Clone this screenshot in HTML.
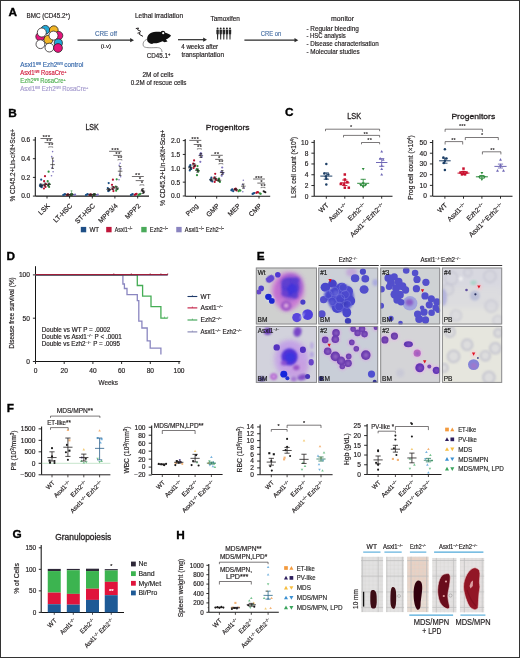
<!DOCTYPE html>
<html><head><meta charset="utf-8"><style>
html,body{margin:0;padding:0;background:#fff;}
#f{position:relative;width:520px;height:658px;overflow:hidden;background:#fff;}
svg{position:absolute;left:0;top:0;}
text{font-family:"Liberation Sans", Arial, sans-serif;}
</style></head><body><div id="f">
<svg width="520" height="658" viewBox="0 0 520 658">
<defs>
<filter id="bl1" x="-20%" y="-20%" width="140%" height="140%"><feGaussianBlur stdDeviation="0.8"/></filter>
<filter id="bl2" x="-20%" y="-20%" width="140%" height="140%"><feGaussianBlur stdDeviation="1.5"/></filter>
<filter id="bl3" x="-30%" y="-30%" width="160%" height="160%"><feGaussianBlur stdDeviation="2.5"/></filter>
<filter id="bl05" x="-30%" y="-30%" width="160%" height="160%"><feGaussianBlur stdDeviation="0.45"/></filter>
</defs>
<rect x="0" y="0" width="520" height="658" fill="#fff"/>
<text x="8.6" y="15.8" font-size="11.8" text-anchor="start" fill="#000" font-weight="bold" stroke="#000" stroke-width="0.35">A</text>
<text x="26.5" y="17.6" font-size="6.8" text-anchor="start" fill="#231f20" font-weight="normal" textLength="43.5" lengthAdjust="spacingAndGlyphs" stroke="#231f20" stroke-width="0.18">BMC (CD45.2<tspan baseline-shift="super" font-size="65%">+</tspan>)</text>
<circle cx="40.3" cy="36.6" r="4.5" fill="#e5157c" stroke="#231f20" stroke-width="0.75"/>
<circle cx="45.3" cy="29.8" r="4.4" fill="#20a9d8" stroke="#231f20" stroke-width="0.75"/>
<circle cx="41.8" cy="32.5" r="4.5" fill="#fff" stroke="#231f20" stroke-width="0.75"/>
<circle cx="53.8" cy="30.2" r="4.4" fill="#f2b627" stroke="#231f20" stroke-width="0.75"/>
<circle cx="58.6" cy="35.6" r="4.2" fill="#e5157c" stroke="#231f20" stroke-width="0.75"/>
<circle cx="48.4" cy="39.7" r="4.5" fill="#f2b627" stroke="#231f20" stroke-width="0.75"/>
<circle cx="53.5" cy="35.6" r="4.5" fill="#fff" stroke="#231f20" stroke-width="0.75"/>
<circle cx="40.4" cy="44.2" r="4.4" fill="#fff" stroke="#231f20" stroke-width="0.75"/>
<circle cx="49.4" cy="47.6" r="4.4" fill="#fff" stroke="#231f20" stroke-width="0.75"/>
<circle cx="58.3" cy="43" r="4.1" fill="#20a9d8" stroke="#231f20" stroke-width="0.75"/>
<circle cx="58" cy="48" r="4.4" fill="#e5157c" stroke="#231f20" stroke-width="0.75"/>
<text x="20.3" y="67.3" font-size="6.5" text-anchor="start" fill="#3b6cad" font-weight="normal" textLength="63.1" lengthAdjust="spacingAndGlyphs" stroke="#3b6cad" stroke-width="0.18">Asxl1<tspan baseline-shift="super" font-size="65%">fl/fl</tspan> Ezh2<tspan baseline-shift="super" font-size="65%">fl/fl</tspan> control</text>
<text x="20.3" y="75.14999999999999" font-size="6.5" text-anchor="start" fill="#d1203f" font-weight="normal" textLength="46.1" lengthAdjust="spacingAndGlyphs" stroke="#d1203f" stroke-width="0.18">Asxl1<tspan baseline-shift="super" font-size="65%">fl/fl</tspan> RosaCre<tspan baseline-shift="super" font-size="65%">+</tspan></text>
<text x="20.3" y="83.0" font-size="6.5" text-anchor="start" fill="#52b155" font-weight="normal" textLength="45.4" lengthAdjust="spacingAndGlyphs" stroke="#52b155" stroke-width="0.18">Ezh2<tspan baseline-shift="super" font-size="65%">fl/fl</tspan> RosaCre<tspan baseline-shift="super" font-size="65%">+</tspan></text>
<text x="20.3" y="90.85" font-size="6.5" text-anchor="start" fill="#a69ccf" font-weight="normal" textLength="68.1" lengthAdjust="spacingAndGlyphs" stroke="#a69ccf" stroke-width="0.18">Asxl1<tspan baseline-shift="super" font-size="65%">fl/fl</tspan> Ezh2<tspan baseline-shift="super" font-size="65%">fl/fl</tspan> RosaCre<tspan baseline-shift="super" font-size="65%">+</tspan></text>
<line x1="77.5" y1="40.2" x2="131" y2="40.2" stroke="#2a2a2a" stroke-width="1.2"/>
<path d="M130.2 38.1 L134 40.2 L130.2 42.300000000000004 Z" fill="#2a2a2a"/>
<text x="106" y="35.9" font-size="6.9" text-anchor="middle" fill="#4f75a8" font-weight="normal" textLength="22" lengthAdjust="spacingAndGlyphs" stroke="#4f75a8" stroke-width="0.18">CRE off</text>
<text x="106" y="48.2" font-size="6.2" text-anchor="middle" fill="#231f20" font-weight="normal" stroke="#231f20" stroke-width="0.18">(i.v)</text>
<text x="159" y="18.1" font-size="6.8" text-anchor="middle" fill="#231f20" font-weight="normal" textLength="48" lengthAdjust="spacingAndGlyphs" stroke="#231f20" stroke-width="0.18">Lethal irradiation</text>
<path d="M135.8 28.6 L138.5 28 L137.6 29.8 L141 31.5" fill="none" stroke="#231f20" stroke-width="1.0"/>
<path d="M137.5 33.2 L140 32.6 L139.4 34.4 L143 36.4" fill="none" stroke="#231f20" stroke-width="1.0"/>
<path d="M147.2 40.5 C146.5 35.5 150 32 156 31.8 C159.5 31.7 162 32 164.5 32.6 C167 33.4 169.5 34.2 171 35.4 C170.2 37 168 38.5 166 39.6 L167.5 41.6 L164.5 42.2 L162.5 41.2 C160 42.6 156.5 43.4 153.5 43.2 L152 44 L150 43.4 C148.6 42.6 147.6 41.8 147.2 40.5 Z" fill="#111" stroke="none" stroke-width="0.8"/>
<circle cx="162.9" cy="33.1" r="2.3" fill="#111"/>
<circle cx="163.2" cy="33.2" r="1.1" fill="#fff"/>
<path d="M147.3 39 C143.8 40.5 142.2 43.5 143.6 46.3 C145 48 150 47.8 156 47.6 C160 47.5 161.8 48.5 162 52" fill="none" stroke="#666" stroke-width="0.7"/>
<text x="158.6" y="58.2" font-size="6.8" text-anchor="middle" fill="#231f20" font-weight="normal" textLength="23.5" lengthAdjust="spacingAndGlyphs" stroke="#231f20" stroke-width="0.18">CD45.1<tspan baseline-shift="super" font-size="65%">+</tspan></text>
<text x="158" y="77.4" font-size="6.8" text-anchor="middle" fill="#231f20" font-weight="normal" textLength="31" lengthAdjust="spacingAndGlyphs" stroke="#231f20" stroke-width="0.18">2M of cells</text>
<text x="158.6" y="85.1" font-size="6.8" text-anchor="middle" fill="#231f20" font-weight="normal" textLength="55.7" lengthAdjust="spacingAndGlyphs" stroke="#231f20" stroke-width="0.18">0.2M of rescue cells</text>
<line x1="178" y1="39.7" x2="204" y2="39.7" stroke="#2a2a2a" stroke-width="1.2"/>
<path d="M203.2 37.6 L207 39.7 L203.2 41.800000000000004 Z" fill="#2a2a2a"/>
<text x="181.2" y="49.4" font-size="6.8" text-anchor="start" fill="#231f20" font-weight="normal" textLength="37" lengthAdjust="spacingAndGlyphs" stroke="#231f20" stroke-width="0.18">4 weeks after</text>
<text x="181.5" y="56.9" font-size="6.8" text-anchor="start" fill="#231f20" font-weight="normal" textLength="42.5" lengthAdjust="spacingAndGlyphs" stroke="#231f20" stroke-width="0.18">transplantation</text>
<text x="225.2" y="21.3" font-size="6.6" text-anchor="middle" fill="#231f20" font-weight="normal" textLength="29.5" lengthAdjust="spacingAndGlyphs" stroke="#231f20" stroke-width="0.18">Tamoxifen</text>
<circle cx="217.6" cy="28.5" r="0.95" fill="#222"/>
<path d="M216.35 29.7 L218.85 29.7 L218.75 34.2 L218.20 34.2 L218.10 39.6 L217.10 39.6 L217.00 34.2 L216.45 34.2 Z" fill="#262626"/>
<circle cx="220.7" cy="28.5" r="0.95" fill="#222"/>
<path d="M219.45 29.7 L221.95 29.7 L221.85 34.2 L221.30 34.2 L221.20 39.6 L220.20 39.6 L220.10 34.2 L219.55 34.2 Z" fill="#262626"/>
<circle cx="223.79999999999998" cy="28.5" r="0.95" fill="#222"/>
<path d="M222.55 29.7 L225.05 29.7 L224.95 34.2 L224.40 34.2 L224.30 39.6 L223.30 39.6 L223.20 34.2 L222.65 34.2 Z" fill="#262626"/>
<circle cx="226.9" cy="28.5" r="0.95" fill="#222"/>
<path d="M225.65 29.7 L228.15 29.7 L228.05 34.2 L227.50 34.2 L227.40 39.6 L226.40 39.6 L226.30 34.2 L225.75 34.2 Z" fill="#262626"/>
<circle cx="230.0" cy="28.5" r="0.95" fill="#222"/>
<path d="M228.75 29.7 L231.25 29.7 L231.15 34.2 L230.60 34.2 L230.50 39.6 L229.50 39.6 L229.40 34.2 L228.85 34.2 Z" fill="#262626"/>
<line x1="244.4" y1="40.2" x2="295.3" y2="40.2" stroke="#2a2a2a" stroke-width="1.2"/>
<path d="M294.5 38.1 L298.3 40.2 L294.5 42.300000000000004 Z" fill="#2a2a2a"/>
<text x="271" y="36.1" font-size="6.9" text-anchor="middle" fill="#4f75a8" font-weight="normal" textLength="20.6" lengthAdjust="spacingAndGlyphs" stroke="#4f75a8" stroke-width="0.18">CRE on</text>
<text x="342.5" y="21.2" font-size="6.9" text-anchor="middle" fill="#231f20" font-weight="normal" textLength="23" lengthAdjust="spacingAndGlyphs" stroke="#231f20" stroke-width="0.18">monitor</text>
<text x="306.4" y="30.6" font-size="6.9" text-anchor="start" fill="#231f20" font-weight="normal" textLength="52.4" lengthAdjust="spacingAndGlyphs" stroke="#231f20" stroke-width="0.18">- Regular bleeding</text>
<text x="306.4" y="38.35" font-size="6.9" text-anchor="start" fill="#231f20" font-weight="normal" textLength="39.4" lengthAdjust="spacingAndGlyphs" stroke="#231f20" stroke-width="0.18">- HSC analysis</text>
<text x="306.4" y="46.1" font-size="6.9" text-anchor="start" fill="#231f20" font-weight="normal" textLength="72.3" lengthAdjust="spacingAndGlyphs" stroke="#231f20" stroke-width="0.18">- Disease characterisation</text>
<text x="306.4" y="53.85" font-size="6.9" text-anchor="start" fill="#231f20" font-weight="normal" textLength="53.3" lengthAdjust="spacingAndGlyphs" stroke="#231f20" stroke-width="0.18">- Molecular studies</text>
<text x="8.31" y="116.9" font-size="11.8" text-anchor="start" fill="#000" font-weight="bold" stroke="#000" stroke-width="0.35">B</text>
<text x="92.1" y="129.8" font-size="8.4" text-anchor="middle" fill="#231f20" font-weight="normal" stroke="#231f20" stroke-width="0.3" textLength="13.4" lengthAdjust="spacingAndGlyphs">LSK</text>
<text x="227.7" y="129.7" font-size="8.1" text-anchor="middle" fill="#231f20" font-weight="normal" stroke="#231f20" stroke-width="0.3" textLength="43.8" lengthAdjust="spacingAndGlyphs">Progenitors</text>
<text x="15.3" y="165.2" font-size="7.5" text-anchor="middle" fill="#231f20" font-weight="normal" transform="rotate(-90 15.3 165.2)" textLength="72.5" lengthAdjust="spacingAndGlyphs" stroke="#231f20" stroke-width="0.18">% CD45.2+Lin-cKit+Sca+</text>
<text x="165.4" y="167.9" font-size="7.5" text-anchor="middle" fill="#231f20" font-weight="normal" transform="rotate(-90 165.4 167.9)" textLength="76" lengthAdjust="spacingAndGlyphs" stroke="#231f20" stroke-width="0.18">% CD45.2+Lin-cKit+Sca+</text>
<line x1="35.3" y1="137" x2="35.3" y2="196.1" stroke="#141414" stroke-width="1.05"/>
<line x1="32.9" y1="140.0" x2="35.3" y2="140.0" stroke="#141414" stroke-width="0.9"/>
<text x="30.299999999999997" y="142.376" font-size="6.6" text-anchor="end" fill="#231f20" font-weight="normal" stroke="#231f20" stroke-width="0.18">0.6</text>
<line x1="32.9" y1="158.7" x2="35.3" y2="158.7" stroke="#141414" stroke-width="0.9"/>
<text x="30.299999999999997" y="161.076" font-size="6.6" text-anchor="end" fill="#231f20" font-weight="normal" stroke="#231f20" stroke-width="0.18">0.4</text>
<line x1="32.9" y1="177.4" x2="35.3" y2="177.4" stroke="#141414" stroke-width="0.9"/>
<text x="30.299999999999997" y="179.776" font-size="6.6" text-anchor="end" fill="#231f20" font-weight="normal" stroke="#231f20" stroke-width="0.18">0.2</text>
<line x1="32.9" y1="196.1" x2="35.3" y2="196.1" stroke="#141414" stroke-width="0.9"/>
<text x="30.299999999999997" y="198.476" font-size="6.6" text-anchor="end" fill="#231f20" font-weight="normal" stroke="#231f20" stroke-width="0.18">0.0</text>
<line x1="35.3" y1="196.1" x2="149" y2="196.1" stroke="#141414" stroke-width="1.05"/>
<line x1="47" y1="196.1" x2="47" y2="198.5" stroke="#141414" stroke-width="0.9"/>
<text x="50.2" y="206.29999999999998" font-size="6.8" text-anchor="end" fill="#231f20" font-weight="normal" transform="rotate(-45 50.2 206.29999999999998)" stroke="#231f20" stroke-width="0.18">LSK</text>
<line x1="69.6" y1="196.1" x2="69.6" y2="198.5" stroke="#141414" stroke-width="0.9"/>
<text x="72.8" y="206.29999999999998" font-size="6.8" text-anchor="end" fill="#231f20" font-weight="normal" transform="rotate(-45 72.8 206.29999999999998)" stroke="#231f20" stroke-width="0.18">LT-HSC</text>
<line x1="92.3" y1="196.1" x2="92.3" y2="198.5" stroke="#141414" stroke-width="0.9"/>
<text x="95.5" y="206.29999999999998" font-size="6.8" text-anchor="end" fill="#231f20" font-weight="normal" transform="rotate(-45 95.5 206.29999999999998)" stroke="#231f20" stroke-width="0.18">ST-HSC</text>
<line x1="114.9" y1="196.1" x2="114.9" y2="198.5" stroke="#141414" stroke-width="0.9"/>
<text x="118.10000000000001" y="206.29999999999998" font-size="6.8" text-anchor="end" fill="#231f20" font-weight="normal" transform="rotate(-45 118.10000000000001 206.29999999999998)" stroke="#231f20" stroke-width="0.18">MPP3/4</text>
<line x1="137.7" y1="196.1" x2="137.7" y2="198.5" stroke="#141414" stroke-width="0.9"/>
<text x="140.89999999999998" y="206.29999999999998" font-size="6.8" text-anchor="end" fill="#231f20" font-weight="normal" transform="rotate(-45 140.89999999999998 206.29999999999998)" stroke="#231f20" stroke-width="0.18">MPP2</text>
<circle cx="41.2" cy="179.7" r="1.1" fill="#1a4f86"/>
<circle cx="40.3" cy="184.5" r="1.1" fill="#1a4f86"/>
<circle cx="42.1" cy="185.5" r="1.1" fill="#1a4f86"/>
<circle cx="40.7" cy="186.5" r="1.1" fill="#1a4f86"/>
<circle cx="41.7" cy="187.2" r="1.1" fill="#1a4f86"/>
<circle cx="40.1" cy="186" r="1.1" fill="#1a4f86"/>
<line x1="38.900000000000006" y1="185.3" x2="43.5" y2="185.3" stroke="#231f20" stroke-width="0.65"/>
<line x1="41.2" y1="184" x2="41.2" y2="186.6" stroke="#231f20" stroke-width="0.65"/>
<line x1="39.900000000000006" y1="184" x2="42.5" y2="184" stroke="#231f20" stroke-width="0.65"/>
<line x1="39.900000000000006" y1="186.6" x2="42.5" y2="186.6" stroke="#231f20" stroke-width="0.65"/>
<circle cx="45" cy="176.2" r="1.1" fill="#b8102e"/>
<circle cx="44.1" cy="181.2" r="1.1" fill="#b8102e"/>
<circle cx="45.9" cy="184" r="1.1" fill="#b8102e"/>
<circle cx="44.5" cy="185.5" r="1.1" fill="#b8102e"/>
<circle cx="45.5" cy="187" r="1.1" fill="#b8102e"/>
<circle cx="43.9" cy="188.5" r="1.1" fill="#b8102e"/>
<line x1="42.7" y1="184.5" x2="47.3" y2="184.5" stroke="#231f20" stroke-width="0.65"/>
<line x1="45" y1="183" x2="45" y2="186" stroke="#231f20" stroke-width="0.65"/>
<line x1="43.7" y1="183" x2="46.3" y2="183" stroke="#231f20" stroke-width="0.65"/>
<line x1="43.7" y1="186" x2="46.3" y2="186" stroke="#231f20" stroke-width="0.65"/>
<circle cx="48.6" cy="171.7" r="1.1" fill="#2f8f3c"/>
<circle cx="47.7" cy="181.2" r="1.1" fill="#2f8f3c"/>
<circle cx="49.5" cy="184" r="1.1" fill="#2f8f3c"/>
<circle cx="48.1" cy="185.5" r="1.1" fill="#2f8f3c"/>
<circle cx="49.1" cy="187" r="1.1" fill="#2f8f3c"/>
<line x1="46.300000000000004" y1="184.5" x2="50.9" y2="184.5" stroke="#231f20" stroke-width="0.65"/>
<line x1="48.6" y1="183" x2="48.6" y2="186" stroke="#231f20" stroke-width="0.65"/>
<line x1="47.300000000000004" y1="183" x2="49.9" y2="183" stroke="#231f20" stroke-width="0.65"/>
<line x1="47.300000000000004" y1="186" x2="49.9" y2="186" stroke="#231f20" stroke-width="0.65"/>
<circle cx="52.6" cy="151.6" r="0.8" fill="#7f74bd"/>
<circle cx="51.7" cy="156.6" r="0.8" fill="#7f74bd"/>
<circle cx="53.5" cy="161.1" r="0.8" fill="#7f74bd"/>
<circle cx="52.1" cy="167.6" r="0.8" fill="#7f74bd"/>
<circle cx="53.1" cy="171.7" r="0.8" fill="#7f74bd"/>
<circle cx="51.5" cy="175.7" r="0.8" fill="#7f74bd"/>
<line x1="50.300000000000004" y1="164.6" x2="54.9" y2="164.6" stroke="#231f20" stroke-width="0.65"/>
<line x1="52.6" y1="158" x2="52.6" y2="168.5" stroke="#231f20" stroke-width="0.65"/>
<line x1="51.300000000000004" y1="158" x2="53.9" y2="158" stroke="#231f20" stroke-width="0.65"/>
<line x1="51.300000000000004" y1="168.5" x2="53.9" y2="168.5" stroke="#231f20" stroke-width="0.65"/>
<circle cx="64.1" cy="194.6" r="1.1" fill="#1a4f86"/>
<circle cx="63.2" cy="195" r="1.1" fill="#1a4f86"/>
<circle cx="65.0" cy="194.2" r="1.1" fill="#1a4f86"/>
<circle cx="67.8" cy="194.4" r="1.1" fill="#b8102e"/>
<circle cx="66.9" cy="195" r="1.1" fill="#b8102e"/>
<circle cx="68.7" cy="194.8" r="1.1" fill="#b8102e"/>
<circle cx="71.4" cy="194.6" r="1.1" fill="#2f8f3c"/>
<circle cx="70.5" cy="195.1" r="1.1" fill="#2f8f3c"/>
<circle cx="72.3" cy="194.3" r="1.1" fill="#2f8f3c"/>
<circle cx="75.1" cy="194.5" r="1.1" fill="#7f74bd"/>
<circle cx="74.2" cy="195" r="1.1" fill="#7f74bd"/>
<line x1="65.5" y1="194.7" x2="70.1" y2="194.7" stroke="#231f20" stroke-width="0.65"/>
<line x1="67.8" y1="194" x2="67.8" y2="195.3" stroke="#231f20" stroke-width="0.65"/>
<line x1="66.5" y1="194" x2="69.1" y2="194" stroke="#231f20" stroke-width="0.65"/>
<line x1="66.5" y1="195.3" x2="69.1" y2="195.3" stroke="#231f20" stroke-width="0.65"/>
<line x1="69.1" y1="194.5" x2="73.69999999999999" y2="194.5" stroke="#231f20" stroke-width="0.65"/>
<line x1="71.39999999999999" y1="193.5" x2="71.39999999999999" y2="195.4" stroke="#231f20" stroke-width="0.65"/>
<line x1="70.1" y1="193.5" x2="72.69999999999999" y2="193.5" stroke="#231f20" stroke-width="0.65"/>
<line x1="70.1" y1="195.4" x2="72.69999999999999" y2="195.4" stroke="#231f20" stroke-width="0.65"/>
<circle cx="86.8" cy="194.6" r="1.1" fill="#1a4f86"/>
<circle cx="85.9" cy="195" r="1.1" fill="#1a4f86"/>
<circle cx="87.7" cy="194.2" r="1.1" fill="#1a4f86"/>
<circle cx="90.5" cy="194.4" r="1.1" fill="#b8102e"/>
<circle cx="89.6" cy="195" r="1.1" fill="#b8102e"/>
<circle cx="91.4" cy="194.8" r="1.1" fill="#b8102e"/>
<circle cx="94.1" cy="194.6" r="1.1" fill="#2f8f3c"/>
<circle cx="93.2" cy="195.1" r="1.1" fill="#2f8f3c"/>
<circle cx="95.0" cy="194.3" r="1.1" fill="#2f8f3c"/>
<circle cx="97.8" cy="194.5" r="1.1" fill="#7f74bd"/>
<circle cx="96.9" cy="195" r="1.1" fill="#7f74bd"/>
<line x1="88.2" y1="194.7" x2="92.8" y2="194.7" stroke="#231f20" stroke-width="0.65"/>
<line x1="90.5" y1="194" x2="90.5" y2="195.3" stroke="#231f20" stroke-width="0.65"/>
<line x1="89.2" y1="194" x2="91.8" y2="194" stroke="#231f20" stroke-width="0.65"/>
<line x1="89.2" y1="195.3" x2="91.8" y2="195.3" stroke="#231f20" stroke-width="0.65"/>
<line x1="91.8" y1="194.5" x2="96.39999999999999" y2="194.5" stroke="#231f20" stroke-width="0.65"/>
<line x1="94.1" y1="193.5" x2="94.1" y2="195.4" stroke="#231f20" stroke-width="0.65"/>
<line x1="92.8" y1="193.5" x2="95.39999999999999" y2="193.5" stroke="#231f20" stroke-width="0.65"/>
<line x1="92.8" y1="195.4" x2="95.39999999999999" y2="195.4" stroke="#231f20" stroke-width="0.65"/>
<line x1="71.5" y1="190.8" x2="71.5" y2="195" stroke="#2f8f3c" stroke-width="0.5"/>
<line x1="70.5" y1="190.8" x2="72.5" y2="190.8" stroke="#2f8f3c" stroke-width="0.5"/>
<circle cx="108.7" cy="183.1" r="1.1" fill="#1a4f86"/>
<circle cx="107.8" cy="188.1" r="1.1" fill="#1a4f86"/>
<circle cx="109.6" cy="189.8" r="1.1" fill="#1a4f86"/>
<circle cx="108.2" cy="191.1" r="1.1" fill="#1a4f86"/>
<circle cx="109.2" cy="190.5" r="1.1" fill="#1a4f86"/>
<line x1="106.4" y1="189.5" x2="111.0" y2="189.5" stroke="#231f20" stroke-width="0.65"/>
<line x1="108.7" y1="188.5" x2="108.7" y2="190.6" stroke="#231f20" stroke-width="0.65"/>
<line x1="107.4" y1="188.5" x2="110.0" y2="188.5" stroke="#231f20" stroke-width="0.65"/>
<line x1="107.4" y1="190.6" x2="110.0" y2="190.6" stroke="#231f20" stroke-width="0.65"/>
<circle cx="112.9" cy="179.7" r="1.1" fill="#b8102e"/>
<circle cx="112.0" cy="184.8" r="1.1" fill="#b8102e"/>
<circle cx="113.8" cy="187.3" r="1.1" fill="#b8102e"/>
<circle cx="112.4" cy="189" r="1.1" fill="#b8102e"/>
<circle cx="113.4" cy="191.1" r="1.1" fill="#b8102e"/>
<line x1="110.60000000000001" y1="188" x2="115.2" y2="188" stroke="#231f20" stroke-width="0.65"/>
<line x1="112.9" y1="186.5" x2="112.9" y2="189.5" stroke="#231f20" stroke-width="0.65"/>
<line x1="111.60000000000001" y1="186.5" x2="114.2" y2="186.5" stroke="#231f20" stroke-width="0.65"/>
<line x1="111.60000000000001" y1="189.5" x2="114.2" y2="189.5" stroke="#231f20" stroke-width="0.65"/>
<circle cx="116.7" cy="179.3" r="1.1" fill="#2f8f3c"/>
<circle cx="115.8" cy="186.5" r="1.1" fill="#2f8f3c"/>
<circle cx="117.6" cy="189" r="1.1" fill="#2f8f3c"/>
<circle cx="116.2" cy="190.7" r="1.1" fill="#2f8f3c"/>
<line x1="114.4" y1="188" x2="119.0" y2="188" stroke="#231f20" stroke-width="0.65"/>
<line x1="116.7" y1="186.8" x2="116.7" y2="189.3" stroke="#231f20" stroke-width="0.65"/>
<line x1="115.4" y1="186.8" x2="118.0" y2="186.8" stroke="#231f20" stroke-width="0.65"/>
<line x1="115.4" y1="189.3" x2="118.0" y2="189.3" stroke="#231f20" stroke-width="0.65"/>
<circle cx="120.1" cy="163.2" r="0.8" fill="#7f74bd"/>
<circle cx="119.2" cy="165.3" r="0.8" fill="#7f74bd"/>
<circle cx="121.0" cy="168.7" r="0.8" fill="#7f74bd"/>
<circle cx="119.6" cy="174.2" r="0.8" fill="#7f74bd"/>
<circle cx="120.6" cy="176.7" r="0.8" fill="#7f74bd"/>
<circle cx="119.0" cy="179.7" r="0.8" fill="#7f74bd"/>
<line x1="117.8" y1="171.2" x2="122.39999999999999" y2="171.2" stroke="#231f20" stroke-width="0.65"/>
<line x1="120.1" y1="166.5" x2="120.1" y2="175.5" stroke="#231f20" stroke-width="0.65"/>
<line x1="118.8" y1="166.5" x2="121.39999999999999" y2="166.5" stroke="#231f20" stroke-width="0.65"/>
<line x1="118.8" y1="175.5" x2="121.39999999999999" y2="175.5" stroke="#231f20" stroke-width="0.65"/>
<circle cx="131.8" cy="194.6" r="1.1" fill="#1a4f86"/>
<circle cx="130.9" cy="195" r="1.1" fill="#1a4f86"/>
<circle cx="132.7" cy="194.2" r="1.1" fill="#1a4f86"/>
<circle cx="135.7" cy="194.2" r="1.1" fill="#b8102e"/>
<circle cx="134.8" cy="194.8" r="1.1" fill="#b8102e"/>
<circle cx="136.6" cy="193.9" r="1.1" fill="#b8102e"/>
<circle cx="139.5" cy="194.3" r="1.1" fill="#2f8f3c"/>
<circle cx="138.6" cy="194.9" r="1.1" fill="#2f8f3c"/>
<circle cx="140.4" cy="193.8" r="1.1" fill="#2f8f3c"/>
<circle cx="142.9" cy="191.1" r="1.0" fill="#231f20"/>
<circle cx="142.0" cy="190" r="1.0" fill="#231f20"/>
<circle cx="143.8" cy="192.3" r="1.0" fill="#231f20"/>
<line x1="140.6" y1="191.1" x2="145.20000000000002" y2="191.1" stroke="#231f20" stroke-width="0.65"/>
<line x1="142.9" y1="188.6" x2="142.9" y2="193.5" stroke="#231f20" stroke-width="0.65"/>
<line x1="141.6" y1="188.6" x2="144.20000000000002" y2="188.6" stroke="#231f20" stroke-width="0.65"/>
<line x1="141.6" y1="193.5" x2="144.20000000000002" y2="193.5" stroke="#231f20" stroke-width="0.65"/>
<circle cx="190.3" cy="165.1" r="1.1" fill="#1a4f86"/>
<circle cx="189.4" cy="166.6" r="1.1" fill="#1a4f86"/>
<circle cx="191.2" cy="169" r="1.1" fill="#1a4f86"/>
<circle cx="189.8" cy="170.4" r="1.1" fill="#1a4f86"/>
<circle cx="190.8" cy="167.8" r="1.1" fill="#1a4f86"/>
<line x1="188.0" y1="167.8" x2="192.60000000000002" y2="167.8" stroke="#231f20" stroke-width="0.65"/>
<line x1="190.3" y1="166.2" x2="190.3" y2="169.4" stroke="#231f20" stroke-width="0.65"/>
<line x1="189.0" y1="166.2" x2="191.60000000000002" y2="166.2" stroke="#231f20" stroke-width="0.65"/>
<line x1="189.0" y1="169.4" x2="191.60000000000002" y2="169.4" stroke="#231f20" stroke-width="0.65"/>
<circle cx="194.1" cy="160.4" r="1.1" fill="#b8102e"/>
<circle cx="193.2" cy="163.7" r="1.1" fill="#b8102e"/>
<circle cx="195.0" cy="165.6" r="1.1" fill="#b8102e"/>
<circle cx="193.6" cy="168" r="1.1" fill="#b8102e"/>
<circle cx="194.6" cy="166.5" r="1.1" fill="#b8102e"/>
<line x1="191.79999999999998" y1="165" x2="196.4" y2="165" stroke="#231f20" stroke-width="0.65"/>
<line x1="194.1" y1="163.5" x2="194.1" y2="166.5" stroke="#231f20" stroke-width="0.65"/>
<line x1="192.79999999999998" y1="163.5" x2="195.4" y2="163.5" stroke="#231f20" stroke-width="0.65"/>
<line x1="192.79999999999998" y1="166.5" x2="195.4" y2="166.5" stroke="#231f20" stroke-width="0.65"/>
<circle cx="197.5" cy="166.1" r="1.1" fill="#2f8f3c"/>
<circle cx="196.6" cy="169.4" r="1.1" fill="#2f8f3c"/>
<circle cx="198.4" cy="171.4" r="1.1" fill="#2f8f3c"/>
<circle cx="197.0" cy="175.2" r="1.1" fill="#2f8f3c"/>
<circle cx="198.0" cy="170" r="1.1" fill="#2f8f3c"/>
<line x1="195.2" y1="170.5" x2="199.8" y2="170.5" stroke="#231f20" stroke-width="0.65"/>
<line x1="197.5" y1="168.8" x2="197.5" y2="172.2" stroke="#231f20" stroke-width="0.65"/>
<line x1="196.2" y1="168.8" x2="198.8" y2="168.8" stroke="#231f20" stroke-width="0.65"/>
<line x1="196.2" y1="172.2" x2="198.8" y2="172.2" stroke="#231f20" stroke-width="0.65"/>
<circle cx="200.8" cy="153.2" r="1.1" fill="#7f74bd"/>
<circle cx="199.9" cy="155.1" r="1.1" fill="#7f74bd"/>
<circle cx="201.7" cy="157" r="1.1" fill="#7f74bd"/>
<circle cx="200.3" cy="161.8" r="1.1" fill="#7f74bd"/>
<circle cx="201.3" cy="154" r="1.1" fill="#7f74bd"/>
<line x1="198.5" y1="155.6" x2="203.10000000000002" y2="155.6" stroke="#231f20" stroke-width="0.65"/>
<line x1="200.8" y1="153.5" x2="200.8" y2="157.5" stroke="#231f20" stroke-width="0.65"/>
<line x1="199.5" y1="153.5" x2="202.10000000000002" y2="153.5" stroke="#231f20" stroke-width="0.65"/>
<line x1="199.5" y1="157.5" x2="202.10000000000002" y2="157.5" stroke="#231f20" stroke-width="0.65"/>
<circle cx="211.4" cy="177.6" r="1.1" fill="#1a4f86"/>
<circle cx="210.5" cy="179.5" r="1.1" fill="#1a4f86"/>
<circle cx="212.3" cy="181.4" r="1.1" fill="#1a4f86"/>
<circle cx="210.9" cy="180.4" r="1.1" fill="#1a4f86"/>
<line x1="209.1" y1="179.8" x2="213.70000000000002" y2="179.8" stroke="#231f20" stroke-width="0.65"/>
<line x1="211.4" y1="178.8" x2="211.4" y2="180.8" stroke="#231f20" stroke-width="0.65"/>
<line x1="210.1" y1="178.8" x2="212.70000000000002" y2="178.8" stroke="#231f20" stroke-width="0.65"/>
<line x1="210.1" y1="180.8" x2="212.70000000000002" y2="180.8" stroke="#231f20" stroke-width="0.65"/>
<circle cx="215.2" cy="173.8" r="1.1" fill="#b8102e"/>
<circle cx="214.3" cy="177.6" r="1.1" fill="#b8102e"/>
<circle cx="216.1" cy="180" r="1.1" fill="#b8102e"/>
<circle cx="214.7" cy="181.9" r="1.1" fill="#b8102e"/>
<circle cx="215.7" cy="179" r="1.1" fill="#b8102e"/>
<line x1="212.89999999999998" y1="178.5" x2="217.5" y2="178.5" stroke="#231f20" stroke-width="0.65"/>
<line x1="215.2" y1="177" x2="215.2" y2="180" stroke="#231f20" stroke-width="0.65"/>
<line x1="213.89999999999998" y1="177" x2="216.5" y2="177" stroke="#231f20" stroke-width="0.65"/>
<line x1="213.89999999999998" y1="180" x2="216.5" y2="180" stroke="#231f20" stroke-width="0.65"/>
<circle cx="219" cy="178.5" r="1.1" fill="#2f8f3c"/>
<circle cx="218.1" cy="180.5" r="1.1" fill="#2f8f3c"/>
<circle cx="219.9" cy="181.9" r="1.1" fill="#2f8f3c"/>
<circle cx="218.5" cy="180" r="1.1" fill="#2f8f3c"/>
<line x1="216.7" y1="180.3" x2="221.3" y2="180.3" stroke="#231f20" stroke-width="0.65"/>
<line x1="219" y1="179.3" x2="219" y2="181.3" stroke="#231f20" stroke-width="0.65"/>
<line x1="217.7" y1="179.3" x2="220.3" y2="179.3" stroke="#231f20" stroke-width="0.65"/>
<line x1="217.7" y1="181.3" x2="220.3" y2="181.3" stroke="#231f20" stroke-width="0.65"/>
<circle cx="222.2" cy="167.5" r="1.1" fill="#7f74bd"/>
<circle cx="221.3" cy="171.8" r="1.1" fill="#7f74bd"/>
<circle cx="223.1" cy="173.3" r="1.1" fill="#7f74bd"/>
<circle cx="221.7" cy="175.7" r="1.1" fill="#7f74bd"/>
<circle cx="222.7" cy="172.5" r="1.1" fill="#7f74bd"/>
<line x1="219.89999999999998" y1="172.5" x2="224.5" y2="172.5" stroke="#231f20" stroke-width="0.65"/>
<line x1="222.2" y1="170.5" x2="222.2" y2="174.5" stroke="#231f20" stroke-width="0.65"/>
<line x1="220.89999999999998" y1="170.5" x2="223.5" y2="170.5" stroke="#231f20" stroke-width="0.65"/>
<line x1="220.89999999999998" y1="174.5" x2="223.5" y2="174.5" stroke="#231f20" stroke-width="0.65"/>
<circle cx="232.3" cy="189.4" r="1.1" fill="#1a4f86"/>
<circle cx="231.4" cy="190.3" r="1.1" fill="#1a4f86"/>
<circle cx="233.2" cy="191.2" r="1.1" fill="#1a4f86"/>
<circle cx="231.8" cy="189.8" r="1.1" fill="#1a4f86"/>
<circle cx="235.7" cy="188.5" r="1.1" fill="#b8102e"/>
<circle cx="234.8" cy="189.4" r="1.1" fill="#b8102e"/>
<circle cx="236.6" cy="190.4" r="1.1" fill="#b8102e"/>
<circle cx="235.2" cy="189" r="1.1" fill="#b8102e"/>
<circle cx="239.5" cy="190.2" r="1.1" fill="#2f8f3c"/>
<circle cx="238.6" cy="191.2" r="1.1" fill="#2f8f3c"/>
<circle cx="240.4" cy="190.6" r="1.1" fill="#2f8f3c"/>
<circle cx="243.3" cy="180.3" r="0.75" fill="#7f74bd"/>
<circle cx="242.4" cy="184.5" r="0.75" fill="#7f74bd"/>
<circle cx="244.2" cy="187.9" r="0.75" fill="#7f74bd"/>
<circle cx="242.8" cy="191.7" r="0.75" fill="#7f74bd"/>
<line x1="241.0" y1="186.2" x2="245.60000000000002" y2="186.2" stroke="#231f20" stroke-width="0.65"/>
<line x1="243.3" y1="184" x2="243.3" y2="188.2" stroke="#231f20" stroke-width="0.65"/>
<line x1="242.0" y1="184" x2="244.60000000000002" y2="184" stroke="#231f20" stroke-width="0.65"/>
<line x1="242.0" y1="188.2" x2="244.60000000000002" y2="188.2" stroke="#231f20" stroke-width="0.65"/>
<line x1="233.39999999999998" y1="189.4" x2="238.0" y2="189.4" stroke="#231f20" stroke-width="0.65"/>
<line x1="235.7" y1="188.7" x2="235.7" y2="190.1" stroke="#231f20" stroke-width="0.65"/>
<line x1="234.39999999999998" y1="188.7" x2="237.0" y2="188.7" stroke="#231f20" stroke-width="0.65"/>
<line x1="234.39999999999998" y1="190.1" x2="237.0" y2="190.1" stroke="#231f20" stroke-width="0.65"/>
<circle cx="253.5" cy="193.4" r="1.1" fill="#1a4f86"/>
<circle cx="252.6" cy="193.9" r="1.1" fill="#1a4f86"/>
<circle cx="254.4" cy="193" r="1.1" fill="#1a4f86"/>
<circle cx="257.3" cy="192.1" r="1.1" fill="#b8102e"/>
<circle cx="256.4" cy="192.8" r="1.1" fill="#b8102e"/>
<circle cx="258.2" cy="192.4" r="1.1" fill="#b8102e"/>
<circle cx="260.7" cy="193.8" r="1.1" fill="#2f8f3c"/>
<circle cx="259.8" cy="193.3" r="1.1" fill="#2f8f3c"/>
<circle cx="264.5" cy="191.7" r="1.0" fill="#231f20"/>
<circle cx="263.6" cy="191.3" r="1.0" fill="#231f20"/>
<circle cx="265.4" cy="192.2" r="1.0" fill="#231f20"/>
<text x="43.65" y="139.00" font-size="6.2" text-anchor="middle" fill="#231f20" font-weight="bold">*</text>
<text x="46.25" y="139.00" font-size="6.2" text-anchor="middle" fill="#231f20" font-weight="bold">*</text>
<text x="48.85" y="139.00" font-size="6.2" text-anchor="middle" fill="#231f20" font-weight="bold">*</text>
<line x1="40.5" y1="138.5" x2="52.6" y2="138.5" stroke="#231f20" stroke-width="0.65"/>
<text x="47.55" y="143.30" font-size="6.2" text-anchor="middle" fill="#231f20" font-weight="bold">*</text>
<text x="50.15" y="143.30" font-size="6.2" text-anchor="middle" fill="#231f20" font-weight="bold">*</text>
<line x1="44.5" y1="142.6" x2="52.6" y2="142.6" stroke="#231f20" stroke-width="0.65"/>
<text x="49.50" y="147.40" font-size="6.2" text-anchor="middle" fill="#231f20" font-weight="bold">*</text>
<text x="52.10" y="147.40" font-size="6.2" text-anchor="middle" fill="#231f20" font-weight="bold">*</text>
<path d="M48.7 147.70000000000002 L48.7 146.8 L52.7 146.8 L52.7 147.70000000000002" fill="none" stroke="#231f20" stroke-width="0.5"/>
<text x="112.55" y="151.80" font-size="6.2" text-anchor="middle" fill="#231f20" font-weight="bold">*</text>
<text x="115.15" y="151.80" font-size="6.2" text-anchor="middle" fill="#231f20" font-weight="bold">*</text>
<text x="117.75" y="151.80" font-size="6.2" text-anchor="middle" fill="#231f20" font-weight="bold">*</text>
<line x1="109.1" y1="151.29999999999998" x2="121.8" y2="151.29999999999998" stroke="#231f20" stroke-width="0.65"/>
<text x="116.55" y="156.10" font-size="6.2" text-anchor="middle" fill="#231f20" font-weight="bold">*</text>
<text x="119.15" y="156.10" font-size="6.2" text-anchor="middle" fill="#231f20" font-weight="bold">*</text>
<line x1="113.3" y1="155.39999999999998" x2="121.8" y2="155.39999999999998" stroke="#231f20" stroke-width="0.65"/>
<text x="118.70" y="160.20" font-size="6.2" text-anchor="middle" fill="#231f20" font-weight="bold">*</text>
<text x="121.30" y="160.20" font-size="6.2" text-anchor="middle" fill="#231f20" font-weight="bold">*</text>
<path d="M117.89999999999999 160.5 L117.89999999999999 159.6 L121.89999999999999 159.6 L121.89999999999999 160.5" fill="none" stroke="#231f20" stroke-width="0.5"/>
<text x="136.25" y="177.00" font-size="6.2" text-anchor="middle" fill="#231f20" font-weight="bold">*</text>
<text x="138.85" y="177.00" font-size="6.2" text-anchor="middle" fill="#231f20" font-weight="bold">*</text>
<line x1="131.9" y1="176.5" x2="143.8" y2="176.5" stroke="#231f20" stroke-width="0.65"/>
<text x="140.05" y="181.30" font-size="6.2" text-anchor="middle" fill="#231f20" font-weight="bold">*</text>
<line x1="135.7" y1="180.6" x2="143.8" y2="180.6" stroke="#231f20" stroke-width="0.65"/>
<text x="142.00" y="185.40" font-size="6.2" text-anchor="middle" fill="#231f20" font-weight="bold">*</text>
<path d="M139.9 185.70000000000002 L139.9 184.8 L143.9 184.8 L143.9 185.70000000000002" fill="none" stroke="#231f20" stroke-width="0.5"/>
<line x1="185.2" y1="139" x2="185.2" y2="196" stroke="#141414" stroke-width="1.05"/>
<line x1="182.79999999999998" y1="140.6" x2="185.2" y2="140.6" stroke="#141414" stroke-width="0.9"/>
<text x="180.2" y="142.976" font-size="6.6" text-anchor="end" fill="#231f20" font-weight="normal" stroke="#231f20" stroke-width="0.18">2.0</text>
<line x1="182.79999999999998" y1="154.45" x2="185.2" y2="154.45" stroke="#141414" stroke-width="0.9"/>
<text x="180.2" y="156.826" font-size="6.6" text-anchor="end" fill="#231f20" font-weight="normal" stroke="#231f20" stroke-width="0.18">1.5</text>
<line x1="182.79999999999998" y1="168.3" x2="185.2" y2="168.3" stroke="#141414" stroke-width="0.9"/>
<text x="180.2" y="170.67600000000002" font-size="6.6" text-anchor="end" fill="#231f20" font-weight="normal" stroke="#231f20" stroke-width="0.18">1.0</text>
<line x1="182.79999999999998" y1="182.15" x2="185.2" y2="182.15" stroke="#141414" stroke-width="0.9"/>
<text x="180.2" y="184.526" font-size="6.6" text-anchor="end" fill="#231f20" font-weight="normal" stroke="#231f20" stroke-width="0.18">0.5</text>
<line x1="182.79999999999998" y1="196.0" x2="185.2" y2="196.0" stroke="#141414" stroke-width="0.9"/>
<text x="180.2" y="198.376" font-size="6.6" text-anchor="end" fill="#231f20" font-weight="normal" stroke="#231f20" stroke-width="0.18">0.0</text>
<line x1="185.2" y1="196.2" x2="270.2" y2="196.2" stroke="#141414" stroke-width="1.05"/>
<line x1="195.5" y1="196.2" x2="195.5" y2="198.6" stroke="#141414" stroke-width="0.9"/>
<text x="198.7" y="206.39999999999998" font-size="6.8" text-anchor="end" fill="#231f20" font-weight="normal" transform="rotate(-45 198.7 206.39999999999998)" stroke="#231f20" stroke-width="0.18">Prog</text>
<line x1="216.7" y1="196.2" x2="216.7" y2="198.6" stroke="#141414" stroke-width="0.9"/>
<text x="219.89999999999998" y="206.39999999999998" font-size="6.8" text-anchor="end" fill="#231f20" font-weight="normal" transform="rotate(-45 219.89999999999998 206.39999999999998)" stroke="#231f20" stroke-width="0.18">GMP</text>
<line x1="237.8" y1="196.2" x2="237.8" y2="198.6" stroke="#141414" stroke-width="0.9"/>
<text x="241.0" y="206.39999999999998" font-size="6.8" text-anchor="end" fill="#231f20" font-weight="normal" transform="rotate(-45 241.0 206.39999999999998)" stroke="#231f20" stroke-width="0.18">MEP</text>
<line x1="259" y1="196.2" x2="259" y2="198.6" stroke="#141414" stroke-width="0.9"/>
<text x="262.2" y="206.39999999999998" font-size="6.8" text-anchor="end" fill="#231f20" font-weight="normal" transform="rotate(-45 262.2 206.39999999999998)" stroke="#231f20" stroke-width="0.18">CMP</text>
<text x="192.40" y="140.90" font-size="6.2" text-anchor="middle" fill="#231f20" font-weight="bold">*</text>
<text x="195.00" y="140.90" font-size="6.2" text-anchor="middle" fill="#231f20" font-weight="bold">*</text>
<text x="197.60" y="140.90" font-size="6.2" text-anchor="middle" fill="#231f20" font-weight="bold">*</text>
<line x1="189.3" y1="140.4" x2="201.3" y2="140.4" stroke="#231f20" stroke-width="0.65"/>
<text x="197.80" y="145.20" font-size="6.2" text-anchor="middle" fill="#231f20" font-weight="bold">*</text>
<line x1="193.7" y1="144.5" x2="201.3" y2="144.5" stroke="#231f20" stroke-width="0.65"/>
<text x="198.20" y="149.30" font-size="6.2" text-anchor="middle" fill="#231f20" font-weight="bold">*</text>
<text x="200.80" y="149.30" font-size="6.2" text-anchor="middle" fill="#231f20" font-weight="bold">*</text>
<path d="M197.4 149.60000000000002 L197.4 148.70000000000002 L201.4 148.70000000000002 L201.4 149.60000000000002" fill="none" stroke="#231f20" stroke-width="0.5"/>
<text x="215.25" y="155.80" font-size="6.2" text-anchor="middle" fill="#231f20" font-weight="bold">*</text>
<text x="217.85" y="155.80" font-size="6.2" text-anchor="middle" fill="#231f20" font-weight="bold">*</text>
<line x1="210.9" y1="155.29999999999998" x2="222.8" y2="155.29999999999998" stroke="#231f20" stroke-width="0.65"/>
<text x="219.30" y="160.10" font-size="6.2" text-anchor="middle" fill="#231f20" font-weight="bold">*</text>
<line x1="215.2" y1="159.39999999999998" x2="222.8" y2="159.39999999999998" stroke="#231f20" stroke-width="0.65"/>
<text x="219.70" y="164.20" font-size="6.2" text-anchor="middle" fill="#231f20" font-weight="bold">*</text>
<text x="222.30" y="164.20" font-size="6.2" text-anchor="middle" fill="#231f20" font-weight="bold">*</text>
<path d="M218.9 164.5 L218.9 163.6 L222.9 163.6 L222.9 164.5" fill="none" stroke="#231f20" stroke-width="0.5"/>
<text x="256.10" y="179.50" font-size="6.2" text-anchor="middle" fill="#231f20" font-weight="bold">*</text>
<text x="258.70" y="179.50" font-size="6.2" text-anchor="middle" fill="#231f20" font-weight="bold">*</text>
<text x="261.30" y="179.50" font-size="6.2" text-anchor="middle" fill="#231f20" font-weight="bold">*</text>
<line x1="253.1" y1="179.0" x2="264.9" y2="179.0" stroke="#231f20" stroke-width="0.65"/>
<text x="261.40" y="183.80" font-size="6.2" text-anchor="middle" fill="#231f20" font-weight="bold">*</text>
<line x1="257.3" y1="183.1" x2="264.9" y2="183.1" stroke="#231f20" stroke-width="0.65"/>
<text x="261.80" y="187.90" font-size="6.2" text-anchor="middle" fill="#231f20" font-weight="bold">*</text>
<text x="264.40" y="187.90" font-size="6.2" text-anchor="middle" fill="#231f20" font-weight="bold">*</text>
<path d="M261.0 188.20000000000002 L261.0 187.3 L265.0 187.3 L265.0 188.20000000000002" fill="none" stroke="#231f20" stroke-width="0.5"/>
<rect x="80.8" y="226.9" width="5.4" height="5.4" fill="#1f4f86"/>
<text x="89.39999999999999" y="232.2" font-size="6.9" text-anchor="start" fill="#231f20" font-weight="normal" textLength="9.7" lengthAdjust="spacingAndGlyphs" stroke="#231f20" stroke-width="0.18">WT</text>
<rect x="106.2" y="226.9" width="5.4" height="5.4" fill="#c0163a"/>
<text x="114.8" y="232.2" font-size="6.9" text-anchor="start" fill="#231f20" font-weight="normal" textLength="17.8" lengthAdjust="spacingAndGlyphs" stroke="#231f20" stroke-width="0.18">Asxl1<tspan baseline-shift="super" font-size="65%">−/−</tspan></text>
<rect x="141.25" y="226.9" width="5.4" height="5.4" fill="#4aaa5a"/>
<text x="149.85" y="232.2" font-size="6.9" text-anchor="start" fill="#231f20" font-weight="normal" textLength="18.25" lengthAdjust="spacingAndGlyphs" stroke="#231f20" stroke-width="0.18">Ezh2<tspan baseline-shift="super" font-size="65%">−/−</tspan></text>
<rect x="176.25" y="226.9" width="5.4" height="5.4" fill="#8a84c0"/>
<text x="184.85" y="232.2" font-size="6.9" text-anchor="start" fill="#231f20" font-weight="normal" textLength="39.25" lengthAdjust="spacingAndGlyphs" stroke="#231f20" stroke-width="0.18">Asxl1<tspan baseline-shift="super" font-size="65%">−/−</tspan> Ezh2<tspan baseline-shift="super" font-size="65%">−/−</tspan></text>
<text x="285.12" y="116.1" font-size="11.8" text-anchor="start" fill="#000" font-weight="bold" stroke="#000" stroke-width="0.35">C</text>
<text x="354.2" y="119.4" font-size="8.5" text-anchor="middle" fill="#231f20" font-weight="normal" stroke="#231f20" stroke-width="0.3" textLength="13.9" lengthAdjust="spacingAndGlyphs">LSK</text>
<text x="473.3" y="119.4" font-size="8.1" text-anchor="middle" fill="#231f20" font-weight="normal" stroke="#231f20" stroke-width="0.3" textLength="43.8" lengthAdjust="spacingAndGlyphs">Progenitors</text>
<text x="296.5" y="167.4" font-size="7.0" text-anchor="middle" fill="#231f20" font-weight="normal" transform="rotate(-90 296.5 167.4)" textLength="61" lengthAdjust="spacingAndGlyphs" stroke="#231f20" stroke-width="0.18">LSK cell count (×10<tspan baseline-shift="super" font-size="65%">4</tspan>)</text>
<text x="413.2" y="167.5" font-size="7.0" text-anchor="middle" fill="#231f20" font-weight="normal" transform="rotate(-90 413.2 167.5)" textLength="64.5" lengthAdjust="spacingAndGlyphs" stroke="#231f20" stroke-width="0.18">Prog cell count (×10<tspan baseline-shift="super" font-size="65%">4</tspan>)</text>
<line x1="314.2" y1="140" x2="314.2" y2="196.3" stroke="#141414" stroke-width="1.05"/>
<line x1="311.4" y1="142.4" x2="314.2" y2="142.4" stroke="#141414" stroke-width="0.9"/>
<text x="308.4" y="144.776" font-size="6.6" text-anchor="end" fill="#231f20" font-weight="normal" stroke="#231f20" stroke-width="0.18">10</text>
<line x1="311.4" y1="153.18" x2="314.2" y2="153.18" stroke="#141414" stroke-width="0.9"/>
<text x="308.4" y="155.556" font-size="6.6" text-anchor="end" fill="#231f20" font-weight="normal" stroke="#231f20" stroke-width="0.18">8</text>
<line x1="311.4" y1="163.96" x2="314.2" y2="163.96" stroke="#141414" stroke-width="0.9"/>
<text x="308.4" y="166.336" font-size="6.6" text-anchor="end" fill="#231f20" font-weight="normal" stroke="#231f20" stroke-width="0.18">6</text>
<line x1="311.4" y1="174.74" x2="314.2" y2="174.74" stroke="#141414" stroke-width="0.9"/>
<text x="308.4" y="177.116" font-size="6.6" text-anchor="end" fill="#231f20" font-weight="normal" stroke="#231f20" stroke-width="0.18">4</text>
<line x1="311.4" y1="185.52" x2="314.2" y2="185.52" stroke="#141414" stroke-width="0.9"/>
<text x="308.4" y="187.89600000000002" font-size="6.6" text-anchor="end" fill="#231f20" font-weight="normal" stroke="#231f20" stroke-width="0.18">2</text>
<line x1="311.4" y1="196.3" x2="314.2" y2="196.3" stroke="#141414" stroke-width="0.9"/>
<text x="308.4" y="198.67600000000002" font-size="6.6" text-anchor="end" fill="#231f20" font-weight="normal" stroke="#231f20" stroke-width="0.18">0</text>
<line x1="314.2" y1="196.3" x2="392.5" y2="196.3" stroke="#141414" stroke-width="1.05"/>
<line x1="326.3" y1="196.3" x2="326.3" y2="198.70000000000002" stroke="#141414" stroke-width="0.9"/>
<text x="329.1" y="205.8" font-size="6.8" text-anchor="end" fill="#231f20" font-weight="normal" transform="rotate(-45 329.1 205.8)" stroke="#231f20" stroke-width="0.18">WT</text>
<line x1="344.8" y1="196.3" x2="344.8" y2="198.70000000000002" stroke="#141414" stroke-width="0.9"/>
<text x="347.6" y="205.8" font-size="6.8" text-anchor="end" fill="#231f20" font-weight="normal" transform="rotate(-45 347.6 205.8)" stroke="#231f20" stroke-width="0.18">Asxl1<tspan baseline-shift="super" font-size="65%">−/−</tspan></text>
<line x1="363.2" y1="196.3" x2="363.2" y2="198.70000000000002" stroke="#141414" stroke-width="0.9"/>
<text x="366.0" y="205.8" font-size="6.8" text-anchor="end" fill="#231f20" font-weight="normal" transform="rotate(-45 366.0 205.8)" stroke="#231f20" stroke-width="0.18">Ezh2<tspan baseline-shift="super" font-size="65%">−/−</tspan></text>
<line x1="381.7" y1="196.3" x2="381.7" y2="198.70000000000002" stroke="#141414" stroke-width="0.9"/>
<text x="384.5" y="205.8" font-size="6.8" text-anchor="end" fill="#231f20" font-weight="normal" transform="rotate(-45 384.5 205.8)" stroke="#231f20" stroke-width="0.18">Asxl1<tspan baseline-shift="super" font-size="65%">−/−</tspan>Ezh2<tspan baseline-shift="super" font-size="65%">−/−</tspan></text>
<circle cx="326.3" cy="164" r="1.25" fill="#1d3f66"/>
<circle cx="324.3" cy="173.5" r="1.25" fill="#1d3f66"/>
<circle cx="328.3" cy="174.5" r="1.25" fill="#1d3f66"/>
<circle cx="325.8" cy="176.5" r="1.25" fill="#1d3f66"/>
<circle cx="326.3" cy="178.8" r="1.25" fill="#1d3f66"/>
<circle cx="326.3" cy="184.6" r="1.25" fill="#1d3f66"/>
<line x1="320.3" y1="176.1" x2="332.3" y2="176.1" stroke="#1d3f66" stroke-width="1.0"/>
<line x1="326.3" y1="172.9" x2="326.3" y2="179.2" stroke="#1d3f66" stroke-width="0.9"/>
<line x1="323.7" y1="172.9" x2="328.90000000000003" y2="172.9" stroke="#1d3f66" stroke-width="0.9"/>
<line x1="323.7" y1="179.2" x2="328.90000000000003" y2="179.2" stroke="#1d3f66" stroke-width="0.9"/>
<rect x="343.55" y="173.25" width="2.5" height="2.5" fill="#c8102e"/>
<rect x="343.55" y="178.25" width="2.5" height="2.5" fill="#c8102e"/>
<rect x="339.55" y="182.75" width="2.5" height="2.5" fill="#c8102e"/>
<rect x="342.55" y="183.15" width="2.5" height="2.5" fill="#c8102e"/>
<rect x="343.55" y="186.45" width="2.5" height="2.5" fill="#c8102e"/>
<rect x="347.55" y="186.45" width="2.5" height="2.5" fill="#c8102e"/>
<rect x="346.05" y="180.95" width="2.5" height="2.5" fill="#c8102e"/>
<line x1="340.1" y1="182.8" x2="349.5" y2="182.8" stroke="#c8102e" stroke-width="1.0"/>
<line x1="344.8" y1="180" x2="344.8" y2="185.5" stroke="#c8102e" stroke-width="0.9"/>
<line x1="342.2" y1="180" x2="347.40000000000003" y2="180" stroke="#c8102e" stroke-width="0.9"/>
<line x1="342.2" y1="185.5" x2="347.40000000000003" y2="185.5" stroke="#c8102e" stroke-width="0.9"/>
<path d="M363.20 170.50 L364.64 167.94 L361.76 167.94Z" fill="#2e8b3c"/>
<path d="M360.70 186.50 L362.14 183.94 L359.26 183.94Z" fill="#2e8b3c"/>
<path d="M365.70 186.50 L367.14 183.94 L364.26 183.94Z" fill="#2e8b3c"/>
<path d="M363.20 188.60 L364.64 186.04 L361.76 186.04Z" fill="#2e8b3c"/>
<path d="M363.20 184.80 L364.64 182.24 L361.76 182.24Z" fill="#2e8b3c"/>
<line x1="357.2" y1="183.3" x2="369.2" y2="183.3" stroke="#2e8b3c" stroke-width="1.0"/>
<line x1="363.2" y1="179.3" x2="363.2" y2="185.5" stroke="#2e8b3c" stroke-width="0.9"/>
<line x1="360.59999999999997" y1="179.3" x2="365.8" y2="179.3" stroke="#2e8b3c" stroke-width="0.9"/>
<line x1="360.59999999999997" y1="185.5" x2="365.8" y2="185.5" stroke="#2e8b3c" stroke-width="0.9"/>
<path d="M381.70 150.00 L383.14 152.56 L380.26 152.56Z" fill="#7069b6"/>
<path d="M380.20 157.10 L381.64 159.66 L378.76 159.66Z" fill="#7069b6"/>
<path d="M383.20 158.20 L384.64 160.76 L381.76 160.76Z" fill="#7069b6"/>
<path d="M381.70 164.30 L383.14 166.86 L380.26 166.86Z" fill="#7069b6"/>
<path d="M381.70 167.50 L383.14 170.06 L380.26 170.06Z" fill="#7069b6"/>
<path d="M381.70 173.00 L383.14 175.56 L380.26 175.56Z" fill="#7069b6"/>
<line x1="376.0" y1="162.5" x2="387.4" y2="162.5" stroke="#7069b6" stroke-width="1.0"/>
<line x1="381.7" y1="158.6" x2="381.7" y2="166.3" stroke="#7069b6" stroke-width="0.9"/>
<line x1="379.09999999999997" y1="158.6" x2="384.3" y2="158.6" stroke="#7069b6" stroke-width="0.9"/>
<line x1="379.09999999999997" y1="166.3" x2="384.3" y2="166.3" stroke="#7069b6" stroke-width="0.9"/>
<path d="M325.5 131.2 L325.5 129.2 L379.6 129.2 L379.6 131.2" fill="none" stroke="#231f20" stroke-width="0.6"/>
<text x="351.20" y="128.60" font-size="5.6" text-anchor="middle" fill="#231f20" font-weight="bold">*</text>
<path d="M343.5 137.4 L343.5 135.4 L379.6 135.4 L379.6 137.4" fill="none" stroke="#231f20" stroke-width="0.6"/>
<text x="364.65" y="135.50" font-size="5.6" text-anchor="middle" fill="#231f20" font-weight="bold">*</text>
<text x="366.95" y="135.50" font-size="5.6" text-anchor="middle" fill="#231f20" font-weight="bold">*</text>
<path d="M361.5 144.3 L361.5 142.5 L379.6 142.5 L379.6 144.3" fill="none" stroke="#231f20" stroke-width="0.6"/>
<text x="368.45" y="142.30" font-size="5.6" text-anchor="middle" fill="#231f20" font-weight="bold">*</text>
<text x="370.75" y="142.30" font-size="5.6" text-anchor="middle" fill="#231f20" font-weight="bold">*</text>
<line x1="432.7" y1="140" x2="432.7" y2="196.1" stroke="#141414" stroke-width="1.05"/>
<line x1="429.9" y1="142.5" x2="432.7" y2="142.5" stroke="#141414" stroke-width="0.9"/>
<text x="426.9" y="144.876" font-size="6.6" text-anchor="end" fill="#231f20" font-weight="normal" stroke="#231f20" stroke-width="0.18">50</text>
<line x1="429.9" y1="153.22" x2="432.7" y2="153.22" stroke="#141414" stroke-width="0.9"/>
<text x="426.9" y="155.596" font-size="6.6" text-anchor="end" fill="#231f20" font-weight="normal" stroke="#231f20" stroke-width="0.18">40</text>
<line x1="429.9" y1="163.94" x2="432.7" y2="163.94" stroke="#141414" stroke-width="0.9"/>
<text x="426.9" y="166.316" font-size="6.6" text-anchor="end" fill="#231f20" font-weight="normal" stroke="#231f20" stroke-width="0.18">30</text>
<line x1="429.9" y1="174.66" x2="432.7" y2="174.66" stroke="#141414" stroke-width="0.9"/>
<text x="426.9" y="177.036" font-size="6.6" text-anchor="end" fill="#231f20" font-weight="normal" stroke="#231f20" stroke-width="0.18">20</text>
<line x1="429.9" y1="185.38" x2="432.7" y2="185.38" stroke="#141414" stroke-width="0.9"/>
<text x="426.9" y="187.756" font-size="6.6" text-anchor="end" fill="#231f20" font-weight="normal" stroke="#231f20" stroke-width="0.18">10</text>
<line x1="429.9" y1="196.1" x2="432.7" y2="196.1" stroke="#141414" stroke-width="0.9"/>
<text x="426.9" y="198.476" font-size="6.6" text-anchor="end" fill="#231f20" font-weight="normal" stroke="#231f20" stroke-width="0.18">0</text>
<line x1="432.7" y1="196.3" x2="512.5" y2="196.3" stroke="#141414" stroke-width="1.05"/>
<line x1="444.9" y1="196.3" x2="444.9" y2="198.70000000000002" stroke="#141414" stroke-width="0.9"/>
<text x="447.7" y="205.8" font-size="6.8" text-anchor="end" fill="#231f20" font-weight="normal" transform="rotate(-45 447.7 205.8)" stroke="#231f20" stroke-width="0.18">WT</text>
<line x1="463.5" y1="196.3" x2="463.5" y2="198.70000000000002" stroke="#141414" stroke-width="0.9"/>
<text x="466.3" y="205.8" font-size="6.8" text-anchor="end" fill="#231f20" font-weight="normal" transform="rotate(-45 466.3 205.8)" stroke="#231f20" stroke-width="0.18">Asxl1<tspan baseline-shift="super" font-size="65%">−/−</tspan></text>
<line x1="481.9" y1="196.3" x2="481.9" y2="198.70000000000002" stroke="#141414" stroke-width="0.9"/>
<text x="484.7" y="205.8" font-size="6.8" text-anchor="end" fill="#231f20" font-weight="normal" transform="rotate(-45 484.7 205.8)" stroke="#231f20" stroke-width="0.18">Ezh2<tspan baseline-shift="super" font-size="65%">−/−</tspan></text>
<line x1="500.5" y1="196.3" x2="500.5" y2="198.70000000000002" stroke="#141414" stroke-width="0.9"/>
<text x="503.3" y="205.8" font-size="6.8" text-anchor="end" fill="#231f20" font-weight="normal" transform="rotate(-45 503.3 205.8)" stroke="#231f20" stroke-width="0.18">Asxl1<tspan baseline-shift="super" font-size="65%">−/−</tspan>Ezh2<tspan baseline-shift="super" font-size="65%">−/−</tspan></text>
<circle cx="444.9" cy="149.2" r="1.25" fill="#1d3f66"/>
<circle cx="443.4" cy="157.5" r="1.25" fill="#1d3f66"/>
<circle cx="446.4" cy="158.5" r="1.25" fill="#1d3f66"/>
<circle cx="444.9" cy="160.8" r="1.25" fill="#1d3f66"/>
<circle cx="443.9" cy="163" r="1.25" fill="#1d3f66"/>
<circle cx="444.9" cy="169.9" r="1.25" fill="#1d3f66"/>
<line x1="439.09999999999997" y1="160.8" x2="450.7" y2="160.8" stroke="#1d3f66" stroke-width="1.0"/>
<line x1="444.9" y1="158.3" x2="444.9" y2="163.2" stroke="#1d3f66" stroke-width="0.9"/>
<line x1="442.29999999999995" y1="158.3" x2="447.5" y2="158.3" stroke="#1d3f66" stroke-width="0.9"/>
<line x1="442.29999999999995" y1="163.2" x2="447.5" y2="163.2" stroke="#1d3f66" stroke-width="0.9"/>
<rect x="462.25" y="167.35" width="2.5" height="2.5" fill="#c8102e"/>
<rect x="459.25" y="171.25" width="2.5" height="2.5" fill="#c8102e"/>
<rect x="465.25" y="171.25" width="2.5" height="2.5" fill="#c8102e"/>
<rect x="460.75" y="173.15" width="2.5" height="2.5" fill="#c8102e"/>
<rect x="463.75" y="173.15" width="2.5" height="2.5" fill="#c8102e"/>
<rect x="462.25" y="170.75" width="2.5" height="2.5" fill="#c8102e"/>
<line x1="457.5" y1="173.1" x2="469.5" y2="173.1" stroke="#c8102e" stroke-width="1.0"/>
<line x1="463.5" y1="171.5" x2="463.5" y2="174.5" stroke="#c8102e" stroke-width="0.9"/>
<line x1="460.9" y1="171.5" x2="466.1" y2="171.5" stroke="#c8102e" stroke-width="0.9"/>
<line x1="460.9" y1="174.5" x2="466.1" y2="174.5" stroke="#c8102e" stroke-width="0.9"/>
<path d="M481.90 174.60 L483.34 172.04 L480.46 172.04Z" fill="#2e8b3c"/>
<path d="M479.40 178.50 L480.84 175.94 L477.96 175.94Z" fill="#2e8b3c"/>
<path d="M484.40 178.50 L485.84 175.94 L482.96 175.94Z" fill="#2e8b3c"/>
<path d="M481.90 181.10 L483.34 178.54 L480.46 178.54Z" fill="#2e8b3c"/>
<line x1="475.9" y1="176.8" x2="487.9" y2="176.8" stroke="#2e8b3c" stroke-width="1.0"/>
<line x1="481.9" y1="175.5" x2="481.9" y2="178.2" stroke="#2e8b3c" stroke-width="0.9"/>
<line x1="479.29999999999995" y1="175.5" x2="484.5" y2="175.5" stroke="#2e8b3c" stroke-width="0.9"/>
<line x1="479.29999999999995" y1="178.2" x2="484.5" y2="178.2" stroke="#2e8b3c" stroke-width="0.9"/>
<path d="M500.50 158.10 L501.94 160.66 L499.06 160.66Z" fill="#7069b6"/>
<path d="M497.50 169.10 L498.94 171.66 L496.06 171.66Z" fill="#7069b6"/>
<path d="M503.50 169.10 L504.94 171.66 L502.06 171.66Z" fill="#7069b6"/>
<path d="M500.50 163.50 L501.94 166.06 L499.06 166.06Z" fill="#7069b6"/>
<line x1="494.4" y1="166.4" x2="506.6" y2="166.4" stroke="#7069b6" stroke-width="1.0"/>
<line x1="500.5" y1="164.1" x2="500.5" y2="168" stroke="#7069b6" stroke-width="0.9"/>
<line x1="497.9" y1="164.1" x2="503.1" y2="164.1" stroke="#7069b6" stroke-width="0.9"/>
<line x1="497.9" y1="168" x2="503.1" y2="168" stroke="#7069b6" stroke-width="0.9"/>
<path d="M445.1 131.79999999999998 L445.1 129.2 L482.4 129.2 L482.4 131.79999999999998" fill="none" stroke="#231f20" stroke-width="0.6"/>
<text x="460.00" y="127.80" font-size="5.6" text-anchor="middle" fill="#231f20" font-weight="bold">*</text>
<text x="462.30" y="127.80" font-size="5.6" text-anchor="middle" fill="#231f20" font-weight="bold">*</text>
<text x="464.60" y="127.80" font-size="5.6" text-anchor="middle" fill="#231f20" font-weight="bold">*</text>
<path d="M465.3 140.1 L465.3 137.5 L498.3 137.5 L498.3 140.1" fill="none" stroke="#231f20" stroke-width="0.6"/>
<text x="482.10" y="137.30" font-size="5.6" text-anchor="middle" fill="#231f20" font-weight="bold">*</text>
<path d="M445.1 144.5 L445.1 141.6 L462.7 141.6 L462.7 144.5" fill="none" stroke="#231f20" stroke-width="0.6"/>
<text x="452.35" y="141.50" font-size="5.6" text-anchor="middle" fill="#231f20" font-weight="bold">*</text>
<text x="454.65" y="141.50" font-size="5.6" text-anchor="middle" fill="#231f20" font-weight="bold">*</text>
<path d="M482.4 154.4 L482.4 151.8 L500.9 151.8 L500.9 154.4" fill="none" stroke="#231f20" stroke-width="0.6"/>
<text x="491.35" y="151.50" font-size="5.6" text-anchor="middle" fill="#231f20" font-weight="bold">*</text>
<text x="493.65" y="151.50" font-size="5.6" text-anchor="middle" fill="#231f20" font-weight="bold">*</text>
<text x="6.61" y="259.7" font-size="11.8" text-anchor="start" fill="#000" font-weight="bold" stroke="#000" stroke-width="0.35">D</text>
<text x="13.7" y="313" font-size="7.5" text-anchor="middle" fill="#231f20" font-weight="normal" transform="rotate(-90 13.7 313)" textLength="71.5" lengthAdjust="spacingAndGlyphs" stroke="#231f20" stroke-width="0.18">Disease free survival (%)</text>
<line x1="35.5" y1="266.2" x2="35.5" y2="361.5" stroke="#141414" stroke-width="1.05"/>
<line x1="32.9" y1="274.9" x2="35.5" y2="274.9" stroke="#141414" stroke-width="0.9"/>
<text x="29.9" y="277.27599999999995" font-size="6.6" text-anchor="end" fill="#231f20" font-weight="normal" stroke="#231f20" stroke-width="0.18">100</text>
<line x1="32.9" y1="318.2" x2="35.5" y2="318.2" stroke="#141414" stroke-width="0.9"/>
<text x="29.9" y="320.57599999999996" font-size="6.6" text-anchor="end" fill="#231f20" font-weight="normal" stroke="#231f20" stroke-width="0.18">50</text>
<line x1="32.9" y1="361.5" x2="35.5" y2="361.5" stroke="#141414" stroke-width="0.9"/>
<text x="29.9" y="363.876" font-size="6.6" text-anchor="end" fill="#231f20" font-weight="normal" stroke="#231f20" stroke-width="0.18">0</text>
<line x1="35.5" y1="361.5" x2="180.4" y2="361.5" stroke="#141414" stroke-width="1.05"/>
<line x1="35.5" y1="361.5" x2="35.5" y2="364" stroke="#141414" stroke-width="0.9"/>
<text x="35.5" y="373.3" font-size="6.6" text-anchor="middle" fill="#231f20" font-weight="normal" stroke="#231f20" stroke-width="0.18">0</text>
<line x1="64.2" y1="361.5" x2="64.2" y2="364" stroke="#141414" stroke-width="0.9"/>
<text x="64.2" y="373.3" font-size="6.6" text-anchor="middle" fill="#231f20" font-weight="normal" stroke="#231f20" stroke-width="0.18">20</text>
<line x1="92.9" y1="361.5" x2="92.9" y2="364" stroke="#141414" stroke-width="0.9"/>
<text x="92.9" y="373.3" font-size="6.6" text-anchor="middle" fill="#231f20" font-weight="normal" stroke="#231f20" stroke-width="0.18">40</text>
<line x1="121.60000000000001" y1="361.5" x2="121.60000000000001" y2="364" stroke="#141414" stroke-width="0.9"/>
<text x="121.60000000000001" y="373.3" font-size="6.6" text-anchor="middle" fill="#231f20" font-weight="normal" stroke="#231f20" stroke-width="0.18">60</text>
<line x1="150.3" y1="361.5" x2="150.3" y2="364" stroke="#141414" stroke-width="0.9"/>
<text x="150.3" y="373.3" font-size="6.6" text-anchor="middle" fill="#231f20" font-weight="normal" stroke="#231f20" stroke-width="0.18">80</text>
<line x1="179.0" y1="361.5" x2="179.0" y2="364" stroke="#141414" stroke-width="0.9"/>
<text x="179.0" y="373.3" font-size="6.6" text-anchor="middle" fill="#231f20" font-weight="normal" stroke="#231f20" stroke-width="0.18">100</text>
<text x="108.3" y="384.6" font-size="7.6" text-anchor="middle" fill="#231f20" font-weight="normal" textLength="19.5" lengthAdjust="spacingAndGlyphs" stroke="#231f20" stroke-width="0.18">Weeks</text>
<path d="M35.5 274.9 L122.9 274.9 L122.9 284 L124.4 284 L124.4 288.5 L127 288.5 L127 294.6 L137.3 294.6 L137.3 300.7 L138.8 300.7 L138.8 321.2 L141.9 321.2 L141.9 328 L147.2 328 L147.2 340.9 L150.2 340.9 L150.2 348.2 L160.9 348.2 L160.9 354.6" fill="none" stroke="#8a86c0" stroke-width="1.3"/>
<path d="M35.5 274.9 L137.3 274.9 L137.3 285.5 L142.6 285.5 L142.6 296.1 L151 296.1 L151 306.7 L160.9 306.7 L160.9 318.1 L167.7 318.1" fill="none" stroke="#45ad55" stroke-width="1.3"/>
<line x1="164.5" y1="316.6" x2="164.5" y2="318.1" stroke="#45ad55" stroke-width="0.6"/>
<line x1="167.7" y1="316.6" x2="167.7" y2="318.1" stroke="#45ad55" stroke-width="0.6"/>
<line x1="35.5" y1="274.9" x2="167.7" y2="274.9" stroke="#1e3a6a" stroke-width="1.4"/>
<line x1="35.5" y1="274.7" x2="167.7" y2="274.7" stroke="#a01e3a" stroke-width="1.2"/>
<line x1="113.8" y1="273.2" x2="113.8" y2="274.9" stroke="#8a1a30" stroke-width="0.6"/>
<line x1="131.3" y1="273.2" x2="131.3" y2="274.9" stroke="#8a1a30" stroke-width="0.6"/>
<line x1="150.2" y1="273.2" x2="150.2" y2="274.9" stroke="#8a1a30" stroke-width="0.6"/>
<line x1="160.9" y1="273.2" x2="160.9" y2="274.9" stroke="#8a1a30" stroke-width="0.6"/>
<line x1="167.7" y1="273.2" x2="167.7" y2="274.9" stroke="#8a1a30" stroke-width="0.6"/>
<text x="41.8" y="331.6" font-size="6.4" text-anchor="start" fill="#231f20" font-weight="normal" textLength="68.5" lengthAdjust="spacingAndGlyphs" stroke="#231f20" stroke-width="0.18">Double vs WT P = .0002</text>
<text x="41.8" y="338.95000000000005" font-size="6.4" text-anchor="start" fill="#231f20" font-weight="normal" textLength="80" lengthAdjust="spacingAndGlyphs" stroke="#231f20" stroke-width="0.18">Double vs Asxl1<tspan baseline-shift="super" font-size="65%">−/−</tspan> P &lt; .0001</text>
<text x="41.8" y="346.3" font-size="6.4" text-anchor="start" fill="#231f20" font-weight="normal" textLength="78.2" lengthAdjust="spacingAndGlyphs" stroke="#231f20" stroke-width="0.18">Double vs Ezh2<tspan baseline-shift="super" font-size="65%">−/−</tspan> P = .0095</text>
<line x1="187.5" y1="296.5" x2="197.3" y2="296.5" stroke="#1e3a6a" stroke-width="1.1"/>
<line x1="192.4" y1="295.1" x2="192.4" y2="296.5" stroke="#1e3a6a" stroke-width="0.6"/>
<text x="200.6" y="298.8" font-size="6.6" text-anchor="start" fill="#231f20" font-weight="normal" textLength="10" lengthAdjust="spacingAndGlyphs" stroke="#231f20" stroke-width="0.18">WT</text>
<line x1="187.5" y1="307.9" x2="197.3" y2="307.9" stroke="#c0143c" stroke-width="1.1"/>
<line x1="192.4" y1="306.5" x2="192.4" y2="307.9" stroke="#c0143c" stroke-width="0.6"/>
<text x="200.6" y="310.2" font-size="6.6" text-anchor="start" fill="#231f20" font-weight="normal" stroke="#231f20" stroke-width="0.18">Asxl1<tspan baseline-shift="super" font-size="65%">−/−</tspan></text>
<line x1="187.5" y1="320" x2="197.3" y2="320" stroke="#3aa050" stroke-width="1.1"/>
<line x1="192.4" y1="318.6" x2="192.4" y2="320" stroke="#3aa050" stroke-width="0.6"/>
<text x="200.6" y="322.3" font-size="6.6" text-anchor="start" fill="#231f20" font-weight="normal" stroke="#231f20" stroke-width="0.18">Ezh2<tspan baseline-shift="super" font-size="65%">−/−</tspan></text>
<line x1="187.5" y1="331.9" x2="197.3" y2="331.9" stroke="#8080b0" stroke-width="1.1"/>
<line x1="192.4" y1="330.5" x2="192.4" y2="331.9" stroke="#8080b0" stroke-width="0.6"/>
<text x="200.6" y="334.2" font-size="6.6" text-anchor="start" fill="#231f20" font-weight="normal" textLength="41.3" lengthAdjust="spacingAndGlyphs" stroke="#231f20" stroke-width="0.18">Asxl1<tspan baseline-shift="super" font-size="65%">−/−</tspan> Ezh2<tspan baseline-shift="super" font-size="65%">−/−</tspan></text>
<text x="256.81" y="259.7" font-size="11.8" text-anchor="start" fill="#000" font-weight="bold" stroke="#000" stroke-width="0.35">E</text>
<text x="348.1" y="261.6" font-size="6.4" text-anchor="middle" fill="#231f20" font-weight="normal" textLength="18.8" lengthAdjust="spacingAndGlyphs" stroke="#231f20" stroke-width="0.18">Ezh2<tspan baseline-shift="super" font-size="65%">−/−</tspan></text>
<line x1="318.7" y1="265.5" x2="378.8" y2="265.5" stroke="#231f20" stroke-width="0.9"/>
<text x="440.6" y="261.9" font-size="6.4" text-anchor="middle" fill="#231f20" font-weight="normal" textLength="40.4" lengthAdjust="spacingAndGlyphs" stroke="#231f20" stroke-width="0.18">Asxl1<tspan baseline-shift="super" font-size="65%">−/−</tspan>Ezh2<tspan baseline-shift="super" font-size="65%">−/−</tspan></text>
<line x1="380.3" y1="265.5" x2="502.2" y2="265.5" stroke="#231f20" stroke-width="0.9"/>
<clipPath id="ci1"><rect x="255.8" y="267.5" width="61.2" height="57"/></clipPath>
<g clip-path="url(#ci1)">
<rect x="255.8" y="267.5" width="61.2" height="57" fill="#cfd0cf"/>
<ellipse cx="287.80" cy="290.50" rx="16" ry="18" fill="#cc78d4" opacity="1" filter="url(#bl3)"/>
<ellipse cx="286.80" cy="301.50" rx="9" ry="9" fill="#c880d4" opacity="0.95" filter="url(#bl3)"/>
<ellipse cx="293.80" cy="281.50" rx="8" ry="7" fill="#b070d4" opacity="0.9" filter="url(#bl3)"/>
<ellipse cx="290.30" cy="287.50" rx="12.5" ry="13.5" fill="#9a5ad0" opacity="0.8" filter="url(#bl2)"/>
<ellipse cx="279.80" cy="291.50" rx="5" ry="8" fill="#c070d0" opacity="0.8" filter="url(#bl2)"/>
<ellipse cx="290.30" cy="287.50" rx="9" ry="10" fill="#5a3cd2" opacity="1" filter="url(#bl1)"/>
<ellipse cx="291.80" cy="289.50" rx="5" ry="6" fill="#3c32dc" opacity="0.8" filter="url(#bl1)"/>
<ellipse cx="285.80" cy="282.50" rx="4" ry="4" fill="#6040d0" opacity="0.9" filter="url(#bl1)"/>
<ellipse cx="295.80" cy="280.50" rx="3.5" ry="3" fill="#5a3cd2" opacity="0.9" filter="url(#bl1)"/>
<ellipse cx="284.80" cy="293.50" rx="3.5" ry="3" fill="#6a40d0" opacity="0.9" filter="url(#bl1)"/>
<ellipse cx="294.80" cy="295.50" rx="3" ry="3" fill="#5a3cd2" opacity="0.9" filter="url(#bl1)"/>
<ellipse cx="270.10" cy="278.80" rx="4.6" ry="3.4" fill="#6446d2" opacity="1" filter="url(#bl05)" transform="rotate(-35 270.10 278.80)"/>
<ellipse cx="277.80" cy="274.70" rx="2.8" ry="2.8" fill="#5038d2" opacity="1" filter="url(#bl05)"/>
<ellipse cx="261.20" cy="288.40" rx="2.8" ry="2.8" fill="#5040cc" opacity="1" filter="url(#bl05)"/>
<ellipse cx="258.80" cy="291.90" rx="2.5" ry="2.5" fill="#6848c8" opacity="1" filter="url(#bl05)"/>
<ellipse cx="269.80" cy="298.50" rx="5" ry="3.2" fill="#dce4fa" opacity="0.9" filter="url(#bl1)" transform="rotate(50 269.80 298.50)"/>
<ellipse cx="268.40" cy="296.80" rx="3.3" ry="3.1" fill="#1e28d2" opacity="1" filter="url(#bl05)"/>
<ellipse cx="271.80" cy="300.90" rx="2.9" ry="2.8" fill="#1e28d2" opacity="1" filter="url(#bl05)"/>
<ellipse cx="286.20" cy="305.60" rx="5.4" ry="5.2" fill="#a05ac8" opacity="1" filter="url(#bl1)"/>
<ellipse cx="286.20" cy="305.60" rx="2.2" ry="2.2" fill="#e0b0e0" opacity="1" filter="url(#bl1)"/>
<ellipse cx="302.90" cy="302.10" rx="2.6" ry="2.6" fill="#4a3cc8" opacity="1" filter="url(#bl05)"/>
<ellipse cx="296.90" cy="317.60" rx="4.7" ry="4.6" fill="#5a46dc" opacity="1" filter="url(#bl05)"/>
<ellipse cx="307.60" cy="314.60" rx="5.4" ry="5.3" fill="#5040dc" opacity="1" filter="url(#bl05)"/>
<ellipse cx="302.30" cy="316.10" rx="1.2" ry="3.5" fill="#e0e4f8" opacity="0.7" filter="url(#bl1)" transform="rotate(30 302.30 316.10)"/>
</g>
<rect x="256.3" y="268.0" width="60.2" height="56" fill="none" stroke="#8a8a8c" stroke-width="1"/>
<text x="257.8" y="274.9" font-size="6.4" text-anchor="start" fill="#1a1a1a" font-weight="normal" stroke="#1a1a1a" stroke-width="0.18">Wt</text>
<text x="257.6" y="322.1" font-size="6.6" text-anchor="start" fill="#1a1a1a" font-weight="normal" stroke="#1a1a1a" stroke-width="0.18">BM</text>
<clipPath id="ci2"><rect x="318.2" y="267.5" width="60" height="57"/></clipPath>
<g clip-path="url(#ci2)">
<rect x="318.2" y="267.5" width="60" height="57" fill="#ccd0d8"/>
<ellipse cx="351.60" cy="272.30" rx="5.5" ry="4.5" fill="#c0a0d8" opacity="0.8" filter="url(#bl2)"/>
<ellipse cx="375.40" cy="282.40" rx="3" ry="3.5" fill="#a4a4e0" opacity="0.8" filter="url(#bl1)"/>
<ellipse cx="340.80" cy="298.00" rx="13" ry="14" fill="#4a46cc" opacity="1" filter="url(#bl1)"/>
<ellipse cx="325.40" cy="287.20" rx="4.8" ry="4.5" fill="#4a46cc" opacity="1" filter="url(#bl05)"/>
<ellipse cx="332.50" cy="283.60" rx="4.3" ry="4" fill="#4642c8" opacity="1" filter="url(#bl05)"/>
<ellipse cx="342.00" cy="287.80" rx="5.3" ry="5" fill="#4c48cc" opacity="1" filter="url(#bl05)"/>
<ellipse cx="348.00" cy="291.30" rx="5" ry="5" fill="#4e4ace" opacity="1" filter="url(#bl05)"/>
<ellipse cx="350.40" cy="300.90" rx="4.8" ry="4.8" fill="#4a46cc" opacity="1" filter="url(#bl05)"/>
<ellipse cx="337.20" cy="308.00" rx="5.2" ry="5" fill="#4a46cc" opacity="1" filter="url(#bl05)"/>
<ellipse cx="346.80" cy="312.50" rx="4.4" ry="5" fill="#4a46cc" opacity="1" filter="url(#bl05)"/>
<ellipse cx="348.00" cy="321.10" rx="3.2" ry="3" fill="#3c3cb8" opacity="1" filter="url(#bl05)"/>
<ellipse cx="323.60" cy="299.70" rx="3.6" ry="3.6" fill="#5450cc" opacity="1" filter="url(#bl05)"/>
<ellipse cx="321.80" cy="314.00" rx="3.8" ry="3.8" fill="#5450cc" opacity="1" filter="url(#bl05)"/>
<ellipse cx="330.20" cy="295.50" rx="6" ry="6" fill="#4a46cc" opacity="1" filter="url(#bl1)"/>
<ellipse cx="336.20" cy="293.50" rx="3" ry="3" fill="#6a6ad8" opacity="0.7" filter="url(#bl1)"/>
<ellipse cx="344.20" cy="303.50" rx="3" ry="2.5" fill="#3a3ab8" opacity="0.8" filter="url(#bl1)"/>
<ellipse cx="332.20" cy="302.50" rx="2.5" ry="2.5" fill="#6464d4" opacity="0.6" filter="url(#bl1)"/>
<ellipse cx="355.10" cy="278.20" rx="4.2" ry="4" fill="#5250cc" opacity="1" filter="url(#bl05)"/>
<ellipse cx="365.30" cy="278.80" rx="3.9" ry="3.8" fill="#5250cc" opacity="1" filter="url(#bl05)"/>
<ellipse cx="362.90" cy="271.70" rx="3.1" ry="3.1" fill="#4c48c8" opacity="1" filter="url(#bl05)"/>
<ellipse cx="364.10" cy="289.50" rx="4.5" ry="4.3" fill="#5250cc" opacity="1" filter="url(#bl05)"/>
<path d="M328.4 279.1 L331.79999999999995 279.1 L330.09999999999997 282.3Z" fill="#e01020"/>
</g>
<rect x="318.7" y="268.0" width="59" height="56" fill="none" stroke="#8a8a8c" stroke-width="1"/>
<text x="320.2" y="274.9" font-size="6.4" text-anchor="start" fill="#1a1a1a" font-weight="normal" stroke="#1a1a1a" stroke-width="0.18">#1</text>
<text x="320.0" y="322.1" font-size="6.6" text-anchor="start" fill="#1a1a1a" font-weight="normal" stroke="#1a1a1a" stroke-width="0.18">BM</text>
<circle cx="334.2" cy="291.5" r="4.5" fill="none" stroke="#8c8ce4" stroke-width="0.5" opacity="0.7"/>
<circle cx="340.2" cy="298.5" r="4.5" fill="none" stroke="#8c8ce4" stroke-width="0.5" opacity="0.7"/>
<circle cx="345.2" cy="294.5" r="4.2" fill="none" stroke="#8c8ce4" stroke-width="0.5" opacity="0.7"/>
<circle cx="332.2" cy="301.5" r="4.2" fill="none" stroke="#8c8ce4" stroke-width="0.5" opacity="0.7"/>
<circle cx="339.2" cy="306.5" r="4.3" fill="none" stroke="#8c8ce4" stroke-width="0.5" opacity="0.7"/>
<circle cx="347.2" cy="304.5" r="4" fill="none" stroke="#8c8ce4" stroke-width="0.5" opacity="0.7"/>
<circle cx="328.2" cy="294.5" r="4" fill="none" stroke="#8c8ce4" stroke-width="0.5" opacity="0.7"/>
<circle cx="343.2" cy="287.5" r="4" fill="none" stroke="#8c8ce4" stroke-width="0.5" opacity="0.7"/>
<clipPath id="ci3"><rect x="380.2" y="267.5" width="60" height="57"/></clipPath>
<g clip-path="url(#ci3)">
<rect x="380.2" y="267.5" width="60" height="57" fill="#cfd2d4"/>
<ellipse cx="410.00" cy="303.30" rx="7.4" ry="7.2" fill="#a2a4de" opacity="1" filter="url(#bl05)"/>
<ellipse cx="409.40" cy="302.30" rx="3.8" ry="3.4" fill="#8a5cc8" opacity="0.95" filter="url(#bl1)"/>
<ellipse cx="388.40" cy="277.90" rx="3.96" ry="3.96" fill="#5350cc" opacity="1" filter="url(#bl05)"/>
<ellipse cx="394.20" cy="276.90" rx="3.63" ry="3.63" fill="#5350cc" opacity="1" filter="url(#bl05)"/>
<ellipse cx="391.00" cy="283.00" rx="3.96" ry="3.96" fill="#5350cc" opacity="1" filter="url(#bl05)"/>
<ellipse cx="398.60" cy="281.70" rx="3.96" ry="3.96" fill="#5350cc" opacity="1" filter="url(#bl05)"/>
<ellipse cx="389.10" cy="286.80" rx="3.3" ry="3.3" fill="#5350cc" opacity="1" filter="url(#bl05)"/>
<ellipse cx="396.10" cy="288.10" rx="3.96" ry="3.96" fill="#5350cc" opacity="1" filter="url(#bl05)"/>
<ellipse cx="402.40" cy="286.20" rx="3.96" ry="3.96" fill="#5350cc" opacity="1" filter="url(#bl05)"/>
<ellipse cx="405.60" cy="290.00" rx="3.63" ry="3.63" fill="#5350cc" opacity="1" filter="url(#bl05)"/>
<ellipse cx="394.80" cy="294.40" rx="4.29" ry="4.29" fill="#5350cc" opacity="1" filter="url(#bl05)"/>
<ellipse cx="399.90" cy="294.70" rx="3.96" ry="3.96" fill="#5350cc" opacity="1" filter="url(#bl05)"/>
<ellipse cx="397.30" cy="299.70" rx="3.96" ry="3.96" fill="#5350cc" opacity="1" filter="url(#bl05)"/>
<ellipse cx="401.10" cy="302.30" rx="3.3" ry="3.3" fill="#5350cc" opacity="1" filter="url(#bl05)"/>
<ellipse cx="406.20" cy="270.50" rx="3.3" ry="3.3" fill="#5350cc" opacity="1" filter="url(#bl05)"/>
<ellipse cx="415.10" cy="273.10" rx="3.3" ry="3.3" fill="#5350cc" opacity="1" filter="url(#bl05)"/>
<ellipse cx="417.00" cy="279.40" rx="3.63" ry="3.63" fill="#5350cc" opacity="1" filter="url(#bl05)"/>
<ellipse cx="425.90" cy="282.30" rx="3.63" ry="3.63" fill="#5350cc" opacity="1" filter="url(#bl05)"/>
<ellipse cx="416.40" cy="288.70" rx="3.63" ry="3.63" fill="#5350cc" opacity="1" filter="url(#bl05)"/>
<ellipse cx="381.50" cy="289.30" rx="3.3" ry="3.3" fill="#5350cc" opacity="1" filter="url(#bl05)"/>
<ellipse cx="425.00" cy="295.90" rx="3.63" ry="3.63" fill="#5350cc" opacity="1" filter="url(#bl05)"/>
<ellipse cx="431.30" cy="298.80" rx="3.63" ry="3.63" fill="#5350cc" opacity="1" filter="url(#bl05)"/>
<ellipse cx="436.90" cy="302.00" rx="3.63" ry="3.63" fill="#5350cc" opacity="1" filter="url(#bl05)"/>
<ellipse cx="429.30" cy="304.80" rx="3.63" ry="3.63" fill="#5350cc" opacity="1" filter="url(#bl05)"/>
<ellipse cx="435.70" cy="307.70" rx="3.3" ry="3.3" fill="#5350cc" opacity="1" filter="url(#bl05)"/>
<ellipse cx="424.00" cy="312.20" rx="3.63" ry="3.63" fill="#5350cc" opacity="1" filter="url(#bl05)"/>
<ellipse cx="417.60" cy="314.10" rx="3.63" ry="3.63" fill="#5350cc" opacity="1" filter="url(#bl05)"/>
<ellipse cx="419.20" cy="319.10" rx="3.96" ry="3.96" fill="#5350cc" opacity="1" filter="url(#bl05)"/>
<ellipse cx="425.50" cy="320.00" rx="3.63" ry="3.63" fill="#5350cc" opacity="1" filter="url(#bl05)"/>
<ellipse cx="431.60" cy="312.80" rx="3.3" ry="3.3" fill="#5350cc" opacity="1" filter="url(#bl05)"/>
<ellipse cx="437.90" cy="310.30" rx="2.64" ry="2.64" fill="#5350cc" opacity="1" filter="url(#bl05)"/>
<ellipse cx="422.10" cy="307.70" rx="2.31" ry="2.31" fill="#5350cc" opacity="1" filter="url(#bl05)"/>
<ellipse cx="391.00" cy="318.50" rx="2.64" ry="2.64" fill="#5350cc" opacity="1" filter="url(#bl05)"/>
<ellipse cx="400.50" cy="323.00" rx="2.31" ry="2.31" fill="#5350cc" opacity="1" filter="url(#bl05)"/>
<ellipse cx="381.10" cy="305.80" rx="2.97" ry="2.97" fill="#5350cc" opacity="1" filter="url(#bl05)"/>
<path d="M420.8 289.3 L424.2 289.3 L422.5 292.5Z" fill="#e01020"/>
</g>
<rect x="380.7" y="268.0" width="59" height="56" fill="none" stroke="#8a8a8c" stroke-width="1"/>
<text x="382.2" y="274.9" font-size="6.4" text-anchor="start" fill="#1a1a1a" font-weight="normal" stroke="#1a1a1a" stroke-width="0.18">#3</text>
<text x="382.0" y="322.1" font-size="6.6" text-anchor="start" fill="#1a1a1a" font-weight="normal" stroke="#1a1a1a" stroke-width="0.18">BM</text>
<clipPath id="ci4"><rect x="441.9" y="267.5" width="60.3" height="57"/></clipPath>
<g clip-path="url(#ci4)">
<rect x="441.9" y="267.5" width="60.3" height="57" fill="#e2e2df"/>
<rect x="441.9" y="267.5" width="60.3" height="28" fill="#d8d8e0"/><rect x="441.9" y="287.5" width="60.3" height="20" fill="#dcdcdf" filter="url(#bl3)"/><circle cx="451.30" cy="278.10" r="6.5" fill="#d6d6de" fill-opacity="0.5" stroke="#b8b8c8" stroke-width="2.2" stroke-opacity="0.35" filter="url(#bl1)"/><circle cx="447.90" cy="289.50" r="5.5" fill="#d6d6de" fill-opacity="0.5" stroke="#b8b8c8" stroke-width="2.2" stroke-opacity="0.35" filter="url(#bl1)"/><circle cx="489.90" cy="276.30" r="6" fill="#d6d6de" fill-opacity="0.5" stroke="#b8b8c8" stroke-width="2.2" stroke-opacity="0.35" filter="url(#bl1)"/><circle cx="491.20" cy="306.20" r="6" fill="#d6d6de" fill-opacity="0.5" stroke="#b8b8c8" stroke-width="2.2" stroke-opacity="0.35" filter="url(#bl1)"/><circle cx="497.90" cy="320.50" r="5" fill="#d6d6de" fill-opacity="0.5" stroke="#b8b8c8" stroke-width="2.2" stroke-opacity="0.35" filter="url(#bl1)"/><circle cx="455.90" cy="315.50" r="5.5" fill="#d6d6de" fill-opacity="0.5" stroke="#b8b8c8" stroke-width="2.2" stroke-opacity="0.35" filter="url(#bl1)"/><circle cx="467.90" cy="272.50" r="4" fill="#d6d6de" fill-opacity="0.5" stroke="#b8b8c8" stroke-width="2.2" stroke-opacity="0.35" filter="url(#bl1)"/>
<ellipse cx="443.40" cy="297.50" rx="3.5" ry="8.5" fill="#b0b0dc" opacity="0.9" filter="url(#bl1)"/>
<ellipse cx="474.80" cy="295.70" rx="5" ry="5" fill="#bcc0d8" opacity="1" filter="url(#bl1)"/>
<ellipse cx="475.40" cy="294.30" rx="1.1" ry="1.1" fill="#283060" opacity="1"/>
<ellipse cx="466.50" cy="290.00" rx="1.3" ry="1.3" fill="#6050a0" opacity="1"/>
<ellipse cx="473.60" cy="282.80" rx="3.2" ry="2.2" fill="#a8d4c8" opacity="0.9" filter="url(#bl1)"/>
<ellipse cx="478.90" cy="286.90" rx="3.2" ry="3.2" fill="#f0c8d0" opacity="0.8" filter="url(#bl1)"/>
<ellipse cx="460.70" cy="278.70" rx="2" ry="2" fill="#f4f4f4" opacity="0.9" filter="url(#bl1)"/>
<path d="M477.2 285.40000000000003 L480.59999999999997 285.40000000000003 L478.9 288.6Z" fill="#e01020"/>
</g>
<rect x="442.4" y="268.0" width="59.3" height="56" fill="none" stroke="#8a8a8c" stroke-width="1"/>
<text x="443.9" y="274.9" font-size="6.4" text-anchor="start" fill="#1a1a1a" font-weight="normal" stroke="#1a1a1a" stroke-width="0.18">#4</text>
<text x="443.7" y="322.1" font-size="6.6" text-anchor="start" fill="#1a1a1a" font-weight="normal" stroke="#1a1a1a" stroke-width="0.18">PB</text>
<clipPath id="ci5"><rect x="255.8" y="325.9" width="61.2" height="57"/></clipPath>
<g clip-path="url(#ci5)">
<rect x="255.8" y="325.9" width="61.2" height="57" fill="#d2d2dc"/>
<ellipse cx="291.60" cy="359.30" rx="17" ry="19" fill="#c4a0e6" opacity="0.95" filter="url(#bl3)"/>
<ellipse cx="297.80" cy="367.90" rx="10" ry="9" fill="#c89ee0" opacity="0.8" filter="url(#bl3)"/>
<ellipse cx="285.80" cy="347.90" rx="8" ry="6" fill="#c0a0e6" opacity="0.8" filter="url(#bl3)"/>
<ellipse cx="289.50" cy="356.90" rx="8.2" ry="8.6" fill="#5436d8" opacity="1" filter="url(#bl1)"/>
<ellipse cx="290.30" cy="357.40" rx="5" ry="5" fill="#3a34e0" opacity="0.9" filter="url(#bl1)"/>
<ellipse cx="296.30" cy="367.60" rx="3.2" ry="2.6" fill="#9a54c8" opacity="1" filter="url(#bl1)"/>
<ellipse cx="283.80" cy="362.90" rx="3" ry="2.5" fill="#8a50d0" opacity="0.9" filter="url(#bl1)"/>
<ellipse cx="276.70" cy="347.40" rx="3.2" ry="3.2" fill="#5432c0" opacity="1" filter="url(#bl05)"/>
<ellipse cx="302.90" cy="349.70" rx="3" ry="3.2" fill="#5432c0" opacity="1" filter="url(#bl05)"/>
<ellipse cx="311.20" cy="362.30" rx="2.6" ry="3.2" fill="#6a44c8" opacity="1" filter="url(#bl05)"/>
<ellipse cx="297.50" cy="331.90" rx="4" ry="5" fill="#7846c8" opacity="1" filter="url(#bl1)" transform="rotate(15 297.50 331.90)"/>
<ellipse cx="267.70" cy="331.30" rx="4" ry="3.6" fill="#7040c0" opacity="1" filter="url(#bl1)"/>
<ellipse cx="283.80" cy="374.20" rx="3.5" ry="3.4" fill="#1428dc" opacity="1" filter="url(#bl05)"/>
<ellipse cx="287.40" cy="378.30" rx="2" ry="2" fill="#2030d0" opacity="1" filter="url(#bl05)"/>
<ellipse cx="273.70" cy="376.60" rx="3.6" ry="3.4" fill="#b064d0" opacity="1" filter="url(#bl1)"/>
<ellipse cx="273.70" cy="376.60" rx="1.4" ry="1.4" fill="#e0b8e8" opacity="1" filter="url(#bl1)"/>
<ellipse cx="302.30" cy="377.20" rx="5" ry="3" fill="#8450c8" opacity="1" filter="url(#bl1)" transform="rotate(-15 302.30 377.20)"/>
<ellipse cx="307.60" cy="376.60" rx="2.5" ry="2.5" fill="#4a36b8" opacity="1" filter="url(#bl05)"/>
<ellipse cx="293.80" cy="378.90" rx="3" ry="2.5" fill="#a070d0" opacity="0.9" filter="url(#bl1)"/>
<ellipse cx="311.80" cy="345.60" rx="1.8" ry="3.5" fill="#b8a8e0" opacity="0.9" filter="url(#bl1)"/>
<ellipse cx="311.80" cy="354.50" rx="1.8" ry="3" fill="#b0a0e0" opacity="0.9" filter="url(#bl1)"/>
<ellipse cx="261.80" cy="378.90" rx="3" ry="2.5" fill="#3a2a90" opacity="0.9" filter="url(#bl1)"/>
</g>
<rect x="256.3" y="326.4" width="60.2" height="56" fill="none" stroke="#8a8a8c" stroke-width="1"/>
<text x="257.8" y="333.29999999999995" font-size="6.4" text-anchor="start" fill="#1a1a1a" font-weight="normal" stroke="#1a1a1a" stroke-width="0.18">Asxl1<tspan baseline-shift="super" font-size="65%">−/−</tspan></text>
<text x="257.6" y="380.5" font-size="6.6" text-anchor="start" fill="#1a1a1a" font-weight="normal" stroke="#1a1a1a" stroke-width="0.18">BM</text>
<clipPath id="ci6"><rect x="318.2" y="325.9" width="60" height="57"/></clipPath>
<g clip-path="url(#ci6)">
<rect x="318.2" y="325.9" width="60" height="57" fill="#c9ced8"/>
<ellipse cx="336.00" cy="332.90" rx="5.0" ry="5.0" fill="#d4b0e0" opacity="0.9" filter="url(#bl1)"/>
<ellipse cx="325.20" cy="339.90" rx="4.5" ry="4.5" fill="#d4b0e0" opacity="0.9" filter="url(#bl1)"/>
<ellipse cx="335.30" cy="339.20" rx="5.0" ry="5.0" fill="#d4b0e0" opacity="0.9" filter="url(#bl1)"/>
<ellipse cx="327.70" cy="351.30" rx="5.0" ry="5.0" fill="#d4b0e0" opacity="0.9" filter="url(#bl1)"/>
<ellipse cx="335.30" cy="356.40" rx="6.0" ry="6.0" fill="#d4b0e0" opacity="0.9" filter="url(#bl1)"/>
<ellipse cx="341.00" cy="360.80" rx="5.5" ry="5.5" fill="#d4b0e0" opacity="0.9" filter="url(#bl1)"/>
<ellipse cx="348.00" cy="363.30" rx="5.0" ry="5.0" fill="#d4b0e0" opacity="0.9" filter="url(#bl1)"/>
<ellipse cx="348.70" cy="356.40" rx="4.0" ry="4.0" fill="#d4b0e0" opacity="0.9" filter="url(#bl1)"/>
<ellipse cx="342.30" cy="366.50" rx="4.0" ry="4.0" fill="#d4b0e0" opacity="0.9" filter="url(#bl1)"/>
<ellipse cx="351.80" cy="342.40" rx="4.0" ry="4.0" fill="#d4b0e0" opacity="0.9" filter="url(#bl1)"/>
<ellipse cx="356.30" cy="348.70" rx="4.0" ry="4.0" fill="#d4b0e0" opacity="0.9" filter="url(#bl1)"/>
<ellipse cx="365.80" cy="355.10" rx="6.0" ry="6.0" fill="#d4b0e0" opacity="0.9" filter="url(#bl1)"/>
<ellipse cx="353.10" cy="329.10" rx="4.0" ry="4.0" fill="#d4b0e0" opacity="0.9" filter="url(#bl1)"/>
<ellipse cx="357.60" cy="332.90" rx="4.5" ry="4.5" fill="#d4b0e0" opacity="0.9" filter="url(#bl1)"/>
<ellipse cx="362.00" cy="329.10" rx="4.5" ry="4.5" fill="#d4b0e0" opacity="0.9" filter="url(#bl1)"/>
<ellipse cx="364.50" cy="334.10" rx="4.5" ry="4.5" fill="#d4b0e0" opacity="0.9" filter="url(#bl1)"/>
<ellipse cx="375.90" cy="327.80" rx="3.5" ry="3.5" fill="#d4b0e0" opacity="0.9" filter="url(#bl1)"/>
<ellipse cx="336.00" cy="332.90" rx="3.8" ry="3.8" fill="#6a3aae" opacity="1" filter="url(#bl05)"/>
<ellipse cx="336.20" cy="333.10" rx="1.9250000000000003" ry="1.9250000000000003" fill="#9466c6" opacity="0.9" filter="url(#bl1)"/>
<ellipse cx="325.20" cy="339.90" rx="3.3" ry="3.3" fill="#6a3aae" opacity="1" filter="url(#bl05)"/>
<ellipse cx="325.40" cy="340.10" rx="1.6500000000000001" ry="1.6500000000000001" fill="#9466c6" opacity="0.9" filter="url(#bl1)"/>
<ellipse cx="335.30" cy="339.20" rx="3.8" ry="3.8" fill="#6a3aae" opacity="1" filter="url(#bl05)"/>
<ellipse cx="335.50" cy="339.40" rx="1.9250000000000003" ry="1.9250000000000003" fill="#9466c6" opacity="0.9" filter="url(#bl1)"/>
<ellipse cx="327.70" cy="351.30" rx="3.8" ry="3.8" fill="#6a3aae" opacity="1" filter="url(#bl05)"/>
<ellipse cx="327.90" cy="351.50" rx="1.9250000000000003" ry="1.9250000000000003" fill="#9466c6" opacity="0.9" filter="url(#bl1)"/>
<ellipse cx="335.30" cy="356.40" rx="4.8" ry="4.8" fill="#6a3aae" opacity="1" filter="url(#bl05)"/>
<ellipse cx="335.50" cy="356.60" rx="2.475" ry="2.475" fill="#9466c6" opacity="0.9" filter="url(#bl1)"/>
<ellipse cx="341.00" cy="360.80" rx="4.3" ry="4.3" fill="#6a3aae" opacity="1" filter="url(#bl05)"/>
<ellipse cx="341.20" cy="361.00" rx="2.2" ry="2.2" fill="#9466c6" opacity="0.9" filter="url(#bl1)"/>
<ellipse cx="348.00" cy="363.30" rx="3.8" ry="3.8" fill="#6a3aae" opacity="1" filter="url(#bl05)"/>
<ellipse cx="348.20" cy="363.50" rx="1.9250000000000003" ry="1.9250000000000003" fill="#9466c6" opacity="0.9" filter="url(#bl1)"/>
<ellipse cx="348.70" cy="356.40" rx="2.8" ry="2.8" fill="#6a3aae" opacity="1" filter="url(#bl05)"/>
<ellipse cx="348.90" cy="356.60" rx="1.375" ry="1.375" fill="#9466c6" opacity="0.9" filter="url(#bl1)"/>
<ellipse cx="342.30" cy="366.50" rx="2.8" ry="2.8" fill="#6a3aae" opacity="1" filter="url(#bl05)"/>
<ellipse cx="342.50" cy="366.70" rx="1.375" ry="1.375" fill="#9466c6" opacity="0.9" filter="url(#bl1)"/>
<ellipse cx="351.80" cy="342.40" rx="2.8" ry="2.8" fill="#6a3aae" opacity="1" filter="url(#bl05)"/>
<ellipse cx="352.00" cy="342.60" rx="1.375" ry="1.375" fill="#9466c6" opacity="0.9" filter="url(#bl1)"/>
<ellipse cx="356.30" cy="348.70" rx="2.8" ry="2.8" fill="#6a3aae" opacity="1" filter="url(#bl05)"/>
<ellipse cx="356.50" cy="348.90" rx="1.375" ry="1.375" fill="#9466c6" opacity="0.9" filter="url(#bl1)"/>
<ellipse cx="365.80" cy="355.10" rx="4.8" ry="4.8" fill="#6a3aae" opacity="1" filter="url(#bl05)"/>
<ellipse cx="366.00" cy="355.30" rx="2.475" ry="2.475" fill="#9466c6" opacity="0.9" filter="url(#bl1)"/>
<ellipse cx="353.10" cy="329.10" rx="2.8" ry="2.8" fill="#6a3aae" opacity="1" filter="url(#bl05)"/>
<ellipse cx="353.30" cy="329.30" rx="1.375" ry="1.375" fill="#9466c6" opacity="0.9" filter="url(#bl1)"/>
<ellipse cx="357.60" cy="332.90" rx="3.3" ry="3.3" fill="#6a3aae" opacity="1" filter="url(#bl05)"/>
<ellipse cx="357.80" cy="333.10" rx="1.6500000000000001" ry="1.6500000000000001" fill="#9466c6" opacity="0.9" filter="url(#bl1)"/>
<ellipse cx="362.00" cy="329.10" rx="3.3" ry="3.3" fill="#6a3aae" opacity="1" filter="url(#bl05)"/>
<ellipse cx="362.20" cy="329.30" rx="1.6500000000000001" ry="1.6500000000000001" fill="#9466c6" opacity="0.9" filter="url(#bl1)"/>
<ellipse cx="364.50" cy="334.10" rx="3.3" ry="3.3" fill="#6a3aae" opacity="1" filter="url(#bl05)"/>
<ellipse cx="364.70" cy="334.30" rx="1.6500000000000001" ry="1.6500000000000001" fill="#9466c6" opacity="0.9" filter="url(#bl1)"/>
<ellipse cx="375.90" cy="327.80" rx="2.3" ry="2.3" fill="#6a3aae" opacity="1" filter="url(#bl05)"/>
<ellipse cx="376.10" cy="328.00" rx="1.1" ry="1.1" fill="#9466c6" opacity="0.9" filter="url(#bl1)"/>
<ellipse cx="371.50" cy="374.10" rx="3.6" ry="3.6" fill="#5050d0" opacity="1" filter="url(#bl05)"/>
<ellipse cx="320.70" cy="378.60" rx="2.5" ry="2.5" fill="#303090" opacity="1" filter="url(#bl05)"/>
<ellipse cx="374.70" cy="381.70" rx="2" ry="2" fill="#303090" opacity="1" filter="url(#bl05)"/>
<path d="M327.5 343.7 L330.9 343.7 L329.2 346.9Z" fill="#e01020"/>
</g>
<rect x="318.7" y="326.4" width="59" height="56" fill="none" stroke="#8a8a8c" stroke-width="1"/>
<text x="320.2" y="333.29999999999995" font-size="6.4" text-anchor="start" fill="#1a1a1a" font-weight="normal" stroke="#1a1a1a" stroke-width="0.18">#2</text>
<text x="320.0" y="380.5" font-size="6.6" text-anchor="start" fill="#1a1a1a" font-weight="normal" stroke="#1a1a1a" stroke-width="0.18">BM</text>
<clipPath id="ci7"><rect x="380.2" y="325.9" width="60" height="57"/></clipPath>
<g clip-path="url(#ci7)">
<rect x="380.2" y="325.9" width="60" height="57" fill="#d4d4d7"/>
<ellipse cx="384.90" cy="339.90" rx="4.9" ry="4.9" fill="#e2bce4" opacity="0.9" filter="url(#bl1)"/>
<ellipse cx="394.40" cy="336.10" rx="4.9" ry="4.9" fill="#e2bce4" opacity="0.9" filter="url(#bl1)"/>
<ellipse cx="408.40" cy="344.30" rx="5.8" ry="4.3" fill="#e2bce4" opacity="0.9" filter="url(#bl1)"/>
<ellipse cx="417.20" cy="353.20" rx="4.9" ry="4.9" fill="#e2bce4" opacity="0.9" filter="url(#bl1)"/>
<ellipse cx="419.80" cy="367.80" rx="5.8" ry="5.8" fill="#e2bce4" opacity="0.9" filter="url(#bl1)"/>
<ellipse cx="429.30" cy="366.50" rx="3.3" ry="3.3" fill="#e2bce4" opacity="0.9" filter="url(#bl1)"/>
<ellipse cx="436.30" cy="370.30" rx="4.9" ry="4.9" fill="#e2bce4" opacity="0.9" filter="url(#bl1)"/>
<ellipse cx="384.90" cy="339.90" rx="3.6" ry="3.6" fill="#6a3aa8" opacity="1" filter="url(#bl05)"/>
<ellipse cx="385.20" cy="340.20" rx="1.8" ry="1.8" fill="#8c54c4" opacity="0.8" filter="url(#bl1)"/>
<ellipse cx="394.40" cy="336.10" rx="3.6" ry="3.6" fill="#6a3aa8" opacity="1" filter="url(#bl05)"/>
<ellipse cx="394.70" cy="336.40" rx="1.8" ry="1.8" fill="#8c54c4" opacity="0.8" filter="url(#bl1)"/>
<ellipse cx="408.40" cy="344.30" rx="4.5" ry="3" fill="#5e36b0" opacity="1" filter="url(#bl05)"/>
<ellipse cx="408.70" cy="344.60" rx="2.25" ry="1.5" fill="#8c54c4" opacity="0.8" filter="url(#bl1)"/>
<ellipse cx="417.20" cy="353.20" rx="3.6" ry="3.6" fill="#b868c0" opacity="1" filter="url(#bl05)"/>
<ellipse cx="417.50" cy="353.50" rx="1.8" ry="1.8" fill="#8c54c4" opacity="0.8" filter="url(#bl1)"/>
<ellipse cx="419.80" cy="367.80" rx="4.5" ry="4.5" fill="#6434b4" opacity="1" filter="url(#bl05)"/>
<ellipse cx="420.10" cy="368.10" rx="2.25" ry="2.25" fill="#8c54c4" opacity="0.8" filter="url(#bl1)"/>
<ellipse cx="429.30" cy="366.50" rx="2" ry="2" fill="#7444b0" opacity="1" filter="url(#bl05)"/>
<ellipse cx="429.60" cy="366.80" rx="1.0" ry="1.0" fill="#8c54c4" opacity="0.8" filter="url(#bl1)"/>
<ellipse cx="436.30" cy="370.30" rx="3.6" ry="3.6" fill="#5e36b4" opacity="1" filter="url(#bl05)"/>
<ellipse cx="436.60" cy="370.60" rx="1.8" ry="1.8" fill="#8c54c4" opacity="0.8" filter="url(#bl1)"/>
<ellipse cx="400.20" cy="372.90" rx="4" ry="4" fill="#c4c4d6" opacity="0.7" filter="url(#bl2)"/>
<path d="M423.0 360.2 L426.4 360.2 L424.7 363.4Z" fill="#e01020"/>
</g>
<rect x="380.7" y="326.4" width="59" height="56" fill="none" stroke="#8a8a8c" stroke-width="1"/>
<text x="382.2" y="333.29999999999995" font-size="6.4" text-anchor="start" fill="#1a1a1a" font-weight="normal" stroke="#1a1a1a" stroke-width="0.18">#2</text>
<text x="382.0" y="380.5" font-size="6.6" text-anchor="start" fill="#1a1a1a" font-weight="normal" stroke="#1a1a1a" stroke-width="0.18">BM</text>
<clipPath id="ci8"><rect x="441.9" y="325.9" width="60.3" height="57"/></clipPath>
<g clip-path="url(#ci8)">
<rect x="441.9" y="325.9" width="60.3" height="57" fill="#e6e6de"/>
<circle cx="467.10" cy="344.70" r="5.3" fill="#d6d6de" fill-opacity="0.5" stroke="#b8b8c8" stroke-width="2.2" stroke-opacity="0.6" filter="url(#bl1)"/><circle cx="453.60" cy="356.40" r="5.8" fill="#d6d6de" fill-opacity="0.5" stroke="#b8b8c8" stroke-width="2.2" stroke-opacity="0.6" filter="url(#bl1)"/><circle cx="485.30" cy="355.80" r="4.8" fill="#d6d6de" fill-opacity="0.5" stroke="#b8b8c8" stroke-width="2.2" stroke-opacity="0.6" filter="url(#bl1)"/><circle cx="495.30" cy="348.20" r="5.3" fill="#d6d6de" fill-opacity="0.5" stroke="#b8b8c8" stroke-width="2.2" stroke-opacity="0.6" filter="url(#bl1)"/><circle cx="488.90" cy="377.50" r="5.8" fill="#d6d6de" fill-opacity="0.5" stroke="#b8b8c8" stroke-width="2.2" stroke-opacity="0.6" filter="url(#bl1)"/><circle cx="498.20" cy="332.90" r="4" fill="#d6d6de" fill-opacity="0.5" stroke="#b8b8c8" stroke-width="2.2" stroke-opacity="0.6" filter="url(#bl1)"/><circle cx="443.90" cy="367.90" r="4" fill="#d6d6de" fill-opacity="0.5" stroke="#b8b8c8" stroke-width="2.2" stroke-opacity="0.6" filter="url(#bl1)"/><circle cx="449.90" cy="331.90" r="5" fill="#d6d6de" fill-opacity="0.5" stroke="#b8b8c8" stroke-width="2.2" stroke-opacity="0.6" filter="url(#bl1)"/>
<ellipse cx="473.60" cy="364.60" rx="5.6" ry="5.4" fill="#8484d8" opacity="1" filter="url(#bl05)"/>
<ellipse cx="473.80" cy="365.70" rx="3.2" ry="3" fill="#a078cc" opacity="0.9" filter="url(#bl1)"/>
<ellipse cx="473.60" cy="354.10" rx="3" ry="3" fill="#f4d0d8" opacity="0.8" filter="url(#bl1)"/>
<ellipse cx="477.90" cy="357.90" rx="1" ry="1" fill="#505090" opacity="1"/>
<path d="M471.9 352.59999999999997 L475.29999999999995 352.59999999999997 L473.59999999999997 355.79999999999995Z" fill="#e01020"/>
</g>
<rect x="442.4" y="326.4" width="59.3" height="56" fill="none" stroke="#8a8a8c" stroke-width="1"/>
<text x="443.9" y="333.29999999999995" font-size="6.4" text-anchor="start" fill="#1a1a1a" font-weight="normal" stroke="#1a1a1a" stroke-width="0.18">#5</text>
<text x="443.7" y="380.5" font-size="6.6" text-anchor="start" fill="#1a1a1a" font-weight="normal" stroke="#1a1a1a" stroke-width="0.18">PB</text>
<text x="6.81" y="411.5" font-size="11.8" text-anchor="start" fill="#000" font-weight="bold" stroke="#000" stroke-width="0.35">F</text>
<line x1="41.6" y1="426.4" x2="41.6" y2="474.8" stroke="#141414" stroke-width="1.05"/>
<line x1="38.6" y1="428.845" x2="41.6" y2="428.845" stroke="#141414" stroke-width="0.9"/>
<text x="35.4" y="431.221" font-size="6.6" text-anchor="end" fill="#231f20" font-weight="normal" stroke="#231f20" stroke-width="0.18">1500</text>
<line x1="38.6" y1="440.33" x2="41.6" y2="440.33" stroke="#141414" stroke-width="0.9"/>
<text x="35.4" y="442.70599999999996" font-size="6.6" text-anchor="end" fill="#231f20" font-weight="normal" stroke="#231f20" stroke-width="0.18">1000</text>
<line x1="38.6" y1="451.815" x2="41.6" y2="451.815" stroke="#141414" stroke-width="0.9"/>
<text x="35.4" y="454.191" font-size="6.6" text-anchor="end" fill="#231f20" font-weight="normal" stroke="#231f20" stroke-width="0.18">500</text>
<line x1="38.6" y1="463.3" x2="41.6" y2="463.3" stroke="#141414" stroke-width="0.9"/>
<text x="35.4" y="465.676" font-size="6.6" text-anchor="end" fill="#231f20" font-weight="normal" stroke="#231f20" stroke-width="0.18">0</text>
<line x1="38.6" y1="474.785" x2="41.6" y2="474.785" stroke="#141414" stroke-width="0.9"/>
<text x="35.4" y="477.161" font-size="6.6" text-anchor="end" fill="#231f20" font-weight="normal" stroke="#231f20" stroke-width="0.18">−500</text>
<line x1="41.6" y1="463.3" x2="110.4" y2="463.3" stroke="#9fd4a8" stroke-width="0.6"/>
<line x1="41.6" y1="474.8" x2="110.4" y2="474.8" stroke="#231f20" stroke-width="1.0"/>
<line x1="52" y1="474.8" x2="52" y2="477.3" stroke="#231f20" stroke-width="0.8"/>
<text x="55.2" y="483.3" font-size="6.2" text-anchor="end" fill="#231f20" font-weight="normal" transform="rotate(-45 55.2 483.3)" stroke="#231f20" stroke-width="0.18">WT</text>
<line x1="67.9" y1="474.8" x2="67.9" y2="477.3" stroke="#231f20" stroke-width="0.8"/>
<text x="71.10000000000001" y="483.3" font-size="6.2" text-anchor="end" fill="#231f20" font-weight="normal" transform="rotate(-45 71.10000000000001 483.3)" stroke="#231f20" stroke-width="0.18">Asxl1<tspan baseline-shift="super" font-size="65%">−/−</tspan></text>
<line x1="83.8" y1="474.8" x2="83.8" y2="477.3" stroke="#231f20" stroke-width="0.8"/>
<text x="87.0" y="483.3" font-size="6.2" text-anchor="end" fill="#231f20" font-weight="normal" transform="rotate(-45 87.0 483.3)" stroke="#231f20" stroke-width="0.18">Ezh2<tspan baseline-shift="super" font-size="65%">−/−</tspan></text>
<line x1="99.6" y1="474.8" x2="99.6" y2="477.3" stroke="#231f20" stroke-width="0.8"/>
<text x="102.8" y="483.3" font-size="6.2" text-anchor="end" fill="#231f20" font-weight="normal" transform="rotate(-45 102.8 483.3)" stroke="#231f20" stroke-width="0.18">Asxl1<tspan baseline-shift="super" font-size="65%">−/−</tspan> Ezh2<tspan baseline-shift="super" font-size="65%">−/−</tspan></text>
<text x="15.8" y="450.4" font-size="7.0" text-anchor="middle" fill="#231f20" font-weight="normal" transform="rotate(-90 15.8 450.4)" textLength="40" lengthAdjust="spacingAndGlyphs" stroke="#231f20" stroke-width="0.18">Plt (10<tspan baseline-shift="super" font-size="65%">3</tspan>/mm<tspan baseline-shift="super" font-size="65%">3</tspan>)</text>
<circle cx="52" cy="448.13980000000004" r="1.05" fill="#1a1a1a"/>
<circle cx="52" cy="456.409" r="1.05" fill="#1a1a1a"/>
<rect x="48.45" y="459.4936" width="2.1" height="2.1" fill="#1a1a1a"/>
<circle cx="54.5" cy="461.003" r="1.05" fill="#1a1a1a"/>
<rect x="48.95" y="461.5609" width="2.1" height="2.1" fill="#1a1a1a"/>
<circle cx="54.5" cy="463.07030000000003" r="1.05" fill="#1a1a1a"/>
<line x1="47.4" y1="457.5575" x2="56.6" y2="457.5575" stroke="#231f20" stroke-width="0.8"/>
<line x1="52" y1="461.003" x2="52" y2="451.815" stroke="#231f20" stroke-width="0.8"/>
<line x1="49.4" y1="461.003" x2="54.6" y2="461.003" stroke="#231f20" stroke-width="0.8"/>
<line x1="49.4" y1="451.815" x2="54.6" y2="451.815" stroke="#231f20" stroke-width="0.8"/>
<path d="M67.9 428.59350000000006 L69.2 430.8935 L66.60000000000001 430.8935Z" fill="#f4b478"/>
<rect x="68.35000000000001" y="439.28" width="2.1" height="2.1" fill="#f4b478"/>
<circle cx="66.9" cy="444.92400000000004" r="1.05" fill="#1a1a1a"/>
<rect x="68.35000000000001" y="449.6165" width="2.1" height="2.1" fill="#1a1a1a"/>
<circle cx="65.9" cy="452.2744" r="1.05" fill="#1a1a1a"/>
<circle cx="67.9" cy="459.85450000000003" r="1.05" fill="#1a1a1a"/>
<line x1="63.300000000000004" y1="447.221" x2="72.5" y2="447.221" stroke="#231f20" stroke-width="0.8"/>
<line x1="67.9" y1="456.409" x2="67.9" y2="438.033" stroke="#231f20" stroke-width="0.8"/>
<line x1="65.30000000000001" y1="456.409" x2="70.5" y2="456.409" stroke="#231f20" stroke-width="0.8"/>
<line x1="65.30000000000001" y1="438.033" x2="70.5" y2="438.033" stroke="#231f20" stroke-width="0.8"/>
<path d="M83.8 448.11800000000005 L85.1 450.418 L82.5 450.418Z" fill="#f4cc78"/>
<circle cx="81.8" cy="457.5575" r="1.05" fill="#5a4a8a"/>
<circle cx="85.8" cy="458.706" r="1.05" fill="#1a1a1a"/>
<path d="M81.3 459.603 L82.6 461.90299999999996 L80.0 461.90299999999996Z" fill="#78c490"/>
<path d="M86.3 463.5515 L87.6 461.2515 L85.0 461.2515Z" fill="#78c490"/>
<path d="M83.8 461.21090000000004 L85.1 463.5109 L82.5 463.5109Z" fill="#78c490"/>
<line x1="79.2" y1="457.5575" x2="88.39999999999999" y2="457.5575" stroke="#231f20" stroke-width="0.8"/>
<line x1="83.8" y1="461.003" x2="83.8" y2="454.112" stroke="#231f20" stroke-width="0.8"/>
<line x1="81.2" y1="461.003" x2="86.39999999999999" y2="461.003" stroke="#231f20" stroke-width="0.8"/>
<line x1="81.2" y1="454.112" x2="86.39999999999999" y2="454.112" stroke="#231f20" stroke-width="0.8"/>
<path d="M99.6 429.2826 L100.89999999999999 431.58259999999996 L98.3 431.58259999999996Z" fill="#f4b478"/>
<rect x="96.55" y="436.983" width="2.1" height="2.1" fill="#78b4e0"/>
<rect x="100.55" y="438.1315" width="2.1" height="2.1" fill="#78b4e0"/>
<path d="M100.6 441.22700000000003 L101.89999999999999 443.527 L99.3 443.527Z" fill="#78b4e0"/>
<path d="M97.6 460.106 L98.89999999999999 457.80600000000004 L96.3 457.80600000000004Z" fill="#78c490"/>
<path d="M101.6 459.603 L102.89999999999999 461.90299999999996 L100.3 461.90299999999996Z" fill="#78c490"/>
<path d="M99.6 463.3218 L100.89999999999999 461.02180000000004 L98.3 461.02180000000004Z" fill="#78c490"/>
<line x1="95.0" y1="448.3695" x2="104.19999999999999" y2="448.3695" stroke="#2a5e8a" stroke-width="0.8"/>
<line x1="99.6" y1="459.85450000000003" x2="99.6" y2="438.033" stroke="#2a5e8a" stroke-width="0.8"/>
<line x1="97.0" y1="459.85450000000003" x2="102.19999999999999" y2="459.85450000000003" stroke="#2a5e8a" stroke-width="0.8"/>
<line x1="97.0" y1="438.033" x2="102.19999999999999" y2="438.033" stroke="#2a5e8a" stroke-width="0.8"/>
<path d="M50.5 417.90000000000003 L50.5 416.1 L99.9 416.1 L99.9 417.90000000000003" fill="none" stroke="#231f20" stroke-width="0.6"/>
<text x="74.85" y="413.2" font-size="6.8" text-anchor="middle" fill="#231f20" font-weight="normal" textLength="36.3" lengthAdjust="spacingAndGlyphs" stroke="#231f20" stroke-width="0.18">MDS/MPN**</text>
<path d="M50.5 429.8 L50.5 427.6 L68.2 427.6 L68.2 429.8" fill="none" stroke="#231f20" stroke-width="0.6"/>
<text x="59" y="425.3" font-size="6.8" text-anchor="middle" fill="#231f20" font-weight="normal" textLength="23.6" lengthAdjust="spacingAndGlyphs" stroke="#231f20" stroke-width="0.18">ET-like**</text>
<line x1="151.7" y1="425.5" x2="151.7" y2="474.5" stroke="#141414" stroke-width="1.05"/>
<line x1="148.7" y1="427.25" x2="151.7" y2="427.25" stroke="#141414" stroke-width="0.9"/>
<text x="145.5" y="429.626" font-size="6.6" text-anchor="end" fill="#231f20" font-weight="normal" stroke="#231f20" stroke-width="0.18">100</text>
<line x1="148.7" y1="435.22" x2="151.7" y2="435.22" stroke="#141414" stroke-width="0.9"/>
<text x="145.5" y="437.596" font-size="6.6" text-anchor="end" fill="#231f20" font-weight="normal" stroke="#231f20" stroke-width="0.18">80</text>
<line x1="148.7" y1="443.19" x2="151.7" y2="443.19" stroke="#141414" stroke-width="0.9"/>
<text x="145.5" y="445.566" font-size="6.6" text-anchor="end" fill="#231f20" font-weight="normal" stroke="#231f20" stroke-width="0.18">60</text>
<line x1="148.7" y1="451.16" x2="151.7" y2="451.16" stroke="#141414" stroke-width="0.9"/>
<text x="145.5" y="453.536" font-size="6.6" text-anchor="end" fill="#231f20" font-weight="normal" stroke="#231f20" stroke-width="0.18">40</text>
<line x1="148.7" y1="459.13" x2="151.7" y2="459.13" stroke="#141414" stroke-width="0.9"/>
<text x="145.5" y="461.506" font-size="6.6" text-anchor="end" fill="#231f20" font-weight="normal" stroke="#231f20" stroke-width="0.18">20</text>
<line x1="148.7" y1="467.1" x2="151.7" y2="467.1" stroke="#141414" stroke-width="0.9"/>
<text x="145.5" y="469.476" font-size="6.6" text-anchor="end" fill="#231f20" font-weight="normal" stroke="#231f20" stroke-width="0.18">0</text>
<line x1="148.7" y1="475.07000000000005" x2="151.7" y2="475.07000000000005" stroke="#141414" stroke-width="0.9"/>
<text x="145.5" y="477.446" font-size="6.6" text-anchor="end" fill="#231f20" font-weight="normal" stroke="#231f20" stroke-width="0.18">−20</text>
<line x1="151.7" y1="474.5" x2="222.6" y2="474.5" stroke="#231f20" stroke-width="1.0"/>
<line x1="162.3" y1="474.5" x2="162.3" y2="477.0" stroke="#231f20" stroke-width="0.8"/>
<text x="165.5" y="483.0" font-size="6.2" text-anchor="end" fill="#231f20" font-weight="normal" transform="rotate(-45 165.5 483.0)" stroke="#231f20" stroke-width="0.18">WT</text>
<line x1="178.8" y1="474.5" x2="178.8" y2="477.0" stroke="#231f20" stroke-width="0.8"/>
<text x="182.0" y="483.0" font-size="6.2" text-anchor="end" fill="#231f20" font-weight="normal" transform="rotate(-45 182.0 483.0)" stroke="#231f20" stroke-width="0.18">Asxl1<tspan baseline-shift="super" font-size="65%">−/−</tspan></text>
<line x1="195.1" y1="474.5" x2="195.1" y2="477.0" stroke="#231f20" stroke-width="0.8"/>
<text x="198.29999999999998" y="483.0" font-size="6.2" text-anchor="end" fill="#231f20" font-weight="normal" transform="rotate(-45 198.29999999999998 483.0)" stroke="#231f20" stroke-width="0.18">Ezh2<tspan baseline-shift="super" font-size="65%">−/−</tspan></text>
<line x1="211.4" y1="474.5" x2="211.4" y2="477.0" stroke="#231f20" stroke-width="0.8"/>
<text x="214.6" y="483.0" font-size="6.2" text-anchor="end" fill="#231f20" font-weight="normal" transform="rotate(-45 214.6 483.0)" stroke="#231f20" stroke-width="0.18">Asxl1<tspan baseline-shift="super" font-size="65%">−/−</tspan> Ezh2<tspan baseline-shift="super" font-size="65%">−/−</tspan></text>
<text x="129.4" y="450.1" font-size="7.0" text-anchor="middle" fill="#231f20" font-weight="normal" transform="rotate(-90 129.4 450.1)" textLength="47" lengthAdjust="spacingAndGlyphs" stroke="#231f20" stroke-width="0.18">WBC (10<tspan baseline-shift="super" font-size="65%">3</tspan>/mm<tspan baseline-shift="super" font-size="65%">3</tspan>)</text>
<circle cx="158.8" cy="463.91200000000003" r="1.05" fill="#1a1a1a"/>
<circle cx="161.3" cy="464.31050000000005" r="1.05" fill="#1a1a1a"/>
<circle cx="163.8" cy="464.709" r="1.05" fill="#1a1a1a"/>
<circle cx="166.10000000000002" cy="463.71275" r="1.05" fill="#1a1a1a"/>
<circle cx="164.3" cy="465.1075" r="1.05" fill="#1a1a1a"/>
<line x1="157.70000000000002" y1="464.31050000000005" x2="166.9" y2="464.31050000000005" stroke="#231f20" stroke-width="0.8"/>
<line x1="162.3" y1="464.709" x2="162.3" y2="463.91200000000003" stroke="#231f20" stroke-width="0.8"/>
<line x1="159.70000000000002" y1="464.709" x2="164.9" y2="464.709" stroke="#231f20" stroke-width="0.8"/>
<line x1="159.70000000000002" y1="463.91200000000003" x2="164.9" y2="463.91200000000003" stroke="#231f20" stroke-width="0.8"/>
<circle cx="179.8" cy="459.927" r="1.05" fill="#5a4a8a"/>
<rect x="175.75" y="460.0725" width="2.1" height="2.1" fill="#1a1a1a"/>
<path d="M180.8 460.51950000000005 L182.10000000000002 462.8195 L179.5 462.8195Z" fill="#5a4a8a"/>
<rect x="174.75" y="462.065" width="2.1" height="2.1" fill="#f4b478"/>
<circle cx="182.3" cy="463.91200000000003" r="1.05" fill="#f4b478"/>
<circle cx="175.3" cy="465.1075" r="1.05" fill="#1a1a1a"/>
<circle cx="178.8" cy="462.7165" r="1.05" fill="#1a1a1a"/>
<line x1="174.20000000000002" y1="462.31800000000004" x2="183.4" y2="462.31800000000004" stroke="#231f20" stroke-width="0.8"/>
<line x1="178.8" y1="463.115" x2="178.8" y2="461.521" stroke="#231f20" stroke-width="0.8"/>
<line x1="176.20000000000002" y1="463.115" x2="181.4" y2="463.115" stroke="#231f20" stroke-width="0.8"/>
<line x1="176.20000000000002" y1="461.521" x2="181.4" y2="461.521" stroke="#231f20" stroke-width="0.8"/>
<path d="M195.1 449.76000000000005 L196.4 452.06 L193.79999999999998 452.06Z" fill="#f4cc78"/>
<circle cx="196.1" cy="455.14500000000004" r="1.05" fill="#1a1a1a"/>
<circle cx="193.1" cy="461.1225" r="1.05" fill="#1a1a1a"/>
<circle cx="191.6" cy="465.1075" r="1.05" fill="#1a1a1a"/>
<circle cx="198.6" cy="465.50600000000003" r="1.05" fill="#1a1a1a"/>
<path d="M197.1 460.91800000000006 L198.4 463.218 L195.79999999999998 463.218Z" fill="#78c490"/>
<line x1="190.5" y1="458.333" x2="199.7" y2="458.333" stroke="#231f20" stroke-width="0.8"/>
<line x1="195.1" y1="461.9195" x2="195.1" y2="454.348" stroke="#231f20" stroke-width="0.8"/>
<line x1="192.5" y1="461.9195" x2="197.7" y2="461.9195" stroke="#231f20" stroke-width="0.8"/>
<line x1="192.5" y1="454.348" x2="197.7" y2="454.348" stroke="#231f20" stroke-width="0.8"/>
<path d="M211.4 455.73750000000007 L212.70000000000002 458.0375 L210.1 458.0375Z" fill="#78b4e0"/>
<path d="M209.4 462.5225 L210.70000000000002 460.2225 L208.1 460.2225Z" fill="#78c490"/>
<path d="M213.4 460.91800000000006 L214.70000000000002 463.218 L212.1 463.218Z" fill="#78b4e0"/>
<path d="M208.4 461.71500000000003 L209.70000000000002 464.015 L207.1 464.015Z" fill="#f4b478"/>
<path d="M214.4 465.312 L215.70000000000002 463.01200000000006 L213.1 463.01200000000006Z" fill="#78c490"/>
<path d="M209.9 466.5075 L211.20000000000002 464.20750000000004 L208.6 464.20750000000004Z" fill="#78b4e0"/>
<path d="M212.9 464.903 L214.20000000000002 467.203 L211.6 467.203Z" fill="#78b4e0"/>
<path d="M214.9 465.70000000000005 L216.20000000000002 468.0 L213.6 468.0Z" fill="#78c490"/>
<line x1="206.8" y1="463.115" x2="216.0" y2="463.115" stroke="#2a7a5a" stroke-width="0.8"/>
<line x1="211.4" y1="464.11125000000004" x2="211.4" y2="462.11875000000003" stroke="#2a7a5a" stroke-width="0.8"/>
<line x1="208.8" y1="464.11125000000004" x2="214.0" y2="464.11125000000004" stroke="#2a7a5a" stroke-width="0.8"/>
<line x1="208.8" y1="462.11875000000003" x2="214.0" y2="462.11875000000003" stroke="#2a7a5a" stroke-width="0.8"/>
<path d="M162.3 434.0 L162.3 430.5 L195.1 430.5 L195.1 434.0" fill="none" stroke="#231f20" stroke-width="0.6"/>
<text x="178.7" y="427.6" font-size="6.8" text-anchor="middle" fill="#231f20" font-weight="normal" textLength="49.8" lengthAdjust="spacingAndGlyphs" stroke="#231f20" stroke-width="0.18">MDS/MPN,LPD**</text>
<line x1="260.1" y1="424.5" x2="260.1" y2="474.7" stroke="#141414" stroke-width="1.05"/>
<line x1="257.1" y1="426.96" x2="260.1" y2="426.96" stroke="#141414" stroke-width="0.9"/>
<text x="253.90000000000003" y="429.33599999999996" font-size="6.6" text-anchor="end" fill="#231f20" font-weight="normal" stroke="#231f20" stroke-width="0.18">14</text>
<line x1="257.1" y1="433.78" x2="260.1" y2="433.78" stroke="#141414" stroke-width="0.9"/>
<text x="253.90000000000003" y="436.15599999999995" font-size="6.6" text-anchor="end" fill="#231f20" font-weight="normal" stroke="#231f20" stroke-width="0.18">12</text>
<line x1="257.1" y1="440.59999999999997" x2="260.1" y2="440.59999999999997" stroke="#141414" stroke-width="0.9"/>
<text x="253.90000000000003" y="442.97599999999994" font-size="6.6" text-anchor="end" fill="#231f20" font-weight="normal" stroke="#231f20" stroke-width="0.18">10</text>
<line x1="257.1" y1="447.41999999999996" x2="260.1" y2="447.41999999999996" stroke="#141414" stroke-width="0.9"/>
<text x="253.90000000000003" y="449.79599999999994" font-size="6.6" text-anchor="end" fill="#231f20" font-weight="normal" stroke="#231f20" stroke-width="0.18">8</text>
<line x1="257.1" y1="454.24" x2="260.1" y2="454.24" stroke="#141414" stroke-width="0.9"/>
<text x="253.90000000000003" y="456.616" font-size="6.6" text-anchor="end" fill="#231f20" font-weight="normal" stroke="#231f20" stroke-width="0.18">6</text>
<line x1="257.1" y1="461.06" x2="260.1" y2="461.06" stroke="#141414" stroke-width="0.9"/>
<text x="253.90000000000003" y="463.436" font-size="6.6" text-anchor="end" fill="#231f20" font-weight="normal" stroke="#231f20" stroke-width="0.18">4</text>
<line x1="257.1" y1="467.88" x2="260.1" y2="467.88" stroke="#141414" stroke-width="0.9"/>
<text x="253.90000000000003" y="470.256" font-size="6.6" text-anchor="end" fill="#231f20" font-weight="normal" stroke="#231f20" stroke-width="0.18">2</text>
<line x1="257.1" y1="474.7" x2="260.1" y2="474.7" stroke="#141414" stroke-width="0.9"/>
<text x="253.90000000000003" y="477.07599999999996" font-size="6.6" text-anchor="end" fill="#231f20" font-weight="normal" stroke="#231f20" stroke-width="0.18">0</text>
<line x1="260.1" y1="474.7" x2="332.6" y2="474.7" stroke="#231f20" stroke-width="1.0"/>
<line x1="271.3" y1="474.7" x2="271.3" y2="477.2" stroke="#231f20" stroke-width="0.8"/>
<text x="274.5" y="483.2" font-size="6.2" text-anchor="end" fill="#231f20" font-weight="normal" transform="rotate(-45 274.5 483.2)" stroke="#231f20" stroke-width="0.18">WT</text>
<line x1="287.1" y1="474.7" x2="287.1" y2="477.2" stroke="#231f20" stroke-width="0.8"/>
<text x="290.3" y="483.2" font-size="6.2" text-anchor="end" fill="#231f20" font-weight="normal" transform="rotate(-45 290.3 483.2)" stroke="#231f20" stroke-width="0.18">Asxl1<tspan baseline-shift="super" font-size="65%">−/−</tspan></text>
<line x1="304" y1="474.7" x2="304" y2="477.2" stroke="#231f20" stroke-width="0.8"/>
<text x="307.2" y="483.2" font-size="6.2" text-anchor="end" fill="#231f20" font-weight="normal" transform="rotate(-45 307.2 483.2)" stroke="#231f20" stroke-width="0.18">Ezh2<tspan baseline-shift="super" font-size="65%">−/−</tspan></text>
<line x1="321" y1="474.7" x2="321" y2="477.2" stroke="#231f20" stroke-width="0.8"/>
<text x="324.2" y="483.2" font-size="6.2" text-anchor="end" fill="#231f20" font-weight="normal" transform="rotate(-45 324.2 483.2)" stroke="#231f20" stroke-width="0.18">Asxl1<tspan baseline-shift="super" font-size="65%">−/−</tspan> Ezh2<tspan baseline-shift="super" font-size="65%">−/−</tspan></text>
<text x="242" y="449.4" font-size="7.0" text-anchor="middle" fill="#231f20" font-weight="normal" transform="rotate(-90 242 449.4)" textLength="46" lengthAdjust="spacingAndGlyphs" stroke="#231f20" stroke-width="0.18">RBC (10<tspan baseline-shift="super" font-size="65%">6</tspan>/mm<tspan baseline-shift="super" font-size="65%">3</tspan>)</text>
<rect x="268.25" y="452.167" width="2.1" height="2.1" fill="#1a1a1a"/>
<rect x="272.75" y="453.19" width="2.1" height="2.1" fill="#1a1a1a"/>
<circle cx="271.3" cy="461.06" r="1.05" fill="#1a1a1a"/>
<circle cx="270.3" cy="466.175" r="1.05" fill="#1a1a1a"/>
<circle cx="271.8" cy="470.608" r="1.05" fill="#1a1a1a"/>
<line x1="266.7" y1="462.08299999999997" x2="275.90000000000003" y2="462.08299999999997" stroke="#231f20" stroke-width="0.8"/>
<line x1="271.3" y1="465.152" x2="271.3" y2="458.332" stroke="#231f20" stroke-width="0.8"/>
<line x1="268.7" y1="465.152" x2="273.90000000000003" y2="465.152" stroke="#231f20" stroke-width="0.8"/>
<line x1="268.7" y1="458.332" x2="273.90000000000003" y2="458.332" stroke="#231f20" stroke-width="0.8"/>
<circle cx="287.1" cy="438.895" r="1.05" fill="#1a1a1a"/>
<circle cx="287.1" cy="446.738" r="1.05" fill="#1a1a1a"/>
<circle cx="285.6" cy="450.14799999999997" r="1.05" fill="#1a1a1a"/>
<circle cx="290.1" cy="455.945" r="1.05" fill="#1a1a1a"/>
<rect x="283.55" y="456.59999999999997" width="2.1" height="2.1" fill="#f4b478"/>
<rect x="283.05" y="458.30499999999995" width="2.1" height="2.1" fill="#f4b478"/>
<line x1="282.5" y1="450.489" x2="291.70000000000005" y2="450.489" stroke="#231f20" stroke-width="0.8"/>
<line x1="287.1" y1="453.217" x2="287.1" y2="447.41999999999996" stroke="#231f20" stroke-width="0.8"/>
<line x1="284.5" y1="453.217" x2="289.70000000000005" y2="453.217" stroke="#231f20" stroke-width="0.8"/>
<line x1="284.5" y1="447.41999999999996" x2="289.70000000000005" y2="447.41999999999996" stroke="#231f20" stroke-width="0.8"/>
<path d="M304 439.2 L305.3 441.49999999999994 L302.7 441.49999999999994Z" fill="#f4cc78"/>
<path d="M303 461.365 L304.3 463.66499999999996 L301.7 463.66499999999996Z" fill="#78c490"/>
<path d="M305 464.77500000000003 L306.3 467.075 L303.7 467.075Z" fill="#78c490"/>
<path d="M302 470.98499999999996 L303.3 468.685 L300.7 468.685Z" fill="#78c490"/>
<line x1="299.4" y1="459.35499999999996" x2="308.6" y2="459.35499999999996" stroke="#231f20" stroke-width="0.8"/>
<line x1="304" y1="463.447" x2="304" y2="454.24" stroke="#231f20" stroke-width="0.8"/>
<line x1="301.4" y1="463.447" x2="306.6" y2="463.447" stroke="#231f20" stroke-width="0.8"/>
<line x1="301.4" y1="454.24" x2="306.6" y2="454.24" stroke="#231f20" stroke-width="0.8"/>
<path d="M320 444.997 L321.3 447.29699999999997 L318.7 447.29699999999997Z" fill="#f4b478"/>
<path d="M324 451.135 L325.3 453.43499999999995 L322.7 453.43499999999995Z" fill="#78c490"/>
<path d="M318 454.545 L319.3 456.84499999999997 L316.7 456.84499999999997Z" fill="#78b4e0"/>
<path d="M323 461.77799999999996 L324.3 459.478 L321.7 459.478Z" fill="#78b4e0"/>
<path d="M319 463.07 L320.3 465.36999999999995 L317.7 465.36999999999995Z" fill="#78b4e0"/>
<path d="M319.5 470.98499999999996 L320.8 468.685 L318.2 468.685Z" fill="#78b4e0"/>
<path d="M322.5 469.208 L323.8 471.508 L321.2 471.508Z" fill="#78c490"/>
<path d="M321 456.25 L322.3 458.54999999999995 L319.7 458.54999999999995Z" fill="#f4cc78"/>
<line x1="316.4" y1="459.014" x2="325.6" y2="459.014" stroke="#2a7a5a" stroke-width="0.8"/>
<line x1="321" y1="461.06" x2="321" y2="456.96799999999996" stroke="#2a7a5a" stroke-width="0.8"/>
<line x1="318.4" y1="461.06" x2="323.6" y2="461.06" stroke="#2a7a5a" stroke-width="0.8"/>
<line x1="318.4" y1="456.96799999999996" x2="323.6" y2="456.96799999999996" stroke="#2a7a5a" stroke-width="0.8"/>
<path d="M271.3 431.7 L271.3 429.5 L287.1 429.5 L287.1 431.7" fill="none" stroke="#231f20" stroke-width="0.6"/>
<text x="278.5" y="428.3" font-size="5.5" text-anchor="middle" fill="#231f20" font-weight="normal" stroke="#231f20" stroke-width="0.18">*</text>
<path d="M287.1 428.0 L287.1 425.2 L321 425.2 L321 428.0" fill="none" stroke="#231f20" stroke-width="0.6"/>
<text x="304" y="424.5" font-size="5.5" text-anchor="middle" fill="#231f20" font-weight="normal" stroke="#231f20" stroke-width="0.18">*</text>
<line x1="367.1" y1="424" x2="367.1" y2="474.5" stroke="#141414" stroke-width="1.05"/>
<line x1="364.1" y1="425.85" x2="367.1" y2="425.85" stroke="#141414" stroke-width="0.9"/>
<text x="360.90000000000003" y="428.226" font-size="6.6" text-anchor="end" fill="#231f20" font-weight="normal" stroke="#231f20" stroke-width="0.18">25</text>
<line x1="364.1" y1="435.58" x2="367.1" y2="435.58" stroke="#141414" stroke-width="0.9"/>
<text x="360.90000000000003" y="437.95599999999996" font-size="6.6" text-anchor="end" fill="#231f20" font-weight="normal" stroke="#231f20" stroke-width="0.18">20</text>
<line x1="364.1" y1="445.31" x2="367.1" y2="445.31" stroke="#141414" stroke-width="0.9"/>
<text x="360.90000000000003" y="447.686" font-size="6.6" text-anchor="end" fill="#231f20" font-weight="normal" stroke="#231f20" stroke-width="0.18">15</text>
<line x1="364.1" y1="455.04" x2="367.1" y2="455.04" stroke="#141414" stroke-width="0.9"/>
<text x="360.90000000000003" y="457.416" font-size="6.6" text-anchor="end" fill="#231f20" font-weight="normal" stroke="#231f20" stroke-width="0.18">10</text>
<line x1="364.1" y1="464.77" x2="367.1" y2="464.77" stroke="#141414" stroke-width="0.9"/>
<text x="360.90000000000003" y="467.14599999999996" font-size="6.6" text-anchor="end" fill="#231f20" font-weight="normal" stroke="#231f20" stroke-width="0.18">5</text>
<line x1="364.1" y1="474.5" x2="367.1" y2="474.5" stroke="#141414" stroke-width="0.9"/>
<text x="360.90000000000003" y="476.876" font-size="6.6" text-anchor="end" fill="#231f20" font-weight="normal" stroke="#231f20" stroke-width="0.18">0</text>
<line x1="367.1" y1="474.5" x2="441.5" y2="474.5" stroke="#231f20" stroke-width="1.0"/>
<line x1="378.1" y1="474.5" x2="378.1" y2="477.0" stroke="#231f20" stroke-width="0.8"/>
<text x="381.3" y="483.0" font-size="6.2" text-anchor="end" fill="#231f20" font-weight="normal" transform="rotate(-45 381.3 483.0)" stroke="#231f20" stroke-width="0.18">WT</text>
<line x1="395.4" y1="474.5" x2="395.4" y2="477.0" stroke="#231f20" stroke-width="0.8"/>
<text x="398.59999999999997" y="483.0" font-size="6.2" text-anchor="end" fill="#231f20" font-weight="normal" transform="rotate(-45 398.59999999999997 483.0)" stroke="#231f20" stroke-width="0.18">Asxl1<tspan baseline-shift="super" font-size="65%">−/−</tspan></text>
<line x1="411.9" y1="474.5" x2="411.9" y2="477.0" stroke="#231f20" stroke-width="0.8"/>
<text x="415.09999999999997" y="483.0" font-size="6.2" text-anchor="end" fill="#231f20" font-weight="normal" transform="rotate(-45 415.09999999999997 483.0)" stroke="#231f20" stroke-width="0.18">Ezh2<tspan baseline-shift="super" font-size="65%">−/−</tspan></text>
<line x1="428.4" y1="474.5" x2="428.4" y2="477.0" stroke="#231f20" stroke-width="0.8"/>
<text x="431.59999999999997" y="483.0" font-size="6.2" text-anchor="end" fill="#231f20" font-weight="normal" transform="rotate(-45 431.59999999999997 483.0)" stroke="#231f20" stroke-width="0.18">Asxl1<tspan baseline-shift="super" font-size="65%">−/−</tspan> Ezh2<tspan baseline-shift="super" font-size="65%">−/−</tspan></text>
<text x="348.9" y="449.1" font-size="7.2" text-anchor="middle" fill="#231f20" font-weight="normal" transform="rotate(-90 348.9 449.1)" textLength="31.6" lengthAdjust="spacingAndGlyphs" stroke="#231f20" stroke-width="0.18">Hgb (g/dL)</text>
<circle cx="378.1" cy="450.175" r="1.05" fill="#1a1a1a"/>
<circle cx="378.1" cy="451.148" r="1.05" fill="#1a1a1a"/>
<path d="M378.1 463.37 L379.5 464.77 L378.1 466.16999999999996 L376.70000000000005 464.77Z" fill="#1a1a1a"/>
<circle cx="376.1" cy="462.824" r="1.05" fill="#1a1a1a"/>
<circle cx="378.1" cy="469.635" r="1.05" fill="#1a1a1a"/>
<line x1="373.5" y1="459.905" x2="382.70000000000005" y2="459.905" stroke="#231f20" stroke-width="0.8"/>
<line x1="378.1" y1="463.797" x2="378.1" y2="456.013" stroke="#231f20" stroke-width="0.8"/>
<line x1="375.5" y1="463.797" x2="380.70000000000005" y2="463.797" stroke="#231f20" stroke-width="0.8"/>
<line x1="375.5" y1="456.013" x2="380.70000000000005" y2="456.013" stroke="#231f20" stroke-width="0.8"/>
<circle cx="395.4" cy="435.58" r="1.05" fill="#1a1a1a"/>
<circle cx="395.4" cy="439.472" r="1.05" fill="#1a1a1a"/>
<circle cx="393.9" cy="448.229" r="1.05" fill="#1a1a1a"/>
<circle cx="396.4" cy="455.04" r="1.05" fill="#1a1a1a"/>
<rect x="391.84999999999997" y="457.882" width="2.1" height="2.1" fill="#f4b478"/>
<rect x="396.84999999999997" y="458.85499999999996" width="2.1" height="2.1" fill="#f4b478"/>
<line x1="390.79999999999995" y1="449.202" x2="400.0" y2="449.202" stroke="#231f20" stroke-width="0.8"/>
<line x1="395.4" y1="452.121" x2="395.4" y2="445.31" stroke="#231f20" stroke-width="0.8"/>
<line x1="392.79999999999995" y1="452.121" x2="398.0" y2="452.121" stroke="#231f20" stroke-width="0.8"/>
<line x1="392.79999999999995" y1="445.31" x2="398.0" y2="445.31" stroke="#231f20" stroke-width="0.8"/>
<circle cx="411.9" cy="423.904" r="1.05" fill="#1a1a1a"/>
<circle cx="411.9" cy="436.553" r="1.05" fill="#1a1a1a"/>
<path d="M411.9 447.802 L413.2 450.102 L410.59999999999997 450.102Z" fill="#f4cc78"/>
<path d="M409.9 457.53200000000004 L411.2 459.832 L408.59999999999997 459.832Z" fill="#78c490"/>
<path d="M414.4 463.37 L415.7 465.66999999999996 L413.09999999999997 465.66999999999996Z" fill="#78c490"/>
<path d="M409.9 470.06199999999995 L411.2 467.762 L408.59999999999997 467.762Z" fill="#78c490"/>
<line x1="407.29999999999995" y1="457.959" x2="416.5" y2="457.959" stroke="#231f20" stroke-width="0.8"/>
<line x1="411.9" y1="462.824" x2="411.9" y2="453.094" stroke="#231f20" stroke-width="0.8"/>
<line x1="409.29999999999995" y1="462.824" x2="414.5" y2="462.824" stroke="#231f20" stroke-width="0.8"/>
<line x1="409.29999999999995" y1="453.094" x2="414.5" y2="453.094" stroke="#231f20" stroke-width="0.8"/>
<path d="M428.4 447.802 L429.7 450.102 L427.09999999999997 450.102Z" fill="#f4b478"/>
<path d="M426.4 450.721 L427.7 453.02099999999996 L425.09999999999997 453.02099999999996Z" fill="#78b4e0"/>
<path d="M430.4 453.64000000000004 L431.7 455.94 L429.09999999999997 455.94Z" fill="#78c490"/>
<path d="M425.4 460.332 L426.7 458.03200000000004 L424.09999999999997 458.03200000000004Z" fill="#78b4e0"/>
<path d="M431.9 462.27799999999996 L433.2 459.978 L430.59999999999997 459.978Z" fill="#78c490"/>
<path d="M427.4 463.37 L428.7 465.66999999999996 L426.09999999999997 465.66999999999996Z" fill="#78b4e0"/>
<path d="M429.9 470.06199999999995 L431.2 467.762 L428.59999999999997 467.762Z" fill="#78c490"/>
<path d="M428.4 471.154 L429.7 473.45399999999995 L427.09999999999997 473.45399999999995Z" fill="#78b4e0"/>
<line x1="423.79999999999995" y1="460.2942" x2="433.0" y2="460.2942" stroke="#2a7a5a" stroke-width="0.8"/>
<line x1="428.4" y1="461.851" x2="428.4" y2="458.3482" stroke="#2a7a5a" stroke-width="0.8"/>
<line x1="425.79999999999995" y1="461.851" x2="431.0" y2="461.851" stroke="#2a7a5a" stroke-width="0.8"/>
<line x1="425.79999999999995" y1="458.3482" x2="431.0" y2="458.3482" stroke="#2a7a5a" stroke-width="0.8"/>
<path d="M378.1 433.3 L378.1 431.2 L395.4 431.2 L395.4 433.3" fill="none" stroke="#231f20" stroke-width="0.6"/>
<text x="382.65" y="429.3" font-size="6.8" text-anchor="middle" fill="#231f20" font-weight="normal" textLength="22.7" lengthAdjust="spacingAndGlyphs" stroke="#231f20" stroke-width="0.18">PV-like *</text>
<path d="M395.4 430.1 L395.4 426.5 L428.4 426.5 L428.4 430.1" fill="none" stroke="#231f20" stroke-width="0.6"/>
<text x="411" y="425.8" font-size="5.5" text-anchor="middle" fill="#231f20" font-weight="normal" stroke="#231f20" stroke-width="0.18">*</text>
<rect x="445.15" y="427.65" width="3.7" height="3.7" fill="#f39a3d"/>
<path d="M452.3 427.465 L454.33500000000004 431.165 L450.265 431.165Z" fill="#f39a3d"/>
<text x="458.2" y="432.0" font-size="7.1" text-anchor="start" fill="#2b2b2b" font-weight="normal" textLength="18" lengthAdjust="spacingAndGlyphs" stroke="#2b2b2b" stroke-width="0.18">ET-like</text>
<path d="M447 437.315 L449.035 441.01500000000004 L444.965 441.01500000000004Z" fill="#2e1f5e"/>
<rect x="450.45" y="437.5" width="3.7" height="3.7" fill="#2e1f5e"/>
<text x="458.2" y="441.85" font-size="7.1" text-anchor="start" fill="#2b2b2b" font-weight="normal" textLength="18.7" lengthAdjust="spacingAndGlyphs" stroke="#2b2b2b" stroke-width="0.18">PV-like</text>
<path d="M447 447.16499999999996 L449.035 450.865 L444.965 450.865Z" fill="#f6bd3f"/>
<path d="M452.3 451.235 L454.33500000000004 447.53499999999997 L450.265 447.53499999999997Z" fill="#f6bd3f"/>
<text x="458.2" y="451.7" font-size="7.1" text-anchor="start" fill="#2b2b2b" font-weight="normal" textLength="14.1" lengthAdjust="spacingAndGlyphs" stroke="#2b2b2b" stroke-width="0.18">MDS</text>
<path d="M447 457.015 L449.035 460.71500000000003 L444.965 460.71500000000003Z" fill="#3b90d2"/>
<path d="M452.3 461.08500000000004 L454.33500000000004 457.385 L450.265 457.385Z" fill="#3b90d2"/>
<text x="458.2" y="461.55" font-size="7.1" text-anchor="start" fill="#2b2b2b" font-weight="normal" textLength="30.3" lengthAdjust="spacingAndGlyphs" stroke="#2b2b2b" stroke-width="0.18">MDS/MPN</text>
<path d="M447 466.86499999999995 L449.035 470.565 L444.965 470.565Z" fill="#3aa45c"/>
<path d="M452.3 470.935 L454.33500000000004 467.23499999999996 L450.265 467.23499999999996Z" fill="#3aa45c"/>
<text x="458.2" y="471.4" font-size="7.1" text-anchor="start" fill="#2b2b2b" font-weight="normal" textLength="45.6" lengthAdjust="spacingAndGlyphs" stroke="#2b2b2b" stroke-width="0.18">MDS/MPN, LPD</text>
<text x="12.62" y="538.4" font-size="11.8" text-anchor="start" fill="#000" font-weight="bold" stroke="#000" stroke-width="0.35">G</text>
<text x="83.3" y="539.8" font-size="8.4" text-anchor="middle" fill="#231f20" font-weight="normal" stroke="#231f20" stroke-width="0.3" textLength="56" lengthAdjust="spacingAndGlyphs">Granulopoiesis</text>
<text x="19" y="578.5" font-size="6.8" text-anchor="middle" fill="#231f20" font-weight="normal" transform="rotate(-90 19 578.5)" stroke="#231f20" stroke-width="0.18">% of Cells</text>
<line x1="41.2" y1="545" x2="41.2" y2="612.4" stroke="#141414" stroke-width="1.05"/>
<line x1="38.800000000000004" y1="547.81" x2="41.2" y2="547.81" stroke="#141414" stroke-width="0.9"/>
<text x="36.2" y="550.1139999999999" font-size="6.4" text-anchor="end" fill="#231f20" font-weight="normal" stroke="#231f20" stroke-width="0.18">150</text>
<line x1="38.800000000000004" y1="569.34" x2="41.2" y2="569.34" stroke="#141414" stroke-width="0.9"/>
<text x="36.2" y="571.644" font-size="6.4" text-anchor="end" fill="#231f20" font-weight="normal" stroke="#231f20" stroke-width="0.18">100</text>
<line x1="38.800000000000004" y1="590.87" x2="41.2" y2="590.87" stroke="#141414" stroke-width="0.9"/>
<text x="36.2" y="593.174" font-size="6.4" text-anchor="end" fill="#231f20" font-weight="normal" stroke="#231f20" stroke-width="0.18">50</text>
<line x1="38.800000000000004" y1="612.4" x2="41.2" y2="612.4" stroke="#141414" stroke-width="0.9"/>
<text x="36.2" y="614.704" font-size="6.4" text-anchor="end" fill="#231f20" font-weight="normal" stroke="#231f20" stroke-width="0.18">0</text>
<line x1="41.2" y1="612.4" x2="124" y2="612.4" stroke="#141414" stroke-width="1.05"/>
<line x1="54.25" y1="612.4" x2="54.25" y2="614.8" stroke="#231f20" stroke-width="0.8"/>
<text x="57.25" y="621" font-size="6.5" text-anchor="end" fill="#231f20" font-weight="normal" transform="rotate(-45 57.25 621)" stroke="#231f20" stroke-width="0.18">WT</text>
<line x1="73.3" y1="612.4" x2="73.3" y2="614.8" stroke="#231f20" stroke-width="0.8"/>
<text x="76.3" y="621" font-size="6.5" text-anchor="end" fill="#231f20" font-weight="normal" transform="rotate(-45 76.3 621)" textLength="19.6" lengthAdjust="spacingAndGlyphs" stroke="#231f20" stroke-width="0.18">Asxl1<tspan baseline-shift="super" font-size="65%">−/−</tspan></text>
<line x1="92.5" y1="612.4" x2="92.5" y2="614.8" stroke="#231f20" stroke-width="0.8"/>
<text x="95.5" y="621" font-size="6.5" text-anchor="end" fill="#231f20" font-weight="normal" transform="rotate(-45 95.5 621)" textLength="18.4" lengthAdjust="spacingAndGlyphs" stroke="#231f20" stroke-width="0.18">Ezh2<tspan baseline-shift="super" font-size="65%">−/−</tspan></text>
<line x1="111.25" y1="612.4" x2="111.25" y2="614.8" stroke="#231f20" stroke-width="0.8"/>
<text x="114.25" y="621" font-size="6.5" text-anchor="end" fill="#231f20" font-weight="normal" transform="rotate(-45 114.25 621)" textLength="38.6" lengthAdjust="spacingAndGlyphs" stroke="#231f20" stroke-width="0.18">Asxl1<tspan baseline-shift="super" font-size="65%">−/−</tspan> Ezh2<tspan baseline-shift="super" font-size="65%">−/−</tspan></text>
<rect x="47.75" y="568.9094" width="13" height="2.15300000000002" fill="#2e2838"/>
<rect x="47.75" y="571.0624" width="13" height="21.529999999999973" fill="#3cb450"/>
<rect x="47.75" y="592.5924" width="13" height="11.626199999999926" fill="#e0143c"/>
<rect x="47.75" y="604.2185999999999" width="13" height="8.181400000000053" fill="#1e5a96"/>
<rect x="66.8" y="568.9094" width="13" height="1.2917999999999665" fill="#2e2838"/>
<rect x="66.8" y="570.2012" width="13" height="23.682999999999993" fill="#3cb450"/>
<rect x="66.8" y="593.8842" width="13" height="10.764999999999986" fill="#e0143c"/>
<rect x="66.8" y="604.6492" width="13" height="7.750800000000027" fill="#1e5a96"/>
<rect x="86.0" y="568.6940999999999" width="13" height="2.36830000000009" fill="#2e2838"/>
<rect x="86.0" y="571.0624" width="13" height="17.65459999999996" fill="#3cb450"/>
<rect x="86.0" y="588.717" width="13" height="11.195600000000013" fill="#e0143c"/>
<rect x="86.0" y="599.9126" width="13" height="12.48739999999998" fill="#1e5a96"/>
<rect x="104.75" y="569.1247" width="13" height="1.2917999999999665" fill="#2e2838"/>
<rect x="104.75" y="570.4164999999999" width="13" height="11.410900000000083" fill="#3cb450"/>
<rect x="104.75" y="581.8274" width="13" height="13.34859999999992" fill="#e0143c"/>
<rect x="104.75" y="595.1759999999999" width="13" height="17.224000000000046" fill="#1e5a96"/>
<text x="111.3" y="568.3" font-size="5.5" text-anchor="middle" fill="#231f20" font-weight="normal" stroke="#231f20" stroke-width="0.18">*</text>
<text x="111.3" y="593.3" font-size="6" text-anchor="middle" fill="#fff" font-weight="normal" stroke="#fff" stroke-width="0.18">**</text>
<rect x="131" y="561.6" width="4.8" height="4.8" fill="#2e2838"/>
<text x="138.5" y="566.4" font-size="6.9" text-anchor="start" fill="#2b2b2b" font-weight="normal" stroke="#2b2b2b" stroke-width="0.18">Ne</text>
<rect x="131" y="571.25" width="4.8" height="4.8" fill="#3cb450"/>
<text x="138.5" y="576.05" font-size="6.9" text-anchor="start" fill="#2b2b2b" font-weight="normal" stroke="#2b2b2b" stroke-width="0.18">Band</text>
<rect x="131" y="580.9" width="4.8" height="4.8" fill="#e0143c"/>
<text x="138.5" y="585.6999999999999" font-size="6.9" text-anchor="start" fill="#2b2b2b" font-weight="normal" stroke="#2b2b2b" stroke-width="0.18">My/Met</text>
<rect x="131" y="590.5500000000001" width="4.8" height="4.8" fill="#1e5a96"/>
<text x="138.5" y="595.35" font-size="6.9" text-anchor="start" fill="#2b2b2b" font-weight="normal" stroke="#2b2b2b" stroke-width="0.18">Bl/Pro</text>
<text x="176.31" y="538.7" font-size="11.8" text-anchor="start" fill="#000" font-weight="bold" stroke="#000" stroke-width="0.35">H</text>
<text x="182.5" y="588" font-size="6.8" text-anchor="middle" fill="#231f20" font-weight="normal" transform="rotate(-90 182.5 588)" stroke="#231f20" stroke-width="0.18">Spleen weight (mg)</text>
<line x1="208.8" y1="564" x2="208.8" y2="612.3" stroke="#141414" stroke-width="1.05"/>
<line x1="206.4" y1="565.3" x2="208.8" y2="565.3" stroke="#141414" stroke-width="0.9"/>
<text x="203.8" y="567.568" font-size="6.3" text-anchor="end" fill="#231f20" font-weight="normal" stroke="#231f20" stroke-width="0.18">1000</text>
<line x1="206.4" y1="574.6999999999999" x2="208.8" y2="574.6999999999999" stroke="#141414" stroke-width="0.9"/>
<text x="203.8" y="576.968" font-size="6.3" text-anchor="end" fill="#231f20" font-weight="normal" stroke="#231f20" stroke-width="0.18">800</text>
<line x1="206.4" y1="584.0999999999999" x2="208.8" y2="584.0999999999999" stroke="#141414" stroke-width="0.9"/>
<text x="203.8" y="586.3679999999999" font-size="6.3" text-anchor="end" fill="#231f20" font-weight="normal" stroke="#231f20" stroke-width="0.18">600</text>
<line x1="206.4" y1="593.5" x2="208.8" y2="593.5" stroke="#141414" stroke-width="0.9"/>
<text x="203.8" y="595.768" font-size="6.3" text-anchor="end" fill="#231f20" font-weight="normal" stroke="#231f20" stroke-width="0.18">400</text>
<line x1="206.4" y1="602.9" x2="208.8" y2="602.9" stroke="#141414" stroke-width="0.9"/>
<text x="203.8" y="605.168" font-size="6.3" text-anchor="end" fill="#231f20" font-weight="normal" stroke="#231f20" stroke-width="0.18">200</text>
<line x1="206.4" y1="612.3" x2="208.8" y2="612.3" stroke="#141414" stroke-width="0.9"/>
<text x="203.8" y="614.568" font-size="6.3" text-anchor="end" fill="#231f20" font-weight="normal" stroke="#231f20" stroke-width="0.18">0</text>
<line x1="207.6" y1="607.5999999999999" x2="208.8" y2="607.5999999999999" stroke="#231f20" stroke-width="0.6"/>
<line x1="207.6" y1="598.1999999999999" x2="208.8" y2="598.1999999999999" stroke="#231f20" stroke-width="0.6"/>
<line x1="207.6" y1="588.8" x2="208.8" y2="588.8" stroke="#231f20" stroke-width="0.6"/>
<line x1="207.6" y1="579.4" x2="208.8" y2="579.4" stroke="#231f20" stroke-width="0.6"/>
<line x1="207.6" y1="570.0" x2="208.8" y2="570.0" stroke="#231f20" stroke-width="0.6"/>
<line x1="208.8" y1="612.3" x2="278.8" y2="612.3" stroke="#141414" stroke-width="1.05"/>
<line x1="219.4" y1="612.3" x2="219.4" y2="614.8" stroke="#231f20" stroke-width="0.8"/>
<text x="222.4" y="621" font-size="6.5" text-anchor="end" fill="#231f20" font-weight="normal" transform="rotate(-45 222.4 621)" stroke="#231f20" stroke-width="0.18">WT</text>
<line x1="235.4" y1="612.3" x2="235.4" y2="614.8" stroke="#231f20" stroke-width="0.8"/>
<text x="238.4" y="621" font-size="6.5" text-anchor="end" fill="#231f20" font-weight="normal" transform="rotate(-45 238.4 621)" textLength="19.6" lengthAdjust="spacingAndGlyphs" stroke="#231f20" stroke-width="0.18">Asxl1<tspan baseline-shift="super" font-size="65%">−/−</tspan></text>
<line x1="251.3" y1="612.3" x2="251.3" y2="614.8" stroke="#231f20" stroke-width="0.8"/>
<text x="254.3" y="621" font-size="6.5" text-anchor="end" fill="#231f20" font-weight="normal" transform="rotate(-45 254.3 621)" textLength="18.4" lengthAdjust="spacingAndGlyphs" stroke="#231f20" stroke-width="0.18">Ezh2<tspan baseline-shift="super" font-size="65%">−/−</tspan></text>
<line x1="268.1" y1="612.3" x2="268.1" y2="614.8" stroke="#231f20" stroke-width="0.8"/>
<text x="271.1" y="621" font-size="6.5" text-anchor="end" fill="#231f20" font-weight="normal" transform="rotate(-45 271.1 621)" textLength="38.6" lengthAdjust="spacingAndGlyphs" stroke="#231f20" stroke-width="0.18">Asxl1<tspan baseline-shift="super" font-size="65%">−/−</tspan> Ezh2<tspan baseline-shift="super" font-size="65%">−/−</tspan></text>
<circle cx="215.4" cy="607.5999999999999" r="1.05" fill="#1a1a1a"/>
<circle cx="217.4" cy="607.13" r="1.05" fill="#1a1a1a"/>
<circle cx="219.4" cy="607.8349999999999" r="1.05" fill="#1a1a1a"/>
<circle cx="221.4" cy="606.895" r="1.05" fill="#1a1a1a"/>
<circle cx="223.4" cy="607.5999999999999" r="1.05" fill="#1a1a1a"/>
<line x1="214.8" y1="607.459" x2="224.0" y2="607.459" stroke="#231f20" stroke-width="0.8"/>
<line x1="219.4" y1="607.694" x2="219.4" y2="607.2239999999999" stroke="#231f20" stroke-width="0.8"/>
<line x1="216.8" y1="607.694" x2="222.0" y2="607.694" stroke="#231f20" stroke-width="0.8"/>
<line x1="216.8" y1="607.2239999999999" x2="222.0" y2="607.2239999999999" stroke="#231f20" stroke-width="0.8"/>
<rect x="234.35" y="601.85" width="2.1" height="2.1" fill="#f4b478"/>
<rect x="231.35" y="606.55" width="2.1" height="2.1" fill="#f4b478"/>
<circle cx="234.4" cy="608.0699999999999" r="1.05" fill="#1a1a1a"/>
<circle cx="236.9" cy="608.54" r="1.05" fill="#1a1a1a"/>
<path d="M238.9 605.73 L240.20000000000002 608.03 L237.6 608.03Z" fill="#f4b478"/>
<circle cx="231.9" cy="609.01" r="1.05" fill="#1a1a1a"/>
<circle cx="237.4" cy="607.8349999999999" r="1.05" fill="#5a4a8a"/>
<line x1="230.8" y1="607.8349999999999" x2="240.0" y2="607.8349999999999" stroke="#231f20" stroke-width="0.8"/>
<line x1="235.4" y1="608.305" x2="235.4" y2="607.365" stroke="#231f20" stroke-width="0.8"/>
<line x1="232.8" y1="608.305" x2="238.0" y2="608.305" stroke="#231f20" stroke-width="0.8"/>
<line x1="232.8" y1="607.365" x2="238.0" y2="607.365" stroke="#231f20" stroke-width="0.8"/>
<path d="M251.3 596.8 L252.60000000000002 599.0999999999999 L250.0 599.0999999999999Z" fill="#78c490"/>
<path d="M249.3 599.15 L250.60000000000002 601.4499999999999 L248.0 601.4499999999999Z" fill="#78c490"/>
<path d="M253.8 601.5 L255.10000000000002 603.8 L252.5 603.8Z" fill="#f4cc78"/>
<circle cx="248.3" cy="605.25" r="1.05" fill="#1a1a1a"/>
<circle cx="254.3" cy="606.66" r="1.05" fill="#1a1a1a"/>
<path d="M250.3 608.9999999999999 L251.60000000000002 606.6999999999999 L249.0 606.6999999999999Z" fill="#78c490"/>
<path d="M252.3 606.18 L253.60000000000002 603.88 L251.0 603.88Z" fill="#78c490"/>
<line x1="246.70000000000002" y1="604.78" x2="255.9" y2="604.78" stroke="#231f20" stroke-width="0.8"/>
<line x1="251.3" y1="606.1899999999999" x2="251.3" y2="603.37" stroke="#231f20" stroke-width="0.8"/>
<line x1="248.70000000000002" y1="606.1899999999999" x2="253.9" y2="606.1899999999999" stroke="#231f20" stroke-width="0.8"/>
<line x1="248.70000000000002" y1="603.37" x2="253.9" y2="603.37" stroke="#231f20" stroke-width="0.8"/>
<path d="M268.1 565.78 L269.40000000000003 568.0799999999999 L266.8 568.0799999999999Z" fill="#78b4e0"/>
<path d="M268.1 573.3 L269.40000000000003 575.5999999999999 L266.8 575.5999999999999Z" fill="#78b4e0"/>
<path d="M268.1 585.4999999999999 L269.40000000000003 583.1999999999999 L266.8 583.1999999999999Z" fill="#78c490"/>
<path d="M264.1 596.8 L265.40000000000003 599.0999999999999 L262.8 599.0999999999999Z" fill="#78c490"/>
<path d="M268.1 597.27 L269.40000000000003 599.5699999999999 L266.8 599.5699999999999Z" fill="#78b4e0"/>
<path d="M271.6 596.8 L272.90000000000003 599.0999999999999 L270.3 599.0999999999999Z" fill="#f4b478"/>
<path d="M265.6 607.14 L266.90000000000003 609.4399999999999 L264.3 609.4399999999999Z" fill="#f4cc78"/>
<path d="M270.6 606.67 L271.90000000000003 608.9699999999999 L269.3 608.9699999999999Z" fill="#f4b478"/>
<path d="M267.1 589.75 L268.40000000000003 592.05 L265.8 592.05Z" fill="#f4b478"/>
<line x1="263.5" y1="595.38" x2="272.70000000000005" y2="595.38" stroke="#2a6a8a" stroke-width="0.8"/>
<line x1="268.1" y1="599.14" x2="268.1" y2="591.15" stroke="#2a6a8a" stroke-width="0.8"/>
<line x1="265.5" y1="599.14" x2="270.70000000000005" y2="599.14" stroke="#2a6a8a" stroke-width="0.8"/>
<line x1="265.5" y1="591.15" x2="270.70000000000005" y2="591.15" stroke="#2a6a8a" stroke-width="0.8"/>
<text x="243.5" y="551.1" font-size="6.9" text-anchor="middle" fill="#231f20" font-weight="normal" textLength="36.4" lengthAdjust="spacingAndGlyphs" stroke="#231f20" stroke-width="0.18">MDS/MPN**</text>
<text x="243.55" y="559.4" font-size="6.9" text-anchor="middle" fill="#231f20" font-weight="normal" textLength="47.3" lengthAdjust="spacingAndGlyphs" stroke="#231f20" stroke-width="0.18">MDS/MPN,LPD*</text>
<path d="M219.4 564.2 L219.4 562.2 L268.1 562.2 L268.1 564.2" fill="none" stroke="#231f20" stroke-width="0.6"/>
<text x="235.95" y="572.1" font-size="6.9" text-anchor="middle" fill="#231f20" font-weight="normal" textLength="32.1" lengthAdjust="spacingAndGlyphs" stroke="#231f20" stroke-width="0.18">MDS/MPN,</text>
<text x="237.2" y="579.4" font-size="6.9" text-anchor="middle" fill="#231f20" font-weight="normal" textLength="22.4" lengthAdjust="spacingAndGlyphs" stroke="#231f20" stroke-width="0.18">LPD***</text>
<path d="M219.4 584.5 L219.4 581.5 L251.3 581.5 L251.3 584.5" fill="none" stroke="#231f20" stroke-width="0.6"/>
<rect x="284.15" y="566.15" width="3.7" height="3.7" fill="#f39a3d"/>
<path d="M291.4 565.965 L293.435 569.665 L289.36499999999995 569.665Z" fill="#f39a3d"/>
<text x="296.8" y="570.5" font-size="7.1" text-anchor="start" fill="#2b2b2b" font-weight="normal" textLength="18" lengthAdjust="spacingAndGlyphs" stroke="#2b2b2b" stroke-width="0.18">ET-like</text>
<path d="M286 575.865 L288.035 579.5649999999999 L283.965 579.5649999999999Z" fill="#2e1f5e"/>
<rect x="289.54999999999995" y="576.05" width="3.7" height="3.7" fill="#2e1f5e"/>
<text x="296.8" y="580.4" font-size="7.1" text-anchor="start" fill="#2b2b2b" font-weight="normal" textLength="18.7" lengthAdjust="spacingAndGlyphs" stroke="#2b2b2b" stroke-width="0.18">PV-like</text>
<path d="M286 585.765 L288.035 589.4649999999999 L283.965 589.4649999999999Z" fill="#f6bd3f"/>
<path d="M291.4 589.8349999999999 L293.435 586.135 L289.36499999999995 586.135Z" fill="#f6bd3f"/>
<text x="296.8" y="590.3" font-size="7.1" text-anchor="start" fill="#2b2b2b" font-weight="normal" textLength="14.1" lengthAdjust="spacingAndGlyphs" stroke="#2b2b2b" stroke-width="0.18">MDS</text>
<path d="M286 595.6650000000001 L288.035 599.365 L283.965 599.365Z" fill="#3b90d2"/>
<path d="M291.4 599.735 L293.435 596.0350000000001 L289.36499999999995 596.0350000000001Z" fill="#3b90d2"/>
<text x="296.8" y="600.2" font-size="7.1" text-anchor="start" fill="#2b2b2b" font-weight="normal" textLength="30.3" lengthAdjust="spacingAndGlyphs" stroke="#2b2b2b" stroke-width="0.18">MDS/MPN</text>
<path d="M286 605.565 L288.035 609.265 L283.965 609.265Z" fill="#3aa45c"/>
<path d="M291.4 609.635 L293.435 605.9350000000001 L289.36499999999995 605.9350000000001Z" fill="#3aa45c"/>
<text x="296.8" y="610.1" font-size="7.1" text-anchor="start" fill="#2b2b2b" font-weight="normal" textLength="45.8" lengthAdjust="spacingAndGlyphs" stroke="#2b2b2b" stroke-width="0.18">MDS/MPN, LPD</text>
<text x="371.8" y="549.4" font-size="6.3" text-anchor="middle" fill="#231f20" font-weight="normal" textLength="10.4" lengthAdjust="spacingAndGlyphs" stroke="#231f20" stroke-width="0.18">WT</text>
<line x1="363.2" y1="552.1" x2="380.5" y2="552.1" stroke="#4fa9d9" stroke-width="1.1"/>
<text x="393" y="549.4" font-size="6.3" text-anchor="middle" fill="#231f20" font-weight="normal" textLength="20" lengthAdjust="spacingAndGlyphs" stroke="#231f20" stroke-width="0.18">Asxl1<tspan baseline-shift="super" font-size="65%">−/−</tspan></text>
<line x1="384.4" y1="552.1" x2="401.7" y2="552.1" stroke="#4fa9d9" stroke-width="1.1"/>
<text x="418.1" y="549.4" font-size="6.3" text-anchor="middle" fill="#231f20" font-weight="normal" textLength="16.4" lengthAdjust="spacingAndGlyphs" stroke="#231f20" stroke-width="0.18">Ezh2<tspan baseline-shift="super" font-size="65%">−/−</tspan></text>
<line x1="409.9" y1="552.1" x2="426.3" y2="552.1" stroke="#4fa9d9" stroke-width="1.1"/>
<text x="458.2" y="549.4" font-size="6.3" text-anchor="middle" fill="#231f20" font-weight="normal" textLength="38.4" lengthAdjust="spacingAndGlyphs" stroke="#231f20" stroke-width="0.18">Asxl1<tspan baseline-shift="super" font-size="65%">−/−</tspan>Ezh2<tspan baseline-shift="super" font-size="65%">−/−</tspan></text>
<line x1="434.1" y1="552.1" x2="483.4" y2="552.1" stroke="#4fa9d9" stroke-width="1.1"/>
<clipPath id="ci9"><rect x="360.9" y="556.6" width="22.40" height="55.60"/></clipPath>
<g clip-path="url(#ci9)">
<rect x="360.9" y="556.6" width="22.400000000000034" height="55.60000000000002" fill="#e2e1e1"/>
<line x1="361.4" y1="556.6" x2="361.4" y2="612.2" stroke="#d6d6d4" stroke-width="0.3"/>
<line x1="365.3" y1="556.6" x2="365.3" y2="612.2" stroke="#d6d6d4" stroke-width="0.3"/>
<line x1="369.2" y1="556.6" x2="369.2" y2="612.2" stroke="#d6d6d4" stroke-width="0.3"/>
<line x1="373.1" y1="556.6" x2="373.1" y2="612.2" stroke="#d6d6d4" stroke-width="0.3"/>
<line x1="377.0" y1="556.6" x2="377.0" y2="612.2" stroke="#d6d6d4" stroke-width="0.3"/>
<line x1="380.9" y1="556.6" x2="380.9" y2="612.2" stroke="#d6d6d4" stroke-width="0.3"/>
<line x1="360.9" y1="557.6" x2="383.3" y2="557.6" stroke="#d6d6d4" stroke-width="0.3"/>
<line x1="360.9" y1="561.5" x2="383.3" y2="561.5" stroke="#d6d6d4" stroke-width="0.3"/>
<line x1="360.9" y1="565.4" x2="383.3" y2="565.4" stroke="#d6d6d4" stroke-width="0.3"/>
<line x1="360.9" y1="569.3" x2="383.3" y2="569.3" stroke="#d6d6d4" stroke-width="0.3"/>
<line x1="360.9" y1="573.2" x2="383.3" y2="573.2" stroke="#d6d6d4" stroke-width="0.3"/>
<line x1="360.9" y1="577.1" x2="383.3" y2="577.1" stroke="#d6d6d4" stroke-width="0.3"/>
<line x1="360.9" y1="581.0" x2="383.3" y2="581.0" stroke="#d6d6d4" stroke-width="0.3"/>
<line x1="360.9" y1="584.9" x2="383.3" y2="584.9" stroke="#d6d6d4" stroke-width="0.3"/>
<line x1="360.9" y1="588.8" x2="383.3" y2="588.8" stroke="#d6d6d4" stroke-width="0.3"/>
<line x1="360.9" y1="592.7" x2="383.3" y2="592.7" stroke="#d6d6d4" stroke-width="0.3"/>
<line x1="360.9" y1="596.6" x2="383.3" y2="596.6" stroke="#d6d6d4" stroke-width="0.3"/>
<line x1="360.9" y1="600.5" x2="383.3" y2="600.5" stroke="#d6d6d4" stroke-width="0.3"/>
<line x1="360.9" y1="604.4" x2="383.3" y2="604.4" stroke="#d6d6d4" stroke-width="0.3"/>
<line x1="360.9" y1="608.3" x2="383.3" y2="608.3" stroke="#d6d6d4" stroke-width="0.3"/>
<line x1="360.9" y1="612.2" x2="383.3" y2="612.2" stroke="#d6d6d4" stroke-width="0.3"/>
<line x1="362.6" y1="556.6" x2="362.6" y2="612.2" stroke="#bdbdbd" stroke-width="0.7"/>
<line x1="378.2" y1="556.6" x2="378.2" y2="612.2" stroke="#bdbdbd" stroke-width="0.7"/>
<line x1="360.9" y1="560.5" x2="383.3" y2="560.5" stroke="#bdbdbd" stroke-width="0.7"/>
<line x1="360.9" y1="576.1" x2="383.3" y2="576.1" stroke="#bdbdbd" stroke-width="0.7"/>
<line x1="360.9" y1="591.9" x2="383.3" y2="591.9" stroke="#bdbdbd" stroke-width="0.7"/>
<line x1="360.9" y1="607.4" x2="383.3" y2="607.4" stroke="#bdbdbd" stroke-width="0.7"/>
<path d="M372.5 590 C375 589.5 376.5 592 376.6 596 C376.8 600 377 604 376 607 C375 609 372 609 371 607 C370 603 370.3 598 370.4 594 C370.5 591.5 371 590.2 372.5 590Z" fill="#3c0a14" filter="url(#bl05)"/>
</g>
<clipPath id="ci10"><rect x="386.1" y="556.6" width="18.10" height="55.60"/></clipPath>
<g clip-path="url(#ci10)">
<rect x="386.1" y="556.6" width="18.099999999999966" height="55.60000000000002" fill="#e3e2e2"/>
<line x1="386.6" y1="556.6" x2="386.6" y2="612.2" stroke="#d6d6d4" stroke-width="0.3"/>
<line x1="390.5" y1="556.6" x2="390.5" y2="612.2" stroke="#d6d6d4" stroke-width="0.3"/>
<line x1="394.4" y1="556.6" x2="394.4" y2="612.2" stroke="#d6d6d4" stroke-width="0.3"/>
<line x1="398.3" y1="556.6" x2="398.3" y2="612.2" stroke="#d6d6d4" stroke-width="0.3"/>
<line x1="402.2" y1="556.6" x2="402.2" y2="612.2" stroke="#d6d6d4" stroke-width="0.3"/>
<line x1="386.1" y1="557.6" x2="404.2" y2="557.6" stroke="#d6d6d4" stroke-width="0.3"/>
<line x1="386.1" y1="561.5" x2="404.2" y2="561.5" stroke="#d6d6d4" stroke-width="0.3"/>
<line x1="386.1" y1="565.4" x2="404.2" y2="565.4" stroke="#d6d6d4" stroke-width="0.3"/>
<line x1="386.1" y1="569.3" x2="404.2" y2="569.3" stroke="#d6d6d4" stroke-width="0.3"/>
<line x1="386.1" y1="573.2" x2="404.2" y2="573.2" stroke="#d6d6d4" stroke-width="0.3"/>
<line x1="386.1" y1="577.1" x2="404.2" y2="577.1" stroke="#d6d6d4" stroke-width="0.3"/>
<line x1="386.1" y1="581.0" x2="404.2" y2="581.0" stroke="#d6d6d4" stroke-width="0.3"/>
<line x1="386.1" y1="584.9" x2="404.2" y2="584.9" stroke="#d6d6d4" stroke-width="0.3"/>
<line x1="386.1" y1="588.8" x2="404.2" y2="588.8" stroke="#d6d6d4" stroke-width="0.3"/>
<line x1="386.1" y1="592.7" x2="404.2" y2="592.7" stroke="#d6d6d4" stroke-width="0.3"/>
<line x1="386.1" y1="596.6" x2="404.2" y2="596.6" stroke="#d6d6d4" stroke-width="0.3"/>
<line x1="386.1" y1="600.5" x2="404.2" y2="600.5" stroke="#d6d6d4" stroke-width="0.3"/>
<line x1="386.1" y1="604.4" x2="404.2" y2="604.4" stroke="#d6d6d4" stroke-width="0.3"/>
<line x1="386.1" y1="608.3" x2="404.2" y2="608.3" stroke="#d6d6d4" stroke-width="0.3"/>
<line x1="386.1" y1="612.2" x2="404.2" y2="612.2" stroke="#d6d6d4" stroke-width="0.3"/>
<line x1="386.8" y1="556.6" x2="386.8" y2="612.2" stroke="#bdbdbd" stroke-width="0.7"/>
<line x1="402.4" y1="556.6" x2="402.4" y2="612.2" stroke="#bdbdbd" stroke-width="0.7"/>
<line x1="386.1" y1="560.5" x2="404.2" y2="560.5" stroke="#bdbdbd" stroke-width="0.7"/>
<line x1="386.1" y1="576.1" x2="404.2" y2="576.1" stroke="#bdbdbd" stroke-width="0.7"/>
<line x1="386.1" y1="591.9" x2="404.2" y2="591.9" stroke="#bdbdbd" stroke-width="0.7"/>
<line x1="386.1" y1="607.4" x2="404.2" y2="607.4" stroke="#bdbdbd" stroke-width="0.7"/>
<path d="M393 587 C395.5 587 396.3 591 396.2 596 C396.1 601 396.4 606 394.5 608.6 C392.5 609.5 390.6 607 390.5 602 C390.4 597 390.5 591 391.2 589 C391.6 587.6 392.2 587 393 587Z" fill="#3e0812" filter="url(#bl05)"/>
<circle cx="399" cy="596" r="1.5" fill="none" stroke="#888" stroke-width="0.4"/>
</g>
<clipPath id="ci11"><rect x="407.1" y="556.6" width="21.60" height="55.60"/></clipPath>
<g clip-path="url(#ci11)">
<rect x="407.1" y="556.6" width="21.599999999999966" height="55.60000000000002" fill="#e9dcd2"/>
<rect x="407" y="556" width="22" height="34" fill="#e8c8b8" opacity="0.55" filter="url(#bl3)"/>
<line x1="407.6" y1="556.6" x2="407.6" y2="612.2" stroke="#d6d6d4" stroke-width="0.3"/>
<line x1="411.5" y1="556.6" x2="411.5" y2="612.2" stroke="#d6d6d4" stroke-width="0.3"/>
<line x1="415.4" y1="556.6" x2="415.4" y2="612.2" stroke="#d6d6d4" stroke-width="0.3"/>
<line x1="419.3" y1="556.6" x2="419.3" y2="612.2" stroke="#d6d6d4" stroke-width="0.3"/>
<line x1="423.2" y1="556.6" x2="423.2" y2="612.2" stroke="#d6d6d4" stroke-width="0.3"/>
<line x1="427.1" y1="556.6" x2="427.1" y2="612.2" stroke="#d6d6d4" stroke-width="0.3"/>
<line x1="407.1" y1="557.6" x2="428.7" y2="557.6" stroke="#d6d6d4" stroke-width="0.3"/>
<line x1="407.1" y1="561.5" x2="428.7" y2="561.5" stroke="#d6d6d4" stroke-width="0.3"/>
<line x1="407.1" y1="565.4" x2="428.7" y2="565.4" stroke="#d6d6d4" stroke-width="0.3"/>
<line x1="407.1" y1="569.3" x2="428.7" y2="569.3" stroke="#d6d6d4" stroke-width="0.3"/>
<line x1="407.1" y1="573.2" x2="428.7" y2="573.2" stroke="#d6d6d4" stroke-width="0.3"/>
<line x1="407.1" y1="577.1" x2="428.7" y2="577.1" stroke="#d6d6d4" stroke-width="0.3"/>
<line x1="407.1" y1="581.0" x2="428.7" y2="581.0" stroke="#d6d6d4" stroke-width="0.3"/>
<line x1="407.1" y1="584.9" x2="428.7" y2="584.9" stroke="#d6d6d4" stroke-width="0.3"/>
<line x1="407.1" y1="588.8" x2="428.7" y2="588.8" stroke="#d6d6d4" stroke-width="0.3"/>
<line x1="407.1" y1="592.7" x2="428.7" y2="592.7" stroke="#d6d6d4" stroke-width="0.3"/>
<line x1="407.1" y1="596.6" x2="428.7" y2="596.6" stroke="#d6d6d4" stroke-width="0.3"/>
<line x1="407.1" y1="600.5" x2="428.7" y2="600.5" stroke="#d6d6d4" stroke-width="0.3"/>
<line x1="407.1" y1="604.4" x2="428.7" y2="604.4" stroke="#d6d6d4" stroke-width="0.3"/>
<line x1="407.1" y1="608.3" x2="428.7" y2="608.3" stroke="#d6d6d4" stroke-width="0.3"/>
<line x1="407.1" y1="612.2" x2="428.7" y2="612.2" stroke="#d6d6d4" stroke-width="0.3"/>
<line x1="411" y1="556.6" x2="411" y2="612.2" stroke="#bdbdbd" stroke-width="0.7"/>
<line x1="426.6" y1="556.6" x2="426.6" y2="612.2" stroke="#bdbdbd" stroke-width="0.7"/>
<line x1="407.1" y1="560.5" x2="428.7" y2="560.5" stroke="#bdbdbd" stroke-width="0.7"/>
<line x1="407.1" y1="576.1" x2="428.7" y2="576.1" stroke="#bdbdbd" stroke-width="0.7"/>
<line x1="407.1" y1="591.9" x2="428.7" y2="591.9" stroke="#bdbdbd" stroke-width="0.7"/>
<line x1="407.1" y1="607.4" x2="428.7" y2="607.4" stroke="#bdbdbd" stroke-width="0.7"/>
<path d="M418.5 580.4 C421.5 580.6 422.5 584 422.2 589 C421.8 595 420.5 601 420.5 606 C420.3 609 418.5 610.3 417 609.5 C414.5 606 413.6 600 413.6 594 C413.6 587 415 580.5 418.5 580.4Z" fill="#30050c" filter="url(#bl05)"/>
</g>
<clipPath id="ci12"><rect x="432.2" y="557.8" width="24.40" height="54.80"/></clipPath>
<g clip-path="url(#ci12)">
<rect x="432.2" y="557.8" width="24.400000000000034" height="54.80000000000007" fill="#e4e2e2"/>
<line x1="432.7" y1="557.8" x2="432.7" y2="612.6" stroke="#d6d6d4" stroke-width="0.3"/>
<line x1="436.6" y1="557.8" x2="436.6" y2="612.6" stroke="#d6d6d4" stroke-width="0.3"/>
<line x1="440.5" y1="557.8" x2="440.5" y2="612.6" stroke="#d6d6d4" stroke-width="0.3"/>
<line x1="444.4" y1="557.8" x2="444.4" y2="612.6" stroke="#d6d6d4" stroke-width="0.3"/>
<line x1="448.3" y1="557.8" x2="448.3" y2="612.6" stroke="#d6d6d4" stroke-width="0.3"/>
<line x1="452.2" y1="557.8" x2="452.2" y2="612.6" stroke="#d6d6d4" stroke-width="0.3"/>
<line x1="456.1" y1="557.8" x2="456.1" y2="612.6" stroke="#d6d6d4" stroke-width="0.3"/>
<line x1="432.2" y1="558.8" x2="456.6" y2="558.8" stroke="#d6d6d4" stroke-width="0.3"/>
<line x1="432.2" y1="562.7" x2="456.6" y2="562.7" stroke="#d6d6d4" stroke-width="0.3"/>
<line x1="432.2" y1="566.6" x2="456.6" y2="566.6" stroke="#d6d6d4" stroke-width="0.3"/>
<line x1="432.2" y1="570.5" x2="456.6" y2="570.5" stroke="#d6d6d4" stroke-width="0.3"/>
<line x1="432.2" y1="574.4" x2="456.6" y2="574.4" stroke="#d6d6d4" stroke-width="0.3"/>
<line x1="432.2" y1="578.3" x2="456.6" y2="578.3" stroke="#d6d6d4" stroke-width="0.3"/>
<line x1="432.2" y1="582.2" x2="456.6" y2="582.2" stroke="#d6d6d4" stroke-width="0.3"/>
<line x1="432.2" y1="586.1" x2="456.6" y2="586.1" stroke="#d6d6d4" stroke-width="0.3"/>
<line x1="432.2" y1="590.0" x2="456.6" y2="590.0" stroke="#d6d6d4" stroke-width="0.3"/>
<line x1="432.2" y1="593.9" x2="456.6" y2="593.9" stroke="#d6d6d4" stroke-width="0.3"/>
<line x1="432.2" y1="597.8" x2="456.6" y2="597.8" stroke="#d6d6d4" stroke-width="0.3"/>
<line x1="432.2" y1="601.7" x2="456.6" y2="601.7" stroke="#d6d6d4" stroke-width="0.3"/>
<line x1="432.2" y1="605.6" x2="456.6" y2="605.6" stroke="#d6d6d4" stroke-width="0.3"/>
<line x1="432.2" y1="609.5" x2="456.6" y2="609.5" stroke="#d6d6d4" stroke-width="0.3"/>
<line x1="436.3" y1="557.8" x2="436.3" y2="612.6" stroke="#bdbdbd" stroke-width="0.7"/>
<line x1="453.6" y1="557.8" x2="453.6" y2="612.6" stroke="#bdbdbd" stroke-width="0.7"/>
<line x1="432.2" y1="560.5" x2="456.6" y2="560.5" stroke="#bdbdbd" stroke-width="0.7"/>
<line x1="432.2" y1="576.1" x2="456.6" y2="576.1" stroke="#bdbdbd" stroke-width="0.7"/>
<line x1="432.2" y1="591.9" x2="456.6" y2="591.9" stroke="#bdbdbd" stroke-width="0.7"/>
<line x1="432.2" y1="607.4" x2="456.6" y2="607.4" stroke="#bdbdbd" stroke-width="0.7"/>
<path d="M448.7 573.7 C449.8 574.5 450.4 576 450.2 578 C450.1 580 450 581 449.9 582.3 C449.6 585 449.2 587.5 448.7 589.6 C448.2 592 447.8 594 447.8 596 C447.9 598.5 448.3 600.5 448.7 602.4 C449.1 604.5 449.6 606 449.6 607.4 C449 608.5 448 608.9 447.3 608.8 C446 608.5 445 607.8 443.7 607 C442.2 605.8 441 604.2 440 602.4 C439 600.3 438.3 597.8 438 595.1 C437.7 593 437.6 591.2 437.7 589.6 C437.8 587 438.1 584.5 438.7 582.3 C439.2 580.3 439.9 578.4 440.9 576.9 C442 575.5 443.2 574.5 444.6 574.1 C446 573.7 447.5 573.4 448.7 573.7Z" fill="#6a0e1c" stroke="#f0d0d0" stroke-width="0.6" filter="url(#bl05)"/>
<circle cx="446" cy="581.5" r="1.1" fill="#e0a0a0"/>
<circle cx="443.8" cy="596" r="1.1" fill="#e0a0a0"/>
<circle cx="450.5" cy="595.5" r="1.6" fill="none" stroke="#777" stroke-width="0.4"/>
</g>
<clipPath id="ci13"><rect x="459.8" y="557.8" width="24.60" height="54.80"/></clipPath>
<g clip-path="url(#ci13)">
<rect x="459.8" y="557.8" width="24.599999999999966" height="54.80000000000007" fill="#e6e2e2"/>
<line x1="460.3" y1="557.8" x2="460.3" y2="612.6" stroke="#d6d6d4" stroke-width="0.3"/>
<line x1="464.2" y1="557.8" x2="464.2" y2="612.6" stroke="#d6d6d4" stroke-width="0.3"/>
<line x1="468.1" y1="557.8" x2="468.1" y2="612.6" stroke="#d6d6d4" stroke-width="0.3"/>
<line x1="472.0" y1="557.8" x2="472.0" y2="612.6" stroke="#d6d6d4" stroke-width="0.3"/>
<line x1="475.9" y1="557.8" x2="475.9" y2="612.6" stroke="#d6d6d4" stroke-width="0.3"/>
<line x1="479.8" y1="557.8" x2="479.8" y2="612.6" stroke="#d6d6d4" stroke-width="0.3"/>
<line x1="483.7" y1="557.8" x2="483.7" y2="612.6" stroke="#d6d6d4" stroke-width="0.3"/>
<line x1="459.8" y1="558.8" x2="484.4" y2="558.8" stroke="#d6d6d4" stroke-width="0.3"/>
<line x1="459.8" y1="562.7" x2="484.4" y2="562.7" stroke="#d6d6d4" stroke-width="0.3"/>
<line x1="459.8" y1="566.6" x2="484.4" y2="566.6" stroke="#d6d6d4" stroke-width="0.3"/>
<line x1="459.8" y1="570.5" x2="484.4" y2="570.5" stroke="#d6d6d4" stroke-width="0.3"/>
<line x1="459.8" y1="574.4" x2="484.4" y2="574.4" stroke="#d6d6d4" stroke-width="0.3"/>
<line x1="459.8" y1="578.3" x2="484.4" y2="578.3" stroke="#d6d6d4" stroke-width="0.3"/>
<line x1="459.8" y1="582.2" x2="484.4" y2="582.2" stroke="#d6d6d4" stroke-width="0.3"/>
<line x1="459.8" y1="586.1" x2="484.4" y2="586.1" stroke="#d6d6d4" stroke-width="0.3"/>
<line x1="459.8" y1="590.0" x2="484.4" y2="590.0" stroke="#d6d6d4" stroke-width="0.3"/>
<line x1="459.8" y1="593.9" x2="484.4" y2="593.9" stroke="#d6d6d4" stroke-width="0.3"/>
<line x1="459.8" y1="597.8" x2="484.4" y2="597.8" stroke="#d6d6d4" stroke-width="0.3"/>
<line x1="459.8" y1="601.7" x2="484.4" y2="601.7" stroke="#d6d6d4" stroke-width="0.3"/>
<line x1="459.8" y1="605.6" x2="484.4" y2="605.6" stroke="#d6d6d4" stroke-width="0.3"/>
<line x1="459.8" y1="609.5" x2="484.4" y2="609.5" stroke="#d6d6d4" stroke-width="0.3"/>
<line x1="464.4" y1="557.8" x2="464.4" y2="612.6" stroke="#bdbdbd" stroke-width="0.7"/>
<line x1="482.2" y1="557.8" x2="482.2" y2="612.6" stroke="#bdbdbd" stroke-width="0.7"/>
<line x1="459.8" y1="560.5" x2="484.4" y2="560.5" stroke="#bdbdbd" stroke-width="0.7"/>
<line x1="459.8" y1="576.1" x2="484.4" y2="576.1" stroke="#bdbdbd" stroke-width="0.7"/>
<line x1="459.8" y1="591.9" x2="484.4" y2="591.9" stroke="#bdbdbd" stroke-width="0.7"/>
<line x1="459.8" y1="607.4" x2="484.4" y2="607.4" stroke="#bdbdbd" stroke-width="0.7"/>
<path d="M475.3 567.8 C477 568.2 478.6 569.2 479.4 570.5 C480 572.3 480.1 574.2 479.9 576 C479.7 578.2 479.4 580.2 479.4 582.3 C479.5 584 479.9 585.4 479.9 586.9 C479.8 589 479.3 591.2 479 593.3 C478.8 595.8 478.6 598.2 478.5 600.6 C478.4 603 478.3 605.5 478 607.9 C477 609.2 475.6 609.8 474.4 609.7 C472.8 609.3 471.2 608.3 469.9 607 C468.5 605.2 467.5 603 466.7 600.6 C465.7 598.2 465 595.8 464.4 593.3 C463.9 591.2 463.5 589 463.5 586.9 C463.5 584.6 463.8 582.5 464.4 580.5 C465 578.2 466 576 467.1 574.1 C468.2 572.3 469.4 570.8 470.8 569.6 C472.2 568.4 473.7 567.6 475.3 567.8Z" fill="#921826" stroke="#f0d0d0" stroke-width="0.6" filter="url(#bl05)"/>
<path d="M471 582 L473 580.5 L472.8 586 L470.5 588.5 L469.5 586Z" fill="#e8b8b8" opacity="0.85"/>
<path d="M467 590 C469 596 472 602 476 606" stroke="#7a0e1c" stroke-width="1.2" fill="none" opacity="0.6"/>
</g>
<line x1="409.3" y1="615.1" x2="453.1" y2="615.1" stroke="#4fa9d9" stroke-width="1.1"/>
<line x1="460.4" y1="615.1" x2="485.4" y2="615.1" stroke="#4fa9d9" stroke-width="1.1"/>
<text x="431.4" y="625.1" font-size="8.2" text-anchor="middle" fill="#231f20" font-weight="normal" textLength="35.4" lengthAdjust="spacingAndGlyphs" stroke="#231f20" stroke-width="0.18">MDS/MPN</text>
<text x="431.8" y="633.7" font-size="8.2" text-anchor="middle" fill="#231f20" font-weight="normal" textLength="19" lengthAdjust="spacingAndGlyphs" stroke="#231f20" stroke-width="0.18">+ LPD</text>
<text x="473" y="625.1" font-size="8.2" text-anchor="middle" fill="#231f20" font-weight="normal" textLength="35.1" lengthAdjust="spacingAndGlyphs" stroke="#231f20" stroke-width="0.18">MDS/MPN</text>
<text x="357.8" y="599" font-size="7.0" text-anchor="middle" fill="#231f20" font-weight="normal" transform="rotate(-90 357.8 599)" textLength="20" lengthAdjust="spacingAndGlyphs" stroke="#231f20" stroke-width="0.18">10 mm</text>
<line x1="363.6" y1="591.8" x2="363.6" y2="606.6" stroke="#111" stroke-width="1.3"/>
<rect x="0.5" y="0.5" width="519" height="657" fill="none" stroke="#333" stroke-width="1"/>
</svg></div></body></html>
